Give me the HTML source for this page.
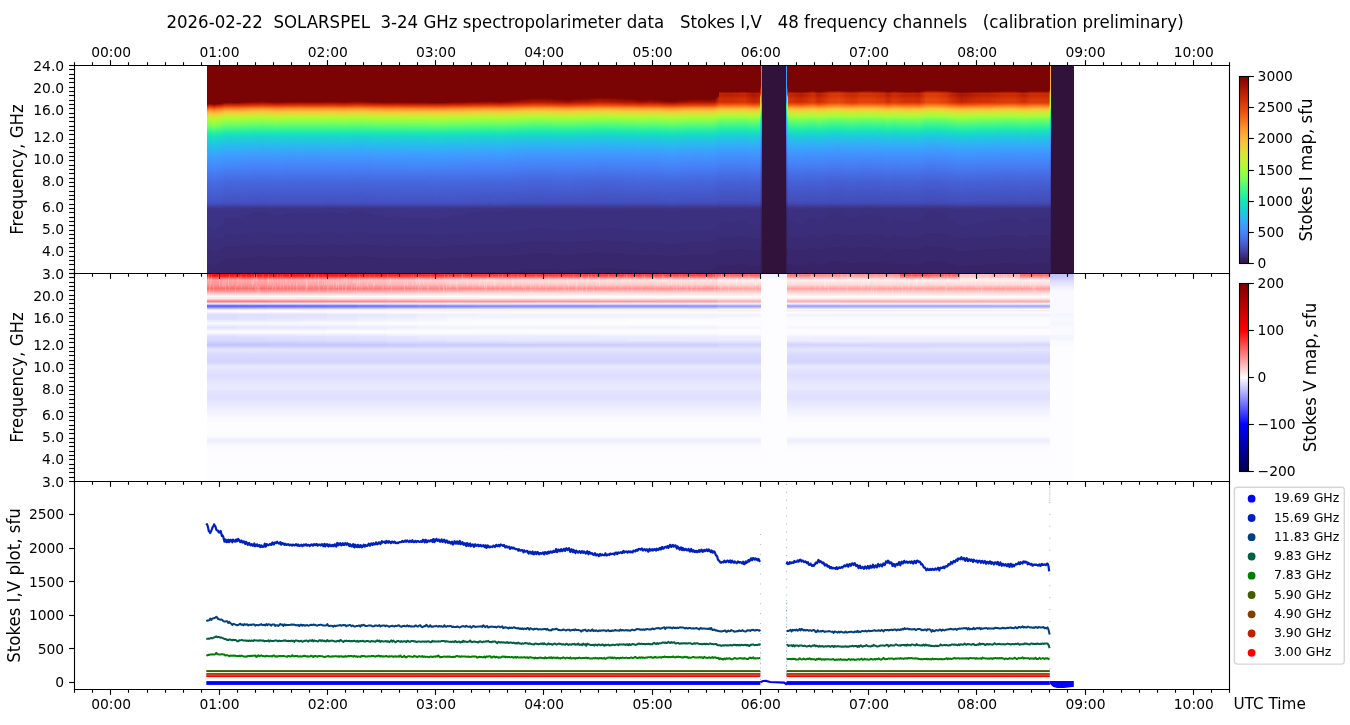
<!DOCTYPE html>
<html lang="en"><head><meta charset="utf-8"><title>SOLARSPEL spectropolarimeter data</title><style>html,body{margin:0;padding:0;background:#fff;}svg{display:block;}</style></head><body><svg width="1350" height="725" viewBox="0 0 1350 725"><defs><linearGradient id="gi0" x1="0" y1="0" x2="0" y2="1"><stop offset="0" stop-color="#7a0403"/><stop offset="0.1851" stop-color="#7a0403"/><stop offset="0.1923" stop-color="#af1801"/><stop offset="0.1971" stop-color="#ce2d04"/><stop offset="0.2019" stop-color="#e4450a"/><stop offset="0.2091" stop-color="#f56918"/><stop offset="0.2188" stop-color="#fe962b"/><stop offset="0.226" stop-color="#fcb136"/><stop offset="0.2356" stop-color="#f1cb3a"/><stop offset="0.2524" stop-color="#cbed34"/><stop offset="0.2572" stop-color="#bcf534"/><stop offset="0.274" stop-color="#9ffd3f"/><stop offset="0.2957" stop-color="#71fe5f"/><stop offset="0.3053" stop-color="#55fa76"/><stop offset="0.3221" stop-color="#2ff19b"/><stop offset="0.3341" stop-color="#1de7b2"/><stop offset="0.3438" stop-color="#18dec0"/><stop offset="0.3702" stop-color="#1ccdd8"/><stop offset="0.4159" stop-color="#33adf7"/><stop offset="0.4615" stop-color="#4196ff"/><stop offset="0.5096" stop-color="#4680f6"/><stop offset="0.5625" stop-color="#466be3"/><stop offset="0.6442" stop-color="#4559cb"/><stop offset="0.6562" stop-color="#4456c7"/><stop offset="0.6659" stop-color="#434eba"/><stop offset="0.6875" stop-color="#3d358b"/><stop offset="0.7067" stop-color="#3c3286"/><stop offset="0.7861" stop-color="#3c3286"/><stop offset="0.7885" stop-color="#3b2f80"/><stop offset="0.8413" stop-color="#3b2f80"/><stop offset="0.8438" stop-color="#3a2d79"/><stop offset="0.8942" stop-color="#3a2d79"/><stop offset="0.8966" stop-color="#392a73"/><stop offset="0.9591" stop-color="#392a73"/><stop offset="0.9615" stop-color="#38276d"/><stop offset="1" stop-color="#38276d"/></linearGradient><linearGradient id="gi1" x1="0" y1="0" x2="0" y2="1"><stop offset="0" stop-color="#7a0403"/><stop offset="0.1827" stop-color="#7a0403"/><stop offset="0.1851" stop-color="#810602"/><stop offset="0.1923" stop-color="#b71d02"/><stop offset="0.1971" stop-color="#d43305"/><stop offset="0.2019" stop-color="#e7490c"/><stop offset="0.2067" stop-color="#f46617"/><stop offset="0.2163" stop-color="#fe932a"/><stop offset="0.2236" stop-color="#fdae35"/><stop offset="0.2356" stop-color="#eecf3a"/><stop offset="0.2524" stop-color="#c6f034"/><stop offset="0.262" stop-color="#affa37"/><stop offset="0.2764" stop-color="#96fe44"/><stop offset="0.2933" stop-color="#71fe5f"/><stop offset="0.3125" stop-color="#3ff68a"/><stop offset="0.3245" stop-color="#27eea4"/><stop offset="0.3365" stop-color="#19e3b9"/><stop offset="0.3654" stop-color="#1bd0d5"/><stop offset="0.3966" stop-color="#2ab9ee"/><stop offset="0.4399" stop-color="#3d9efe"/><stop offset="0.4904" stop-color="#4687fb"/><stop offset="0.5601" stop-color="#466be3"/><stop offset="0.6538" stop-color="#4456c7"/><stop offset="0.6659" stop-color="#434eba"/><stop offset="0.6875" stop-color="#3d358b"/><stop offset="0.7067" stop-color="#3c3286"/><stop offset="0.7812" stop-color="#3c3286"/><stop offset="0.7837" stop-color="#3b2f80"/><stop offset="0.8341" stop-color="#3b2f80"/><stop offset="0.8365" stop-color="#3a2d79"/><stop offset="0.8894" stop-color="#3a2d79"/><stop offset="0.8918" stop-color="#392a73"/><stop offset="0.9519" stop-color="#392a73"/><stop offset="0.9543" stop-color="#38276d"/><stop offset="1" stop-color="#38276d"/></linearGradient><linearGradient id="gi2" x1="0" y1="0" x2="0" y2="1"><stop offset="0" stop-color="#7a0403"/><stop offset="0.1827" stop-color="#7a0403"/><stop offset="0.1899" stop-color="#b21a01"/><stop offset="0.1947" stop-color="#cc2b04"/><stop offset="0.2019" stop-color="#eb500e"/><stop offset="0.2091" stop-color="#f9781e"/><stop offset="0.2188" stop-color="#fea431"/><stop offset="0.2284" stop-color="#f7c13a"/><stop offset="0.2428" stop-color="#dbe236"/><stop offset="0.2572" stop-color="#b4f836"/><stop offset="0.274" stop-color="#96fe44"/><stop offset="0.2981" stop-color="#61fc6c"/><stop offset="0.3077" stop-color="#46f884"/><stop offset="0.3197" stop-color="#2cf09e"/><stop offset="0.3365" stop-color="#19e2bb"/><stop offset="0.3654" stop-color="#1ccdd8"/><stop offset="0.4062" stop-color="#2fb2f4"/><stop offset="0.4351" stop-color="#3d9efe"/><stop offset="0.488" stop-color="#4687fb"/><stop offset="0.5577" stop-color="#466be3"/><stop offset="0.6514" stop-color="#4456c7"/><stop offset="0.6635" stop-color="#4451bf"/><stop offset="0.6707" stop-color="#4249b1"/><stop offset="0.6755" stop-color="#4040a2"/><stop offset="0.6779" stop-color="#4040a2"/><stop offset="0.6875" stop-color="#3d358b"/><stop offset="0.7019" stop-color="#3c3286"/><stop offset="0.774" stop-color="#3c3286"/><stop offset="0.7764" stop-color="#3b2f80"/><stop offset="0.8293" stop-color="#3b2f80"/><stop offset="0.8317" stop-color="#3a2d79"/><stop offset="0.8846" stop-color="#3a2d79"/><stop offset="0.887" stop-color="#392a73"/><stop offset="0.9471" stop-color="#392a73"/><stop offset="0.9495" stop-color="#38276d"/><stop offset="1" stop-color="#38276d"/></linearGradient><linearGradient id="gi3" x1="0" y1="0" x2="0" y2="1"><stop offset="0" stop-color="#7a0403"/><stop offset="0.1827" stop-color="#7a0403"/><stop offset="0.1851" stop-color="#850702"/><stop offset="0.1923" stop-color="#b91e02"/><stop offset="0.1995" stop-color="#df3f08"/><stop offset="0.2067" stop-color="#f46617"/><stop offset="0.2163" stop-color="#fe932a"/><stop offset="0.2236" stop-color="#fdae35"/><stop offset="0.2356" stop-color="#eecf3a"/><stop offset="0.25" stop-color="#cbed34"/><stop offset="0.2572" stop-color="#b7f735"/><stop offset="0.2716" stop-color="#9ffd3f"/><stop offset="0.2909" stop-color="#75fe5c"/><stop offset="0.3125" stop-color="#3ff68a"/><stop offset="0.3269" stop-color="#22ebaa"/><stop offset="0.3413" stop-color="#18dec0"/><stop offset="0.3702" stop-color="#1ecbda"/><stop offset="0.4087" stop-color="#2fb2f4"/><stop offset="0.4375" stop-color="#3d9efe"/><stop offset="0.4904" stop-color="#4687fb"/><stop offset="0.5601" stop-color="#466be3"/><stop offset="0.637" stop-color="#4559cb"/><stop offset="0.6538" stop-color="#4456c7"/><stop offset="0.6659" stop-color="#434eba"/><stop offset="0.6875" stop-color="#3d358b"/><stop offset="0.7019" stop-color="#3c3286"/><stop offset="0.7788" stop-color="#3c3286"/><stop offset="0.7812" stop-color="#3b2f80"/><stop offset="0.8341" stop-color="#3b2f80"/><stop offset="0.8365" stop-color="#3a2d79"/><stop offset="0.887" stop-color="#3a2d79"/><stop offset="0.8894" stop-color="#392a73"/><stop offset="0.9519" stop-color="#392a73"/><stop offset="0.9543" stop-color="#38276d"/><stop offset="1" stop-color="#38276d"/></linearGradient><linearGradient id="gi4" x1="0" y1="0" x2="0" y2="1"><stop offset="0" stop-color="#7a0403"/><stop offset="0.1851" stop-color="#7a0403"/><stop offset="0.1899" stop-color="#a41301"/><stop offset="0.1971" stop-color="#d02f05"/><stop offset="0.2043" stop-color="#ed5510"/><stop offset="0.2163" stop-color="#fe9029"/><stop offset="0.2236" stop-color="#fdac34"/><stop offset="0.2332" stop-color="#f4c73a"/><stop offset="0.2476" stop-color="#d4e735"/><stop offset="0.2572" stop-color="#b9f635"/><stop offset="0.2716" stop-color="#a1fd3d"/><stop offset="0.2909" stop-color="#79fe59"/><stop offset="0.3077" stop-color="#4ef97d"/><stop offset="0.3221" stop-color="#2cf09e"/><stop offset="0.3389" stop-color="#19e2bb"/><stop offset="0.3678" stop-color="#1bd0d5"/><stop offset="0.3942" stop-color="#28bceb"/><stop offset="0.4303" stop-color="#3aa3fc"/><stop offset="0.476" stop-color="#448ffe"/><stop offset="0.524" stop-color="#4778f0"/><stop offset="0.5817" stop-color="#4666dd"/><stop offset="0.6418" stop-color="#4559cb"/><stop offset="0.6538" stop-color="#4456c7"/><stop offset="0.6635" stop-color="#4451bf"/><stop offset="0.6875" stop-color="#3d358b"/><stop offset="0.7067" stop-color="#3c3286"/><stop offset="0.7837" stop-color="#3c3286"/><stop offset="0.7861" stop-color="#3b2f80"/><stop offset="0.8389" stop-color="#3b2f80"/><stop offset="0.8413" stop-color="#3a2d79"/><stop offset="0.8918" stop-color="#3a2d79"/><stop offset="0.8942" stop-color="#392a73"/><stop offset="0.9567" stop-color="#392a73"/><stop offset="0.9591" stop-color="#38276d"/><stop offset="1" stop-color="#38276d"/></linearGradient><linearGradient id="gi5" x1="0" y1="0" x2="0" y2="1"><stop offset="0" stop-color="#7a0403"/><stop offset="0.1851" stop-color="#7a0403"/><stop offset="0.1899" stop-color="#9b0f01"/><stop offset="0.1947" stop-color="#be2102"/><stop offset="0.1995" stop-color="#da3907"/><stop offset="0.2067" stop-color="#f15d13"/><stop offset="0.2188" stop-color="#fe962b"/><stop offset="0.2308" stop-color="#f9bc39"/><stop offset="0.2428" stop-color="#e3db38"/><stop offset="0.2572" stop-color="#bef434"/><stop offset="0.2716" stop-color="#a4fc3c"/><stop offset="0.2861" stop-color="#88ff4e"/><stop offset="0.3053" stop-color="#59fb73"/><stop offset="0.3173" stop-color="#38f491"/><stop offset="0.3317" stop-color="#20eaac"/><stop offset="0.3413" stop-color="#18e0bd"/><stop offset="0.3678" stop-color="#1bd0d5"/><stop offset="0.4038" stop-color="#2cb7f0"/><stop offset="0.4423" stop-color="#3d9efe"/><stop offset="0.4952" stop-color="#4687fb"/><stop offset="0.5625" stop-color="#466be3"/><stop offset="0.6442" stop-color="#4559cb"/><stop offset="0.6562" stop-color="#4456c7"/><stop offset="0.6659" stop-color="#434eba"/><stop offset="0.6875" stop-color="#3d358b"/><stop offset="0.7067" stop-color="#3c3286"/><stop offset="0.7885" stop-color="#3c3286"/><stop offset="0.7909" stop-color="#3b2f80"/><stop offset="0.8413" stop-color="#3b2f80"/><stop offset="0.8438" stop-color="#3a2d79"/><stop offset="0.8966" stop-color="#3a2d79"/><stop offset="0.899" stop-color="#392a73"/><stop offset="0.9591" stop-color="#392a73"/><stop offset="0.9615" stop-color="#38276d"/><stop offset="1" stop-color="#38276d"/></linearGradient><linearGradient id="gi6" x1="0" y1="0" x2="0" y2="1"><stop offset="0" stop-color="#7a0403"/><stop offset="0.1851" stop-color="#7a0403"/><stop offset="0.1875" stop-color="#850702"/><stop offset="0.1947" stop-color="#bc2002"/><stop offset="0.1995" stop-color="#d83706"/><stop offset="0.2067" stop-color="#f05b12"/><stop offset="0.2163" stop-color="#fc8725"/><stop offset="0.2236" stop-color="#fea732"/><stop offset="0.2356" stop-color="#f2c93a"/><stop offset="0.25" stop-color="#d2e935"/><stop offset="0.2596" stop-color="#b9f635"/><stop offset="0.274" stop-color="#a1fd3d"/><stop offset="0.2933" stop-color="#79fe59"/><stop offset="0.3149" stop-color="#3ff68a"/><stop offset="0.3269" stop-color="#27eea4"/><stop offset="0.3389" stop-color="#19e3b9"/><stop offset="0.3702" stop-color="#1bd0d5"/><stop offset="0.3966" stop-color="#28bceb"/><stop offset="0.4327" stop-color="#3aa3fc"/><stop offset="0.4784" stop-color="#448ffe"/><stop offset="0.5312" stop-color="#4778f0"/><stop offset="0.5625" stop-color="#466be3"/><stop offset="0.6466" stop-color="#4559cb"/><stop offset="0.6562" stop-color="#4456c7"/><stop offset="0.6659" stop-color="#434eba"/><stop offset="0.6875" stop-color="#3d358b"/><stop offset="0.7067" stop-color="#3c3286"/><stop offset="0.7909" stop-color="#3c3286"/><stop offset="0.7933" stop-color="#3b2f80"/><stop offset="0.8438" stop-color="#3b2f80"/><stop offset="0.8462" stop-color="#3a2d79"/><stop offset="0.8966" stop-color="#3a2d79"/><stop offset="0.899" stop-color="#392a73"/><stop offset="0.9615" stop-color="#392a73"/><stop offset="0.9639" stop-color="#38276d"/><stop offset="1" stop-color="#38276d"/></linearGradient><linearGradient id="gi7" x1="0" y1="0" x2="0" y2="1"><stop offset="0" stop-color="#7a0403"/><stop offset="0.1851" stop-color="#7a0403"/><stop offset="0.1923" stop-color="#b21a01"/><stop offset="0.1995" stop-color="#dc3b07"/><stop offset="0.2067" stop-color="#f26014"/><stop offset="0.2188" stop-color="#fe992c"/><stop offset="0.2308" stop-color="#f8be39"/><stop offset="0.2428" stop-color="#e1dd37"/><stop offset="0.2572" stop-color="#bcf534"/><stop offset="0.274" stop-color="#9ffd3f"/><stop offset="0.2861" stop-color="#84ff51"/><stop offset="0.3029" stop-color="#5dfc6f"/><stop offset="0.3149" stop-color="#3cf58e"/><stop offset="0.3317" stop-color="#1fe9af"/><stop offset="0.3438" stop-color="#18dec0"/><stop offset="0.3726" stop-color="#1ecbda"/><stop offset="0.4111" stop-color="#2fb2f4"/><stop offset="0.4351" stop-color="#3ba0fd"/><stop offset="0.4808" stop-color="#458cfd"/><stop offset="0.5361" stop-color="#4776ee"/><stop offset="0.5625" stop-color="#466be3"/><stop offset="0.6562" stop-color="#4456c7"/><stop offset="0.6659" stop-color="#434eba"/><stop offset="0.6875" stop-color="#3d358b"/><stop offset="0.7067" stop-color="#3c3286"/><stop offset="0.7861" stop-color="#3c3286"/><stop offset="0.7885" stop-color="#3b2f80"/><stop offset="0.8389" stop-color="#3b2f80"/><stop offset="0.8413" stop-color="#3a2d79"/><stop offset="0.8942" stop-color="#3a2d79"/><stop offset="0.8966" stop-color="#392a73"/><stop offset="0.9567" stop-color="#392a73"/><stop offset="0.9591" stop-color="#38276d"/><stop offset="1" stop-color="#38276d"/></linearGradient><linearGradient id="gi8" x1="0" y1="0" x2="0" y2="1"><stop offset="0" stop-color="#7a0403"/><stop offset="0.1827" stop-color="#7a0403"/><stop offset="0.1923" stop-color="#be2102"/><stop offset="0.1995" stop-color="#e2430a"/><stop offset="0.2067" stop-color="#f56918"/><stop offset="0.2163" stop-color="#fe962b"/><stop offset="0.2236" stop-color="#fcb136"/><stop offset="0.2332" stop-color="#f1cb3a"/><stop offset="0.2476" stop-color="#d0ea34"/><stop offset="0.2572" stop-color="#b4f836"/><stop offset="0.2716" stop-color="#9cfe40"/><stop offset="0.2933" stop-color="#6dfe62"/><stop offset="0.3125" stop-color="#3cf58e"/><stop offset="0.3293" stop-color="#1fe9af"/><stop offset="0.3413" stop-color="#18dec0"/><stop offset="0.3702" stop-color="#1ecbda"/><stop offset="0.4014" stop-color="#2eb4f2"/><stop offset="0.4375" stop-color="#3d9efe"/><stop offset="0.4904" stop-color="#4687fb"/><stop offset="0.5625" stop-color="#4669e0"/><stop offset="0.6154" stop-color="#455ed3"/><stop offset="0.6202" stop-color="#455ccf"/><stop offset="0.6538" stop-color="#4456c7"/><stop offset="0.6659" stop-color="#434eba"/><stop offset="0.6707" stop-color="#4249b1"/><stop offset="0.6755" stop-color="#4040a2"/><stop offset="0.6779" stop-color="#4040a2"/><stop offset="0.6875" stop-color="#3d358b"/><stop offset="0.7019" stop-color="#3c3286"/><stop offset="0.7764" stop-color="#3c3286"/><stop offset="0.7788" stop-color="#3b2f80"/><stop offset="0.8317" stop-color="#3b2f80"/><stop offset="0.8341" stop-color="#3a2d79"/><stop offset="0.8846" stop-color="#3a2d79"/><stop offset="0.887" stop-color="#392a73"/><stop offset="0.9495" stop-color="#392a73"/><stop offset="0.9519" stop-color="#38276d"/><stop offset="1" stop-color="#38276d"/></linearGradient><linearGradient id="gi9" x1="0" y1="0" x2="0" y2="1"><stop offset="0" stop-color="#7a0403"/><stop offset="0.1803" stop-color="#7a0403"/><stop offset="0.1827" stop-color="#7e0502"/><stop offset="0.1899" stop-color="#b41b01"/><stop offset="0.1971" stop-color="#dc3b07"/><stop offset="0.2067" stop-color="#f76f1a"/><stop offset="0.2163" stop-color="#fe9b2d"/><stop offset="0.2212" stop-color="#fdae35"/><stop offset="0.2332" stop-color="#eecf3a"/><stop offset="0.25" stop-color="#c6f034"/><stop offset="0.2572" stop-color="#b1f936"/><stop offset="0.2716" stop-color="#99fe42"/><stop offset="0.2933" stop-color="#69fd66"/><stop offset="0.3125" stop-color="#38f491"/><stop offset="0.3269" stop-color="#20eaac"/><stop offset="0.3389" stop-color="#18dec0"/><stop offset="0.3678" stop-color="#1ecbda"/><stop offset="0.3966" stop-color="#2cb7f0"/><stop offset="0.4351" stop-color="#3d9efe"/><stop offset="0.488" stop-color="#4687fb"/><stop offset="0.5553" stop-color="#466be3"/><stop offset="0.6587" stop-color="#4454c3"/><stop offset="0.6659" stop-color="#434eba"/><stop offset="0.6707" stop-color="#4146ac"/><stop offset="0.6851" stop-color="#3e3891"/><stop offset="0.6875" stop-color="#3d358b"/><stop offset="0.7019" stop-color="#3c3286"/><stop offset="0.7716" stop-color="#3c3286"/><stop offset="0.774" stop-color="#3b2f80"/><stop offset="0.8269" stop-color="#3b2f80"/><stop offset="0.8293" stop-color="#3a2d79"/><stop offset="0.8822" stop-color="#3a2d79"/><stop offset="0.8846" stop-color="#392a73"/><stop offset="0.9447" stop-color="#392a73"/><stop offset="0.9471" stop-color="#38276d"/><stop offset="1" stop-color="#38276d"/></linearGradient><linearGradient id="gi10" x1="0" y1="0" x2="0" y2="1"><stop offset="0" stop-color="#7a0403"/><stop offset="0.1803" stop-color="#7a0403"/><stop offset="0.1851" stop-color="#9b0f01"/><stop offset="0.1899" stop-color="#bc2002"/><stop offset="0.1971" stop-color="#df3f08"/><stop offset="0.1995" stop-color="#e7490c"/><stop offset="0.2067" stop-color="#f9751d"/><stop offset="0.2188" stop-color="#fea933"/><stop offset="0.2212" stop-color="#fcb336"/><stop offset="0.2308" stop-color="#f1cb3a"/><stop offset="0.2428" stop-color="#d7e535"/><stop offset="0.2548" stop-color="#b4f836"/><stop offset="0.2716" stop-color="#96fe44"/><stop offset="0.2933" stop-color="#65fd69"/><stop offset="0.3173" stop-color="#2cf09e"/><stop offset="0.3341" stop-color="#19e3b9"/><stop offset="0.3438" stop-color="#18d9c8"/><stop offset="0.3726" stop-color="#20c7df"/><stop offset="0.3942" stop-color="#2cb7f0"/><stop offset="0.4327" stop-color="#3d9efe"/><stop offset="0.4856" stop-color="#4687fb"/><stop offset="0.5529" stop-color="#466be3"/><stop offset="0.6418" stop-color="#4456c7"/><stop offset="0.6514" stop-color="#4456c7"/><stop offset="0.6635" stop-color="#434eba"/><stop offset="0.6803" stop-color="#3f3b97"/><stop offset="0.6827" stop-color="#3f3b97"/><stop offset="0.6875" stop-color="#3d358b"/><stop offset="0.6971" stop-color="#3c3286"/><stop offset="0.7644" stop-color="#3c3286"/><stop offset="0.7668" stop-color="#3b2f80"/><stop offset="0.8221" stop-color="#3b2f80"/><stop offset="0.8245" stop-color="#3a2d79"/><stop offset="0.8774" stop-color="#3a2d79"/><stop offset="0.8798" stop-color="#392a73"/><stop offset="0.9399" stop-color="#392a73"/><stop offset="0.9423" stop-color="#38276d"/><stop offset="1" stop-color="#38276d"/></linearGradient><linearGradient id="gi11" x1="0" y1="0" x2="0" y2="1"><stop offset="0" stop-color="#7a0403"/><stop offset="0.1779" stop-color="#7a0403"/><stop offset="0.1803" stop-color="#810602"/><stop offset="0.1875" stop-color="#b21a01"/><stop offset="0.1923" stop-color="#ce2d04"/><stop offset="0.1995" stop-color="#ea4e0d"/><stop offset="0.2067" stop-color="#fa7b1f"/><stop offset="0.2163" stop-color="#fea431"/><stop offset="0.2236" stop-color="#f9bc39"/><stop offset="0.2356" stop-color="#e5d938"/><stop offset="0.2476" stop-color="#c6f034"/><stop offset="0.2596" stop-color="#a7fc3a"/><stop offset="0.2716" stop-color="#92ff47"/><stop offset="0.2933" stop-color="#61fc6c"/><stop offset="0.3149" stop-color="#2ff19b"/><stop offset="0.3293" stop-color="#1ce6b4"/><stop offset="0.3438" stop-color="#18d9c8"/><stop offset="0.3798" stop-color="#25c0e7"/><stop offset="0.4159" stop-color="#37a8fa"/><stop offset="0.4471" stop-color="#4196ff"/><stop offset="0.5" stop-color="#4680f6"/><stop offset="0.5673" stop-color="#4666dd"/><stop offset="0.6442" stop-color="#4456c7"/><stop offset="0.6562" stop-color="#4454c3"/><stop offset="0.6635" stop-color="#434eba"/><stop offset="0.6803" stop-color="#3f3b97"/><stop offset="0.6827" stop-color="#3f3b97"/><stop offset="0.6875" stop-color="#3d358b"/><stop offset="0.6971" stop-color="#3c3286"/><stop offset="0.75" stop-color="#3c3286"/><stop offset="0.7524" stop-color="#3b2f80"/><stop offset="0.8173" stop-color="#3b2f80"/><stop offset="0.8197" stop-color="#3a2d79"/><stop offset="0.8726" stop-color="#3a2d79"/><stop offset="0.875" stop-color="#392a73"/><stop offset="0.9351" stop-color="#392a73"/><stop offset="0.9375" stop-color="#38276d"/><stop offset="1" stop-color="#38276d"/></linearGradient><linearGradient id="gi12" x1="0" y1="0" x2="0" y2="1"><stop offset="0" stop-color="#7a0403"/><stop offset="0.1779" stop-color="#7a0403"/><stop offset="0.1851" stop-color="#af1801"/><stop offset="0.1947" stop-color="#dd3d08"/><stop offset="0.1995" stop-color="#ed5510"/><stop offset="0.2067" stop-color="#fb8122"/><stop offset="0.2163" stop-color="#fea933"/><stop offset="0.2236" stop-color="#f7c13a"/><stop offset="0.2356" stop-color="#e1dd37"/><stop offset="0.25" stop-color="#bcf534"/><stop offset="0.2572" stop-color="#a7fc3a"/><stop offset="0.2692" stop-color="#92ff47"/><stop offset="0.2909" stop-color="#61fc6c"/><stop offset="0.3173" stop-color="#27eea4"/><stop offset="0.3317" stop-color="#19e3b9"/><stop offset="0.3486" stop-color="#1ad4d0"/><stop offset="0.3918" stop-color="#2cb7f0"/><stop offset="0.4279" stop-color="#3d9efe"/><stop offset="0.4808" stop-color="#4687fb"/><stop offset="0.5481" stop-color="#466be3"/><stop offset="0.637" stop-color="#4456c7"/><stop offset="0.6538" stop-color="#4454c3"/><stop offset="0.6659" stop-color="#424bb5"/><stop offset="0.6827" stop-color="#3e3891"/><stop offset="0.6851" stop-color="#3e3891"/><stop offset="0.6899" stop-color="#3c3286"/><stop offset="0.7332" stop-color="#3c3286"/><stop offset="0.7356" stop-color="#3b2f80"/><stop offset="0.8125" stop-color="#3b2f80"/><stop offset="0.8149" stop-color="#3a2d79"/><stop offset="0.8678" stop-color="#3a2d79"/><stop offset="0.8702" stop-color="#392a73"/><stop offset="0.9279" stop-color="#392a73"/><stop offset="0.9303" stop-color="#38276d"/><stop offset="1" stop-color="#38276d"/></linearGradient><linearGradient id="gi13" x1="0" y1="0" x2="0" y2="1"><stop offset="0" stop-color="#7a0403"/><stop offset="0.1755" stop-color="#7a0403"/><stop offset="0.1779" stop-color="#810602"/><stop offset="0.1851" stop-color="#b21a01"/><stop offset="0.1947" stop-color="#df3f08"/><stop offset="0.1995" stop-color="#ed5510"/><stop offset="0.2067" stop-color="#fc8423"/><stop offset="0.2188" stop-color="#fcb336"/><stop offset="0.2236" stop-color="#f6c33a"/><stop offset="0.2332" stop-color="#e5d938"/><stop offset="0.2476" stop-color="#c1f334"/><stop offset="0.2596" stop-color="#a1fd3d"/><stop offset="0.2716" stop-color="#8bff4b"/><stop offset="0.3005" stop-color="#4af880"/><stop offset="0.3125" stop-color="#2ff19b"/><stop offset="0.3269" stop-color="#1ce6b4"/><stop offset="0.3413" stop-color="#18d7ca"/><stop offset="0.3774" stop-color="#25c0e7"/><stop offset="0.4062" stop-color="#33adf7"/><stop offset="0.4327" stop-color="#3e9bfe"/><stop offset="0.4856" stop-color="#4685fa"/><stop offset="0.5625" stop-color="#4666dd"/><stop offset="0.613" stop-color="#455ccf"/><stop offset="0.649" stop-color="#4454c3"/><stop offset="0.6587" stop-color="#4451bf"/><stop offset="0.6683" stop-color="#4249b1"/><stop offset="0.6827" stop-color="#3e3891"/><stop offset="0.6851" stop-color="#3e3891"/><stop offset="0.6899" stop-color="#3c3286"/><stop offset="0.7308" stop-color="#3c3286"/><stop offset="0.7332" stop-color="#3b2f80"/><stop offset="0.8101" stop-color="#3b2f80"/><stop offset="0.8125" stop-color="#3a2d79"/><stop offset="0.8678" stop-color="#3a2d79"/><stop offset="0.8702" stop-color="#392a73"/><stop offset="0.9255" stop-color="#392a73"/><stop offset="0.9279" stop-color="#38276d"/><stop offset="1" stop-color="#38276d"/></linearGradient><linearGradient id="gi14" x1="0" y1="0" x2="0" y2="1"><stop offset="0" stop-color="#7a0403"/><stop offset="0.1755" stop-color="#7a0403"/><stop offset="0.1779" stop-color="#850702"/><stop offset="0.1875" stop-color="#c12302"/><stop offset="0.1947" stop-color="#e14109"/><stop offset="0.2019" stop-color="#f46617"/><stop offset="0.2043" stop-color="#f9781e"/><stop offset="0.2139" stop-color="#fea431"/><stop offset="0.2236" stop-color="#f6c33a"/><stop offset="0.238" stop-color="#d9e436"/><stop offset="0.25" stop-color="#b9f635"/><stop offset="0.2572" stop-color="#a4fc3c"/><stop offset="0.2716" stop-color="#8bff4b"/><stop offset="0.2981" stop-color="#4ef97d"/><stop offset="0.3197" stop-color="#22ebaa"/><stop offset="0.3365" stop-color="#18ddc2"/><stop offset="0.3438" stop-color="#19d5cd"/><stop offset="0.3726" stop-color="#23c3e4"/><stop offset="0.3966" stop-color="#2fb2f4"/><stop offset="0.4375" stop-color="#4099ff"/><stop offset="0.4904" stop-color="#4682f8"/><stop offset="0.5625" stop-color="#4666dd"/><stop offset="0.6514" stop-color="#4454c3"/><stop offset="0.6635" stop-color="#434eba"/><stop offset="0.6851" stop-color="#3d358b"/><stop offset="0.6947" stop-color="#3c3286"/><stop offset="0.726" stop-color="#3c3286"/><stop offset="0.7284" stop-color="#3b2f80"/><stop offset="0.8077" stop-color="#3b2f80"/><stop offset="0.8101" stop-color="#3a2d79"/><stop offset="0.8654" stop-color="#3a2d79"/><stop offset="0.8678" stop-color="#392a73"/><stop offset="0.9255" stop-color="#392a73"/><stop offset="0.9279" stop-color="#38276d"/><stop offset="1" stop-color="#38276d"/></linearGradient><linearGradient id="gi15" x1="0" y1="0" x2="0" y2="1"><stop offset="0" stop-color="#7a0403"/><stop offset="0.1755" stop-color="#7a0403"/><stop offset="0.1851" stop-color="#b41b01"/><stop offset="0.1899" stop-color="#ce2d04"/><stop offset="0.1971" stop-color="#ea4e0d"/><stop offset="0.2067" stop-color="#fc8725"/><stop offset="0.2163" stop-color="#fdae35"/><stop offset="0.2236" stop-color="#f5c53a"/><stop offset="0.238" stop-color="#d9e436"/><stop offset="0.2524" stop-color="#b1f936"/><stop offset="0.2572" stop-color="#a4fc3c"/><stop offset="0.2692" stop-color="#8fff49"/><stop offset="0.2909" stop-color="#5dfc6f"/><stop offset="0.3101" stop-color="#32f298"/><stop offset="0.3245" stop-color="#1de7b2"/><stop offset="0.3389" stop-color="#18d9c8"/><stop offset="0.375" stop-color="#25c0e7"/><stop offset="0.4111" stop-color="#37a8fa"/><stop offset="0.4471" stop-color="#4294ff"/><stop offset="0.5024" stop-color="#467df4"/><stop offset="0.5625" stop-color="#4666dd"/><stop offset="0.649" stop-color="#4454c3"/><stop offset="0.6587" stop-color="#4451bf"/><stop offset="0.6683" stop-color="#4249b1"/><stop offset="0.6851" stop-color="#3d358b"/><stop offset="0.6947" stop-color="#3c3286"/><stop offset="0.7212" stop-color="#3c3286"/><stop offset="0.7236" stop-color="#3b2f80"/><stop offset="0.8077" stop-color="#3b2f80"/><stop offset="0.8101" stop-color="#3a2d79"/><stop offset="0.863" stop-color="#3a2d79"/><stop offset="0.8654" stop-color="#392a73"/><stop offset="0.9231" stop-color="#392a73"/><stop offset="0.9255" stop-color="#38276d"/><stop offset="0.9976" stop-color="#38276d"/><stop offset="1" stop-color="#372466"/></linearGradient><linearGradient id="gi16" x1="0" y1="0" x2="0" y2="1"><stop offset="0" stop-color="#7a0403"/><stop offset="0.1755" stop-color="#7a0403"/><stop offset="0.1851" stop-color="#b71d02"/><stop offset="0.1923" stop-color="#da3907"/><stop offset="0.1995" stop-color="#f05b12"/><stop offset="0.2043" stop-color="#fa7b1f"/><stop offset="0.2139" stop-color="#fea732"/><stop offset="0.2236" stop-color="#f5c53a"/><stop offset="0.238" stop-color="#d7e535"/><stop offset="0.2524" stop-color="#b1f936"/><stop offset="0.2596" stop-color="#9ffd3f"/><stop offset="0.2837" stop-color="#6dfe62"/><stop offset="0.3005" stop-color="#46f884"/><stop offset="0.3125" stop-color="#2cf09e"/><stop offset="0.3293" stop-color="#19e3b9"/><stop offset="0.3486" stop-color="#1ad2d2"/><stop offset="0.3918" stop-color="#2eb4f2"/><stop offset="0.4351" stop-color="#4099ff"/><stop offset="0.4904" stop-color="#4682f8"/><stop offset="0.5625" stop-color="#4666dd"/><stop offset="0.649" stop-color="#4454c3"/><stop offset="0.6587" stop-color="#4451bf"/><stop offset="0.6683" stop-color="#4249b1"/><stop offset="0.6851" stop-color="#3d358b"/><stop offset="0.6947" stop-color="#3c3286"/><stop offset="0.7163" stop-color="#3c3286"/><stop offset="0.7188" stop-color="#3b2f80"/><stop offset="0.8053" stop-color="#3b2f80"/><stop offset="0.8077" stop-color="#3a2d79"/><stop offset="0.863" stop-color="#3a2d79"/><stop offset="0.8654" stop-color="#392a73"/><stop offset="0.9207" stop-color="#392a73"/><stop offset="0.9231" stop-color="#38276d"/><stop offset="0.9976" stop-color="#38276d"/><stop offset="1" stop-color="#372466"/></linearGradient><linearGradient id="gi17" x1="0" y1="0" x2="0" y2="1"><stop offset="0" stop-color="#7a0403"/><stop offset="0.1731" stop-color="#7a0403"/><stop offset="0.1755" stop-color="#7e0502"/><stop offset="0.1851" stop-color="#b91e02"/><stop offset="0.1923" stop-color="#dc3b07"/><stop offset="0.1995" stop-color="#f15d13"/><stop offset="0.2067" stop-color="#fd8a26"/><stop offset="0.2163" stop-color="#fcb136"/><stop offset="0.2236" stop-color="#f4c73a"/><stop offset="0.2404" stop-color="#d0ea34"/><stop offset="0.2524" stop-color="#affa37"/><stop offset="0.2572" stop-color="#a1fd3d"/><stop offset="0.2692" stop-color="#8bff4b"/><stop offset="0.3005" stop-color="#46f884"/><stop offset="0.3125" stop-color="#2cf09e"/><stop offset="0.3293" stop-color="#19e3b9"/><stop offset="0.3462" stop-color="#1ad4d0"/><stop offset="0.387" stop-color="#2cb7f0"/><stop offset="0.4327" stop-color="#4099ff"/><stop offset="0.488" stop-color="#4682f8"/><stop offset="0.5625" stop-color="#4666dd"/><stop offset="0.6587" stop-color="#4451bf"/><stop offset="0.6683" stop-color="#4249b1"/><stop offset="0.6851" stop-color="#3d358b"/><stop offset="0.6947" stop-color="#3c3286"/><stop offset="0.7115" stop-color="#3c3286"/><stop offset="0.7139" stop-color="#3b2f80"/><stop offset="0.8029" stop-color="#3b2f80"/><stop offset="0.8053" stop-color="#3a2d79"/><stop offset="0.8606" stop-color="#3a2d79"/><stop offset="0.863" stop-color="#392a73"/><stop offset="0.9183" stop-color="#392a73"/><stop offset="0.9207" stop-color="#38276d"/><stop offset="0.9952" stop-color="#38276d"/><stop offset="0.9976" stop-color="#372466"/><stop offset="1" stop-color="#372466"/></linearGradient><linearGradient id="gi18" x1="0" y1="0" x2="0" y2="1"><stop offset="0" stop-color="#7a0403"/><stop offset="0.1731" stop-color="#7a0403"/><stop offset="0.1755" stop-color="#810602"/><stop offset="0.1851" stop-color="#bc2002"/><stop offset="0.1947" stop-color="#e4450a"/><stop offset="0.2043" stop-color="#fb7e21"/><stop offset="0.2067" stop-color="#fd8d27"/><stop offset="0.2163" stop-color="#fcb336"/><stop offset="0.226" stop-color="#efcd3a"/><stop offset="0.2404" stop-color="#d0ea34"/><stop offset="0.25" stop-color="#b4f836"/><stop offset="0.2644" stop-color="#92ff47"/><stop offset="0.274" stop-color="#80ff53"/><stop offset="0.2957" stop-color="#4ef97d"/><stop offset="0.3149" stop-color="#27eea4"/><stop offset="0.3293" stop-color="#19e3b9"/><stop offset="0.3413" stop-color="#19d5cd"/><stop offset="0.3702" stop-color="#23c3e4"/><stop offset="0.3942" stop-color="#2fb2f4"/><stop offset="0.4375" stop-color="#4196ff"/><stop offset="0.488" stop-color="#4682f8"/><stop offset="0.5601" stop-color="#4666dd"/><stop offset="0.6587" stop-color="#4451bf"/><stop offset="0.6683" stop-color="#4249b1"/><stop offset="0.6851" stop-color="#3d358b"/><stop offset="0.6947" stop-color="#3c3286"/><stop offset="0.7091" stop-color="#3c3286"/><stop offset="0.7115" stop-color="#3b2f80"/><stop offset="0.8029" stop-color="#3b2f80"/><stop offset="0.8053" stop-color="#3a2d79"/><stop offset="0.8606" stop-color="#3a2d79"/><stop offset="0.863" stop-color="#392a73"/><stop offset="0.9183" stop-color="#392a73"/><stop offset="0.9207" stop-color="#38276d"/><stop offset="0.9952" stop-color="#38276d"/><stop offset="0.9976" stop-color="#372466"/><stop offset="1" stop-color="#372466"/></linearGradient><linearGradient id="gi19" x1="0" y1="0" x2="0" y2="1"><stop offset="0" stop-color="#7a0403"/><stop offset="0.1707" stop-color="#7a0403"/><stop offset="0.1731" stop-color="#7e0502"/><stop offset="0.1779" stop-color="#950d01"/><stop offset="0.1851" stop-color="#be2102"/><stop offset="0.1923" stop-color="#dd3d08"/><stop offset="0.1995" stop-color="#f26014"/><stop offset="0.2043" stop-color="#fb8122"/><stop offset="0.2139" stop-color="#fdac34"/><stop offset="0.2236" stop-color="#f2c93a"/><stop offset="0.2332" stop-color="#dfdf37"/><stop offset="0.2476" stop-color="#b9f635"/><stop offset="0.2572" stop-color="#9ffd3f"/><stop offset="0.2668" stop-color="#8fff49"/><stop offset="0.2885" stop-color="#5dfc6f"/><stop offset="0.3077" stop-color="#35f394"/><stop offset="0.3197" stop-color="#20eaac"/><stop offset="0.3341" stop-color="#18ddc2"/><stop offset="0.3438" stop-color="#1ad4d0"/><stop offset="0.387" stop-color="#2cb7f0"/><stop offset="0.4255" stop-color="#3d9efe"/><stop offset="0.4736" stop-color="#4687fb"/><stop offset="0.5457" stop-color="#466be3"/><stop offset="0.5697" stop-color="#4664da"/><stop offset="0.6562" stop-color="#4451bf"/><stop offset="0.6659" stop-color="#424bb5"/><stop offset="0.6875" stop-color="#3c3286"/><stop offset="0.7043" stop-color="#3c3286"/><stop offset="0.7067" stop-color="#3b2f80"/><stop offset="0.8005" stop-color="#3b2f80"/><stop offset="0.8029" stop-color="#3a2d79"/><stop offset="0.8582" stop-color="#3a2d79"/><stop offset="0.8606" stop-color="#392a73"/><stop offset="0.9159" stop-color="#392a73"/><stop offset="0.9183" stop-color="#38276d"/><stop offset="0.9928" stop-color="#38276d"/><stop offset="0.9952" stop-color="#372466"/><stop offset="1" stop-color="#372466"/></linearGradient><linearGradient id="gi20" x1="0" y1="0" x2="0" y2="1"><stop offset="0" stop-color="#7a0403"/><stop offset="0.1707" stop-color="#7a0403"/><stop offset="0.1755" stop-color="#8b0902"/><stop offset="0.1851" stop-color="#c12302"/><stop offset="0.1947" stop-color="#e7490c"/><stop offset="0.2043" stop-color="#fb8122"/><stop offset="0.2067" stop-color="#fe9029"/><stop offset="0.2163" stop-color="#fbb637"/><stop offset="0.2284" stop-color="#e9d539"/><stop offset="0.2428" stop-color="#c6f034"/><stop offset="0.2524" stop-color="#acfb38"/><stop offset="0.2572" stop-color="#9ffd3f"/><stop offset="0.274" stop-color="#7dff56"/><stop offset="0.2909" stop-color="#55fa76"/><stop offset="0.3101" stop-color="#2ff19b"/><stop offset="0.3221" stop-color="#1de7b2"/><stop offset="0.3365" stop-color="#18dbc5"/><stop offset="0.3462" stop-color="#1ad2d2"/><stop offset="0.3918" stop-color="#2fb2f4"/><stop offset="0.4327" stop-color="#4099ff"/><stop offset="0.488" stop-color="#4682f8"/><stop offset="0.5649" stop-color="#4664da"/><stop offset="0.6082" stop-color="#455ccf"/><stop offset="0.613" stop-color="#4559cb"/><stop offset="0.649" stop-color="#4454c3"/><stop offset="0.6611" stop-color="#434eba"/><stop offset="0.6659" stop-color="#424bb5"/><stop offset="0.6731" stop-color="#4143a7"/><stop offset="0.6755" stop-color="#3f3e9c"/><stop offset="0.6803" stop-color="#3f3b97"/><stop offset="0.6875" stop-color="#3c3286"/><stop offset="0.6995" stop-color="#3c3286"/><stop offset="0.7019" stop-color="#3b2f80"/><stop offset="0.7981" stop-color="#3b2f80"/><stop offset="0.8005" stop-color="#3a2d79"/><stop offset="0.8558" stop-color="#3a2d79"/><stop offset="0.8582" stop-color="#392a73"/><stop offset="0.9135" stop-color="#392a73"/><stop offset="0.9159" stop-color="#38276d"/><stop offset="0.9904" stop-color="#38276d"/><stop offset="0.9928" stop-color="#372466"/><stop offset="1" stop-color="#372466"/></linearGradient><linearGradient id="gi21" x1="0" y1="0" x2="0" y2="1"><stop offset="0" stop-color="#7a0403"/><stop offset="0.1779" stop-color="#7a0403"/><stop offset="0.1851" stop-color="#ac1701"/><stop offset="0.1899" stop-color="#c82803"/><stop offset="0.1995" stop-color="#ec530f"/><stop offset="0.2067" stop-color="#fb7e21"/><stop offset="0.2163" stop-color="#fea933"/><stop offset="0.2236" stop-color="#f7c13a"/><stop offset="0.2332" stop-color="#e7d739"/><stop offset="0.2476" stop-color="#c3f134"/><stop offset="0.2596" stop-color="#a4fc3c"/><stop offset="0.2716" stop-color="#8fff49"/><stop offset="0.2933" stop-color="#5dfc6f"/><stop offset="0.3101" stop-color="#35f394"/><stop offset="0.3269" stop-color="#1de7b2"/><stop offset="0.3389" stop-color="#18dbc5"/><stop offset="0.3726" stop-color="#22c5e2"/><stop offset="0.4014" stop-color="#31aff5"/><stop offset="0.4399" stop-color="#4099ff"/><stop offset="0.4928" stop-color="#4682f8"/><stop offset="0.5649" stop-color="#4666dd"/><stop offset="0.6154" stop-color="#455ccf"/><stop offset="0.6514" stop-color="#4454c3"/><stop offset="0.6611" stop-color="#4451bf"/><stop offset="0.6827" stop-color="#3e3891"/><stop offset="0.6947" stop-color="#3c3286"/><stop offset="0.738" stop-color="#3c3286"/><stop offset="0.7404" stop-color="#3b2f80"/><stop offset="0.8125" stop-color="#3b2f80"/><stop offset="0.8149" stop-color="#3a2d79"/><stop offset="0.8702" stop-color="#3a2d79"/><stop offset="0.8726" stop-color="#392a73"/><stop offset="0.9303" stop-color="#392a73"/><stop offset="0.9327" stop-color="#38276d"/><stop offset="1" stop-color="#38276d"/></linearGradient><linearGradient id="gi22" x1="0" y1="0" x2="0" y2="1"><stop offset="0" stop-color="#7a0403"/><stop offset="0.1683" stop-color="#7a0403"/><stop offset="0.1707" stop-color="#7e0502"/><stop offset="0.1755" stop-color="#8e0a01"/><stop offset="0.1851" stop-color="#c32503"/><stop offset="0.1923" stop-color="#e14109"/><stop offset="0.1995" stop-color="#f46617"/><stop offset="0.2067" stop-color="#fe9029"/><stop offset="0.2163" stop-color="#fbb637"/><stop offset="0.2236" stop-color="#f1cb3a"/><stop offset="0.238" stop-color="#d2e935"/><stop offset="0.2524" stop-color="#acfb38"/><stop offset="0.2692" stop-color="#84ff51"/><stop offset="0.2909" stop-color="#55fa76"/><stop offset="0.3101" stop-color="#2cf09e"/><stop offset="0.3269" stop-color="#19e3b9"/><stop offset="0.3462" stop-color="#1ad2d2"/><stop offset="0.3846" stop-color="#2cb7f0"/><stop offset="0.4231" stop-color="#3d9efe"/><stop offset="0.4712" stop-color="#4687fb"/><stop offset="0.5385" stop-color="#476ee6"/><stop offset="0.5553" stop-color="#4666dd"/><stop offset="0.6058" stop-color="#455ccf"/><stop offset="0.6418" stop-color="#4454c3"/><stop offset="0.6514" stop-color="#4454c3"/><stop offset="0.6635" stop-color="#424bb5"/><stop offset="0.6827" stop-color="#3e3891"/><stop offset="0.6875" stop-color="#3c3286"/><stop offset="0.6947" stop-color="#3c3286"/><stop offset="0.6971" stop-color="#3b2f80"/><stop offset="0.7981" stop-color="#3b2f80"/><stop offset="0.8005" stop-color="#3a2d79"/><stop offset="0.8558" stop-color="#3a2d79"/><stop offset="0.8582" stop-color="#392a73"/><stop offset="0.9135" stop-color="#392a73"/><stop offset="0.9159" stop-color="#38276d"/><stop offset="0.9904" stop-color="#38276d"/><stop offset="0.9928" stop-color="#372466"/><stop offset="1" stop-color="#372466"/></linearGradient><linearGradient id="gi23" x1="0" y1="0" x2="0" y2="1"><stop offset="0" stop-color="#7a0403"/><stop offset="0.1659" stop-color="#7a0403"/><stop offset="0.1755" stop-color="#920b01"/><stop offset="0.1851" stop-color="#c52603"/><stop offset="0.1923" stop-color="#e14109"/><stop offset="0.1995" stop-color="#f46617"/><stop offset="0.2067" stop-color="#fe932a"/><stop offset="0.2163" stop-color="#fbb838"/><stop offset="0.2308" stop-color="#e3db38"/><stop offset="0.2428" stop-color="#c3f134"/><stop offset="0.2524" stop-color="#a9fb39"/><stop offset="0.2692" stop-color="#84ff51"/><stop offset="0.3005" stop-color="#3ff68a"/><stop offset="0.3173" stop-color="#22ebaa"/><stop offset="0.3293" stop-color="#18e0bd"/><stop offset="0.3389" stop-color="#18d7ca"/><stop offset="0.3413" stop-color="#1ad4d0"/><stop offset="0.3678" stop-color="#23c3e4"/><stop offset="0.3942" stop-color="#31aff5"/><stop offset="0.4351" stop-color="#4196ff"/><stop offset="0.4856" stop-color="#4682f8"/><stop offset="0.5577" stop-color="#4666dd"/><stop offset="0.6442" stop-color="#4454c3"/><stop offset="0.6562" stop-color="#4451bf"/><stop offset="0.6659" stop-color="#4249b1"/><stop offset="0.6755" stop-color="#3f3e9c"/><stop offset="0.6803" stop-color="#3f3b97"/><stop offset="0.6875" stop-color="#3c3286"/><stop offset="0.6947" stop-color="#3c3286"/><stop offset="0.6971" stop-color="#3b2f80"/><stop offset="0.7957" stop-color="#3b2f80"/><stop offset="0.7981" stop-color="#3a2d79"/><stop offset="0.8534" stop-color="#3a2d79"/><stop offset="0.8558" stop-color="#392a73"/><stop offset="0.9111" stop-color="#392a73"/><stop offset="0.9135" stop-color="#38276d"/><stop offset="0.988" stop-color="#38276d"/><stop offset="0.9904" stop-color="#372466"/><stop offset="1" stop-color="#372466"/></linearGradient><linearGradient id="gi24" x1="0" y1="0" x2="0" y2="1"><stop offset="0" stop-color="#7a0403"/><stop offset="0.1659" stop-color="#7a0403"/><stop offset="0.1755" stop-color="#950d01"/><stop offset="0.1851" stop-color="#c82803"/><stop offset="0.1947" stop-color="#ea4e0d"/><stop offset="0.2043" stop-color="#fc8725"/><stop offset="0.2139" stop-color="#fcb136"/><stop offset="0.2236" stop-color="#efcd3a"/><stop offset="0.238" stop-color="#d0ea34"/><stop offset="0.2524" stop-color="#a9fb39"/><stop offset="0.262" stop-color="#92ff47"/><stop offset="0.2885" stop-color="#59fb73"/><stop offset="0.3077" stop-color="#2ff19b"/><stop offset="0.3197" stop-color="#1fe9af"/><stop offset="0.3317" stop-color="#18dec0"/><stop offset="0.3438" stop-color="#1ad2d2"/><stop offset="0.387" stop-color="#2eb4f2"/><stop offset="0.4303" stop-color="#4099ff"/><stop offset="0.4856" stop-color="#4682f8"/><stop offset="0.5625" stop-color="#4664da"/><stop offset="0.6058" stop-color="#455ccf"/><stop offset="0.6106" stop-color="#4559cb"/><stop offset="0.6466" stop-color="#4454c3"/><stop offset="0.6562" stop-color="#4451bf"/><stop offset="0.6659" stop-color="#4249b1"/><stop offset="0.6755" stop-color="#3f3e9c"/><stop offset="0.6803" stop-color="#3f3b97"/><stop offset="0.6875" stop-color="#3c3286"/><stop offset="0.6947" stop-color="#3c3286"/><stop offset="0.6971" stop-color="#3b2f80"/><stop offset="0.7933" stop-color="#3b2f80"/><stop offset="0.7957" stop-color="#3a2d79"/><stop offset="0.8534" stop-color="#3a2d79"/><stop offset="0.8558" stop-color="#392a73"/><stop offset="0.9111" stop-color="#392a73"/><stop offset="0.9135" stop-color="#38276d"/><stop offset="0.9856" stop-color="#38276d"/><stop offset="0.988" stop-color="#372466"/><stop offset="1" stop-color="#372466"/></linearGradient><linearGradient id="gi25" x1="0" y1="0" x2="0" y2="1"><stop offset="0" stop-color="#7a0403"/><stop offset="0.1635" stop-color="#7a0403"/><stop offset="0.1755" stop-color="#980e01"/><stop offset="0.1851" stop-color="#ca2a04"/><stop offset="0.1947" stop-color="#eb500e"/><stop offset="0.1995" stop-color="#f56918"/><stop offset="0.2043" stop-color="#fd8a26"/><stop offset="0.2115" stop-color="#fea933"/><stop offset="0.2212" stop-color="#f2c93a"/><stop offset="0.2332" stop-color="#dbe236"/><stop offset="0.2452" stop-color="#bcf534"/><stop offset="0.2548" stop-color="#a1fd3d"/><stop offset="0.2572" stop-color="#99fe42"/><stop offset="0.2716" stop-color="#7dff56"/><stop offset="0.2885" stop-color="#55fa76"/><stop offset="0.3101" stop-color="#2cf09e"/><stop offset="0.3221" stop-color="#1ce6b4"/><stop offset="0.3365" stop-color="#18d9c8"/><stop offset="0.3462" stop-color="#1bd0d5"/><stop offset="0.3822" stop-color="#2cb7f0"/><stop offset="0.4279" stop-color="#4099ff"/><stop offset="0.4832" stop-color="#4682f8"/><stop offset="0.5481" stop-color="#4669e0"/><stop offset="0.637" stop-color="#4454c3"/><stop offset="0.6562" stop-color="#4451bf"/><stop offset="0.6659" stop-color="#4249b1"/><stop offset="0.6755" stop-color="#3f3e9c"/><stop offset="0.6803" stop-color="#3f3b97"/><stop offset="0.6875" stop-color="#3c3286"/><stop offset="0.6947" stop-color="#3c3286"/><stop offset="0.6971" stop-color="#3b2f80"/><stop offset="0.7933" stop-color="#3b2f80"/><stop offset="0.7957" stop-color="#3a2d79"/><stop offset="0.851" stop-color="#3a2d79"/><stop offset="0.8534" stop-color="#392a73"/><stop offset="0.9087" stop-color="#392a73"/><stop offset="0.9111" stop-color="#38276d"/><stop offset="0.9856" stop-color="#38276d"/><stop offset="0.988" stop-color="#372466"/><stop offset="1" stop-color="#372466"/></linearGradient><linearGradient id="gi26" x1="0" y1="0" x2="0" y2="1"><stop offset="0" stop-color="#7a0403"/><stop offset="0.1635" stop-color="#7a0403"/><stop offset="0.1755" stop-color="#9b0f01"/><stop offset="0.1851" stop-color="#cc2b04"/><stop offset="0.1947" stop-color="#ec530f"/><stop offset="0.1995" stop-color="#f66c19"/><stop offset="0.2067" stop-color="#fe992c"/><stop offset="0.2163" stop-color="#faba39"/><stop offset="0.2236" stop-color="#eecf3a"/><stop offset="0.238" stop-color="#cdec34"/><stop offset="0.2524" stop-color="#a7fc3a"/><stop offset="0.2668" stop-color="#84ff51"/><stop offset="0.2885" stop-color="#55fa76"/><stop offset="0.3101" stop-color="#2aefa1"/><stop offset="0.3221" stop-color="#1ce6b4"/><stop offset="0.3365" stop-color="#18d7ca"/><stop offset="0.3582" stop-color="#20c7df"/><stop offset="0.3894" stop-color="#2fb2f4"/><stop offset="0.4327" stop-color="#4196ff"/><stop offset="0.4832" stop-color="#4682f8"/><stop offset="0.5481" stop-color="#4669e0"/><stop offset="0.637" stop-color="#4454c3"/><stop offset="0.6562" stop-color="#4451bf"/><stop offset="0.6659" stop-color="#4249b1"/><stop offset="0.6779" stop-color="#3f3b97"/><stop offset="0.6803" stop-color="#3f3b97"/><stop offset="0.6875" stop-color="#3c3286"/><stop offset="0.6947" stop-color="#3c3286"/><stop offset="0.6971" stop-color="#3b2f80"/><stop offset="0.7909" stop-color="#3b2f80"/><stop offset="0.7933" stop-color="#3a2d79"/><stop offset="0.8486" stop-color="#3a2d79"/><stop offset="0.851" stop-color="#392a73"/><stop offset="0.9087" stop-color="#392a73"/><stop offset="0.9111" stop-color="#38276d"/><stop offset="0.9832" stop-color="#38276d"/><stop offset="0.9856" stop-color="#372466"/><stop offset="1" stop-color="#372466"/></linearGradient><linearGradient id="gi27" x1="0" y1="0" x2="0" y2="1"><stop offset="0" stop-color="#7a0403"/><stop offset="0.1611" stop-color="#7a0403"/><stop offset="0.1755" stop-color="#a11201"/><stop offset="0.1851" stop-color="#ce2d04"/><stop offset="0.1947" stop-color="#ec530f"/><stop offset="0.2043" stop-color="#fd8d27"/><stop offset="0.2139" stop-color="#fbb637"/><stop offset="0.226" stop-color="#e9d539"/><stop offset="0.2428" stop-color="#bef434"/><stop offset="0.2524" stop-color="#a4fc3c"/><stop offset="0.274" stop-color="#75fe5c"/><stop offset="0.2909" stop-color="#4ef97d"/><stop offset="0.3077" stop-color="#2cf09e"/><stop offset="0.3245" stop-color="#19e3b9"/><stop offset="0.3413" stop-color="#1ad2d2"/><stop offset="0.3846" stop-color="#2eb4f2"/><stop offset="0.4279" stop-color="#4099ff"/><stop offset="0.4832" stop-color="#4682f8"/><stop offset="0.5553" stop-color="#4666dd"/><stop offset="0.6514" stop-color="#4451bf"/><stop offset="0.6611" stop-color="#434eba"/><stop offset="0.6779" stop-color="#3f3b97"/><stop offset="0.6803" stop-color="#3f3b97"/><stop offset="0.6875" stop-color="#3c3286"/><stop offset="0.6947" stop-color="#3c3286"/><stop offset="0.6971" stop-color="#3b2f80"/><stop offset="0.7885" stop-color="#3b2f80"/><stop offset="0.7909" stop-color="#3a2d79"/><stop offset="0.8486" stop-color="#3a2d79"/><stop offset="0.851" stop-color="#392a73"/><stop offset="0.9062" stop-color="#392a73"/><stop offset="0.9087" stop-color="#38276d"/><stop offset="0.9832" stop-color="#38276d"/><stop offset="0.9856" stop-color="#372466"/><stop offset="1" stop-color="#372466"/></linearGradient><linearGradient id="gi28" x1="0" y1="0" x2="0" y2="1"><stop offset="0" stop-color="#7a0403"/><stop offset="0.1611" stop-color="#7a0403"/><stop offset="0.1659" stop-color="#8b0902"/><stop offset="0.1755" stop-color="#a41301"/><stop offset="0.1851" stop-color="#ce2d04"/><stop offset="0.1923" stop-color="#e7490c"/><stop offset="0.2019" stop-color="#fb7e21"/><stop offset="0.2067" stop-color="#fe9b2d"/><stop offset="0.2163" stop-color="#f8be39"/><stop offset="0.2284" stop-color="#e3db38"/><stop offset="0.2452" stop-color="#b7f735"/><stop offset="0.2548" stop-color="#9ffd3f"/><stop offset="0.262" stop-color="#8bff4b"/><stop offset="0.2716" stop-color="#79fe59"/><stop offset="0.2812" stop-color="#61fc6c"/><stop offset="0.3053" stop-color="#32f298"/><stop offset="0.3197" stop-color="#1de7b2"/><stop offset="0.3341" stop-color="#18d9c8"/><stop offset="0.3534" stop-color="#1fc9dd"/><stop offset="0.3918" stop-color="#31aff5"/><stop offset="0.4303" stop-color="#4196ff"/><stop offset="0.488" stop-color="#4680f6"/><stop offset="0.5601" stop-color="#4664da"/><stop offset="0.6538" stop-color="#4451bf"/><stop offset="0.6635" stop-color="#424bb5"/><stop offset="0.6779" stop-color="#3f3b97"/><stop offset="0.6803" stop-color="#3f3b97"/><stop offset="0.6875" stop-color="#3c3286"/><stop offset="0.6947" stop-color="#3c3286"/><stop offset="0.6971" stop-color="#3b2f80"/><stop offset="0.7885" stop-color="#3b2f80"/><stop offset="0.7909" stop-color="#3a2d79"/><stop offset="0.8462" stop-color="#3a2d79"/><stop offset="0.8486" stop-color="#392a73"/><stop offset="0.9062" stop-color="#392a73"/><stop offset="0.9087" stop-color="#38276d"/><stop offset="0.9808" stop-color="#38276d"/><stop offset="0.9832" stop-color="#372466"/><stop offset="1" stop-color="#372466"/></linearGradient><linearGradient id="gi29" x1="0" y1="0" x2="0" y2="1"><stop offset="0" stop-color="#7a0403"/><stop offset="0.1587" stop-color="#7a0403"/><stop offset="0.1755" stop-color="#a71401"/><stop offset="0.1851" stop-color="#d02f05"/><stop offset="0.1923" stop-color="#e84b0c"/><stop offset="0.1995" stop-color="#f8721c"/><stop offset="0.2043" stop-color="#fe9029"/><stop offset="0.2091" stop-color="#fea732"/><stop offset="0.2188" stop-color="#f5c53a"/><stop offset="0.2284" stop-color="#e1dd37"/><stop offset="0.2452" stop-color="#b7f735"/><stop offset="0.262" stop-color="#8bff4b"/><stop offset="0.2837" stop-color="#5dfc6f"/><stop offset="0.2933" stop-color="#46f884"/><stop offset="0.3029" stop-color="#35f394"/><stop offset="0.3125" stop-color="#25eca7"/><stop offset="0.3269" stop-color="#18e0bd"/><stop offset="0.3438" stop-color="#1bd0d5"/><stop offset="0.3798" stop-color="#2cb7f0"/><stop offset="0.4255" stop-color="#4099ff"/><stop offset="0.4808" stop-color="#4682f8"/><stop offset="0.5457" stop-color="#4669e0"/><stop offset="0.6346" stop-color="#4454c3"/><stop offset="0.6538" stop-color="#4451bf"/><stop offset="0.6659" stop-color="#4249b1"/><stop offset="0.6779" stop-color="#3f3b97"/><stop offset="0.6803" stop-color="#3f3b97"/><stop offset="0.6875" stop-color="#3c3286"/><stop offset="0.6947" stop-color="#3c3286"/><stop offset="0.6971" stop-color="#3b2f80"/><stop offset="0.7861" stop-color="#3b2f80"/><stop offset="0.7885" stop-color="#3a2d79"/><stop offset="0.8438" stop-color="#3a2d79"/><stop offset="0.8462" stop-color="#392a73"/><stop offset="0.9038" stop-color="#392a73"/><stop offset="0.9062" stop-color="#38276d"/><stop offset="0.9784" stop-color="#38276d"/><stop offset="0.9808" stop-color="#372466"/><stop offset="1" stop-color="#372466"/></linearGradient><linearGradient id="gi30" x1="0" y1="0" x2="0" y2="1"><stop offset="0" stop-color="#7a0403"/><stop offset="0.1562" stop-color="#7a0403"/><stop offset="0.1635" stop-color="#8b0902"/><stop offset="0.1683" stop-color="#9b0f01"/><stop offset="0.1755" stop-color="#a91601"/><stop offset="0.1851" stop-color="#d23105"/><stop offset="0.1923" stop-color="#ea4e0d"/><stop offset="0.1971" stop-color="#f46617"/><stop offset="0.2043" stop-color="#fe932a"/><stop offset="0.2139" stop-color="#fbb838"/><stop offset="0.226" stop-color="#e5d938"/><stop offset="0.2428" stop-color="#bcf534"/><stop offset="0.2548" stop-color="#9cfe40"/><stop offset="0.2572" stop-color="#92ff47"/><stop offset="0.2668" stop-color="#80ff53"/><stop offset="0.2837" stop-color="#59fb73"/><stop offset="0.3077" stop-color="#2cf09e"/><stop offset="0.3197" stop-color="#1ce6b4"/><stop offset="0.3341" stop-color="#18d9c8"/><stop offset="0.3462" stop-color="#1ccdd8"/><stop offset="0.387" stop-color="#2fb2f4"/><stop offset="0.4303" stop-color="#4196ff"/><stop offset="0.4856" stop-color="#4680f6"/><stop offset="0.5529" stop-color="#4666dd"/><stop offset="0.649" stop-color="#4451bf"/><stop offset="0.6587" stop-color="#434eba"/><stop offset="0.6683" stop-color="#4146ac"/><stop offset="0.6779" stop-color="#3f3b97"/><stop offset="0.6803" stop-color="#3f3b97"/><stop offset="0.6875" stop-color="#3c3286"/><stop offset="0.6995" stop-color="#3b2f80"/><stop offset="0.7837" stop-color="#3b2f80"/><stop offset="0.7861" stop-color="#3a2d79"/><stop offset="0.8438" stop-color="#3a2d79"/><stop offset="0.8462" stop-color="#392a73"/><stop offset="0.9014" stop-color="#392a73"/><stop offset="0.9038" stop-color="#38276d"/><stop offset="0.9784" stop-color="#38276d"/><stop offset="0.9808" stop-color="#372466"/><stop offset="1" stop-color="#372466"/></linearGradient><linearGradient id="gi31" x1="0" y1="0" x2="0" y2="1"><stop offset="0" stop-color="#7a0403"/><stop offset="0.1562" stop-color="#7a0403"/><stop offset="0.1683" stop-color="#9e1001"/><stop offset="0.1755" stop-color="#ac1701"/><stop offset="0.1851" stop-color="#d43305"/><stop offset="0.1947" stop-color="#f05b12"/><stop offset="0.2043" stop-color="#fe932a"/><stop offset="0.2067" stop-color="#fea130"/><stop offset="0.2163" stop-color="#f7c13a"/><stop offset="0.2284" stop-color="#dfdf37"/><stop offset="0.2428" stop-color="#bcf534"/><stop offset="0.2524" stop-color="#a1fd3d"/><stop offset="0.2572" stop-color="#92ff47"/><stop offset="0.2764" stop-color="#69fd66"/><stop offset="0.2812" stop-color="#5dfc6f"/><stop offset="0.3077" stop-color="#2aefa1"/><stop offset="0.3197" stop-color="#1ce6b4"/><stop offset="0.3341" stop-color="#18d9c8"/><stop offset="0.3486" stop-color="#1ecbda"/><stop offset="0.387" stop-color="#2fb2f4"/><stop offset="0.4303" stop-color="#4196ff"/><stop offset="0.4856" stop-color="#4680f6"/><stop offset="0.5529" stop-color="#4666dd"/><stop offset="0.6466" stop-color="#4451bf"/><stop offset="0.6538" stop-color="#4451bf"/><stop offset="0.6659" stop-color="#4249b1"/><stop offset="0.6803" stop-color="#3e3891"/><stop offset="0.6827" stop-color="#3e3891"/><stop offset="0.6875" stop-color="#3c3286"/><stop offset="0.6995" stop-color="#3b2f80"/><stop offset="0.7812" stop-color="#3b2f80"/><stop offset="0.7837" stop-color="#3a2d79"/><stop offset="0.8413" stop-color="#3a2d79"/><stop offset="0.8438" stop-color="#392a73"/><stop offset="0.9014" stop-color="#392a73"/><stop offset="0.9038" stop-color="#38276d"/><stop offset="0.976" stop-color="#38276d"/><stop offset="0.9784" stop-color="#372466"/><stop offset="1" stop-color="#372466"/></linearGradient><linearGradient id="gi32" x1="0" y1="0" x2="0" y2="1"><stop offset="0" stop-color="#7a0403"/><stop offset="0.1538" stop-color="#7a0403"/><stop offset="0.1731" stop-color="#ac1701"/><stop offset="0.1755" stop-color="#af1801"/><stop offset="0.1851" stop-color="#d63506"/><stop offset="0.1923" stop-color="#eb500e"/><stop offset="0.2019" stop-color="#fc8725"/><stop offset="0.2067" stop-color="#fea130"/><stop offset="0.2163" stop-color="#f6c33a"/><stop offset="0.2308" stop-color="#d9e436"/><stop offset="0.2452" stop-color="#b4f836"/><stop offset="0.2548" stop-color="#99fe42"/><stop offset="0.2644" stop-color="#80ff53"/><stop offset="0.274" stop-color="#6dfe62"/><stop offset="0.2837" stop-color="#55fa76"/><stop offset="0.2981" stop-color="#3cf58e"/><stop offset="0.3053" stop-color="#2cf09e"/><stop offset="0.3221" stop-color="#19e3b9"/><stop offset="0.3317" stop-color="#18dbc5"/><stop offset="0.3413" stop-color="#1bd0d5"/><stop offset="0.3846" stop-color="#2fb2f4"/><stop offset="0.4303" stop-color="#4196ff"/><stop offset="0.4856" stop-color="#4680f6"/><stop offset="0.5577" stop-color="#4664da"/><stop offset="0.6346" stop-color="#4454c3"/><stop offset="0.6538" stop-color="#4451bf"/><stop offset="0.6659" stop-color="#4249b1"/><stop offset="0.6803" stop-color="#3e3891"/><stop offset="0.6827" stop-color="#3e3891"/><stop offset="0.6875" stop-color="#3c3286"/><stop offset="0.6995" stop-color="#3b2f80"/><stop offset="0.7812" stop-color="#3b2f80"/><stop offset="0.7837" stop-color="#3a2d79"/><stop offset="0.8413" stop-color="#3a2d79"/><stop offset="0.8438" stop-color="#392a73"/><stop offset="0.899" stop-color="#392a73"/><stop offset="0.9014" stop-color="#38276d"/><stop offset="0.9736" stop-color="#38276d"/><stop offset="0.976" stop-color="#372466"/><stop offset="1" stop-color="#372466"/></linearGradient><linearGradient id="gi33" x1="0" y1="0" x2="0" y2="1"><stop offset="0" stop-color="#7a0403"/><stop offset="0.1538" stop-color="#7a0403"/><stop offset="0.1587" stop-color="#8b0902"/><stop offset="0.1659" stop-color="#a11201"/><stop offset="0.1755" stop-color="#b21a01"/><stop offset="0.1851" stop-color="#d83706"/><stop offset="0.1923" stop-color="#ec530f"/><stop offset="0.2019" stop-color="#fc8725"/><stop offset="0.2067" stop-color="#fea431"/><stop offset="0.2163" stop-color="#f6c33a"/><stop offset="0.2284" stop-color="#dde037"/><stop offset="0.2428" stop-color="#b9f635"/><stop offset="0.2548" stop-color="#99fe42"/><stop offset="0.2572" stop-color="#8fff49"/><stop offset="0.2716" stop-color="#71fe5f"/><stop offset="0.2837" stop-color="#55fa76"/><stop offset="0.3053" stop-color="#2cf09e"/><stop offset="0.3221" stop-color="#19e3b9"/><stop offset="0.3413" stop-color="#1bd0d5"/><stop offset="0.3798" stop-color="#2eb4f2"/><stop offset="0.4255" stop-color="#4099ff"/><stop offset="0.476" stop-color="#4682f8"/><stop offset="0.5385" stop-color="#466be3"/><stop offset="0.5553" stop-color="#4664da"/><stop offset="0.6466" stop-color="#4451bf"/><stop offset="0.6538" stop-color="#4451bf"/><stop offset="0.6659" stop-color="#4249b1"/><stop offset="0.6803" stop-color="#3e3891"/><stop offset="0.6827" stop-color="#3e3891"/><stop offset="0.6875" stop-color="#3c3286"/><stop offset="0.6995" stop-color="#3b2f80"/><stop offset="0.7788" stop-color="#3b2f80"/><stop offset="0.7812" stop-color="#3a2d79"/><stop offset="0.8389" stop-color="#3a2d79"/><stop offset="0.8413" stop-color="#392a73"/><stop offset="0.899" stop-color="#392a73"/><stop offset="0.9014" stop-color="#38276d"/><stop offset="0.9736" stop-color="#38276d"/><stop offset="0.976" stop-color="#372466"/><stop offset="1" stop-color="#372466"/></linearGradient><linearGradient id="gi34" x1="0" y1="0" x2="0" y2="1"><stop offset="0" stop-color="#7a0403"/><stop offset="0.1538" stop-color="#7a0403"/><stop offset="0.1562" stop-color="#880802"/><stop offset="0.1659" stop-color="#a41301"/><stop offset="0.1779" stop-color="#be2102"/><stop offset="0.1851" stop-color="#da3907"/><stop offset="0.1947" stop-color="#f26014"/><stop offset="0.2043" stop-color="#fe992c"/><stop offset="0.2115" stop-color="#fbb637"/><stop offset="0.2236" stop-color="#e7d739"/><stop offset="0.2404" stop-color="#bef434"/><stop offset="0.2524" stop-color="#9ffd3f"/><stop offset="0.2596" stop-color="#88ff4e"/><stop offset="0.2716" stop-color="#71fe5f"/><stop offset="0.2812" stop-color="#59fb73"/><stop offset="0.3053" stop-color="#2cf09e"/><stop offset="0.3221" stop-color="#19e3b9"/><stop offset="0.3413" stop-color="#1bd0d5"/><stop offset="0.3798" stop-color="#2eb4f2"/><stop offset="0.4231" stop-color="#4099ff"/><stop offset="0.476" stop-color="#4682f8"/><stop offset="0.5505" stop-color="#4666dd"/><stop offset="0.6442" stop-color="#4451bf"/><stop offset="0.6587" stop-color="#434eba"/><stop offset="0.6683" stop-color="#4146ac"/><stop offset="0.6803" stop-color="#3e3891"/><stop offset="0.6827" stop-color="#3e3891"/><stop offset="0.6875" stop-color="#3c3286"/><stop offset="0.6995" stop-color="#3b2f80"/><stop offset="0.7764" stop-color="#3b2f80"/><stop offset="0.7788" stop-color="#3a2d79"/><stop offset="0.8365" stop-color="#3a2d79"/><stop offset="0.8389" stop-color="#392a73"/><stop offset="0.8966" stop-color="#392a73"/><stop offset="0.899" stop-color="#38276d"/><stop offset="0.9712" stop-color="#38276d"/><stop offset="0.9736" stop-color="#372466"/><stop offset="1" stop-color="#372466"/></linearGradient><linearGradient id="gi35" x1="0" y1="0" x2="0" y2="1"><stop offset="0" stop-color="#7a0403"/><stop offset="0.1538" stop-color="#7a0403"/><stop offset="0.1562" stop-color="#8b0902"/><stop offset="0.1611" stop-color="#9b0f01"/><stop offset="0.1707" stop-color="#b21a01"/><stop offset="0.1755" stop-color="#b91e02"/><stop offset="0.1851" stop-color="#dc3b07"/><stop offset="0.1899" stop-color="#e84b0c"/><stop offset="0.1995" stop-color="#fb7e21"/><stop offset="0.2067" stop-color="#fea732"/><stop offset="0.2163" stop-color="#f5c53a"/><stop offset="0.2284" stop-color="#dbe236"/><stop offset="0.2428" stop-color="#b7f735"/><stop offset="0.2548" stop-color="#96fe44"/><stop offset="0.2572" stop-color="#8bff4b"/><stop offset="0.2692" stop-color="#75fe5c"/><stop offset="0.2837" stop-color="#52fa7a"/><stop offset="0.3053" stop-color="#2cf09e"/><stop offset="0.3173" stop-color="#1ce6b4"/><stop offset="0.3341" stop-color="#18d7ca"/><stop offset="0.3438" stop-color="#1ccdd8"/><stop offset="0.3822" stop-color="#2fb2f4"/><stop offset="0.4303" stop-color="#4294ff"/><stop offset="0.4904" stop-color="#467df4"/><stop offset="0.5553" stop-color="#4664da"/><stop offset="0.6418" stop-color="#4451bf"/><stop offset="0.6514" stop-color="#4451bf"/><stop offset="0.6611" stop-color="#424bb5"/><stop offset="0.6659" stop-color="#4249b1"/><stop offset="0.6803" stop-color="#3e3891"/><stop offset="0.6827" stop-color="#3e3891"/><stop offset="0.6875" stop-color="#3c3286"/><stop offset="0.6995" stop-color="#3b2f80"/><stop offset="0.7764" stop-color="#3b2f80"/><stop offset="0.7788" stop-color="#3a2d79"/><stop offset="0.8365" stop-color="#3a2d79"/><stop offset="0.8389" stop-color="#392a73"/><stop offset="0.8966" stop-color="#392a73"/><stop offset="0.899" stop-color="#38276d"/><stop offset="0.9688" stop-color="#38276d"/><stop offset="0.9712" stop-color="#372466"/><stop offset="1" stop-color="#372466"/></linearGradient><linearGradient id="gi36" x1="0" y1="0" x2="0" y2="1"><stop offset="0" stop-color="#7a0403"/><stop offset="0.1466" stop-color="#7a0403"/><stop offset="0.149" stop-color="#810602"/><stop offset="0.1538" stop-color="#a11201"/><stop offset="0.1587" stop-color="#af1801"/><stop offset="0.1731" stop-color="#c12302"/><stop offset="0.1755" stop-color="#c12302"/><stop offset="0.1875" stop-color="#e7490c"/><stop offset="0.1971" stop-color="#f9751d"/><stop offset="0.2019" stop-color="#fe932a"/><stop offset="0.2067" stop-color="#fdac34"/><stop offset="0.2163" stop-color="#f2c93a"/><stop offset="0.2308" stop-color="#d2e935"/><stop offset="0.2452" stop-color="#acfb38"/><stop offset="0.2524" stop-color="#99fe42"/><stop offset="0.2572" stop-color="#88ff4e"/><stop offset="0.2668" stop-color="#75fe5c"/><stop offset="0.2837" stop-color="#4ef97d"/><stop offset="0.3029" stop-color="#2cf09e"/><stop offset="0.3197" stop-color="#19e3b9"/><stop offset="0.3389" stop-color="#1bd0d5"/><stop offset="0.3798" stop-color="#2fb2f4"/><stop offset="0.4279" stop-color="#4294ff"/><stop offset="0.488" stop-color="#467df4"/><stop offset="0.5553" stop-color="#4664da"/><stop offset="0.6394" stop-color="#4451bf"/><stop offset="0.6514" stop-color="#4451bf"/><stop offset="0.6611" stop-color="#424bb5"/><stop offset="0.6659" stop-color="#4249b1"/><stop offset="0.6827" stop-color="#3d358b"/><stop offset="0.6947" stop-color="#3b2f80"/><stop offset="0.7692" stop-color="#3b2f80"/><stop offset="0.7716" stop-color="#3a2d79"/><stop offset="0.8317" stop-color="#3a2d79"/><stop offset="0.8341" stop-color="#392a73"/><stop offset="0.8918" stop-color="#392a73"/><stop offset="0.8942" stop-color="#38276d"/><stop offset="0.9639" stop-color="#38276d"/><stop offset="0.9663" stop-color="#372466"/><stop offset="1" stop-color="#372466"/></linearGradient><linearGradient id="gi37" x1="0" y1="0" x2="0" y2="1"><stop offset="0" stop-color="#7a0403"/><stop offset="0.1442" stop-color="#7a0403"/><stop offset="0.1466" stop-color="#7e0502"/><stop offset="0.1538" stop-color="#ac1701"/><stop offset="0.1587" stop-color="#b91e02"/><stop offset="0.1683" stop-color="#c52603"/><stop offset="0.1755" stop-color="#ca2a04"/><stop offset="0.1875" stop-color="#ea4e0d"/><stop offset="0.1947" stop-color="#f76f1a"/><stop offset="0.2043" stop-color="#fea431"/><stop offset="0.2091" stop-color="#fbb838"/><stop offset="0.2188" stop-color="#ebd339"/><stop offset="0.2332" stop-color="#c8ef34"/><stop offset="0.2452" stop-color="#a9fb39"/><stop offset="0.2524" stop-color="#96fe44"/><stop offset="0.2572" stop-color="#84ff51"/><stop offset="0.2788" stop-color="#55fa76"/><stop offset="0.2957" stop-color="#35f394"/><stop offset="0.3101" stop-color="#20eaac"/><stop offset="0.3245" stop-color="#18dec0"/><stop offset="0.3389" stop-color="#1bd0d5"/><stop offset="0.3438" stop-color="#1ecbda"/><stop offset="0.3774" stop-color="#2fb2f4"/><stop offset="0.4255" stop-color="#4196ff"/><stop offset="0.4856" stop-color="#467df4"/><stop offset="0.5529" stop-color="#4664da"/><stop offset="0.637" stop-color="#4451bf"/><stop offset="0.649" stop-color="#4451bf"/><stop offset="0.6587" stop-color="#424bb5"/><stop offset="0.6635" stop-color="#4249b1"/><stop offset="0.6683" stop-color="#4143a7"/><stop offset="0.6731" stop-color="#4040a2"/><stop offset="0.6827" stop-color="#3d358b"/><stop offset="0.6947" stop-color="#3b2f80"/><stop offset="0.7596" stop-color="#3b2f80"/><stop offset="0.762" stop-color="#3a2d79"/><stop offset="0.8269" stop-color="#3a2d79"/><stop offset="0.8293" stop-color="#392a73"/><stop offset="0.887" stop-color="#392a73"/><stop offset="0.8894" stop-color="#38276d"/><stop offset="0.9591" stop-color="#38276d"/><stop offset="0.9615" stop-color="#372466"/><stop offset="1" stop-color="#372466"/></linearGradient><linearGradient id="gi38" x1="0" y1="0" x2="0" y2="1"><stop offset="0" stop-color="#7a0403"/><stop offset="0.125" stop-color="#7a0403"/><stop offset="0.1322" stop-color="#b21a01"/><stop offset="0.1346" stop-color="#c12302"/><stop offset="0.1442" stop-color="#be2102"/><stop offset="0.1611" stop-color="#d02f05"/><stop offset="0.1755" stop-color="#d02f05"/><stop offset="0.1851" stop-color="#e84b0c"/><stop offset="0.1971" stop-color="#fc8423"/><stop offset="0.2067" stop-color="#fcb336"/><stop offset="0.2163" stop-color="#eecf3a"/><stop offset="0.2308" stop-color="#cbed34"/><stop offset="0.2428" stop-color="#acfb38"/><stop offset="0.25" stop-color="#99fe42"/><stop offset="0.2572" stop-color="#80ff53"/><stop offset="0.2764" stop-color="#55fa76"/><stop offset="0.2981" stop-color="#2ff19b"/><stop offset="0.3101" stop-color="#1fe9af"/><stop offset="0.3221" stop-color="#18dec0"/><stop offset="0.3438" stop-color="#1fc9dd"/><stop offset="0.3774" stop-color="#2fb2f4"/><stop offset="0.4207" stop-color="#4196ff"/><stop offset="0.476" stop-color="#4680f6"/><stop offset="0.5505" stop-color="#4664da"/><stop offset="0.6346" stop-color="#4451bf"/><stop offset="0.6466" stop-color="#4451bf"/><stop offset="0.6562" stop-color="#424bb5"/><stop offset="0.6611" stop-color="#424bb5"/><stop offset="0.6755" stop-color="#3f3b97"/><stop offset="0.6779" stop-color="#3f3b97"/><stop offset="0.6851" stop-color="#3c3286"/><stop offset="0.6923" stop-color="#3b2f80"/><stop offset="0.7452" stop-color="#3b2f80"/><stop offset="0.7476" stop-color="#3a2d79"/><stop offset="0.8221" stop-color="#3a2d79"/><stop offset="0.8245" stop-color="#392a73"/><stop offset="0.8822" stop-color="#392a73"/><stop offset="0.8846" stop-color="#38276d"/><stop offset="0.9543" stop-color="#38276d"/><stop offset="0.9567" stop-color="#372466"/><stop offset="1" stop-color="#372466"/></linearGradient><linearGradient id="gi39" x1="0" y1="0" x2="0" y2="1"><stop offset="0" stop-color="#7a0403"/><stop offset="0.125" stop-color="#7a0403"/><stop offset="0.1322" stop-color="#af1801"/><stop offset="0.1346" stop-color="#be2102"/><stop offset="0.1418" stop-color="#b91e02"/><stop offset="0.1538" stop-color="#c52603"/><stop offset="0.1587" stop-color="#cc2b04"/><stop offset="0.1683" stop-color="#ce2d04"/><stop offset="0.1755" stop-color="#ce2d04"/><stop offset="0.1875" stop-color="#ec530f"/><stop offset="0.1971" stop-color="#fb8122"/><stop offset="0.2067" stop-color="#fcb336"/><stop offset="0.2163" stop-color="#eecf3a"/><stop offset="0.2308" stop-color="#cdec34"/><stop offset="0.2452" stop-color="#a7fc3a"/><stop offset="0.2572" stop-color="#80ff53"/><stop offset="0.2692" stop-color="#69fd66"/><stop offset="0.2788" stop-color="#52fa7a"/><stop offset="0.3005" stop-color="#2cf09e"/><stop offset="0.3173" stop-color="#19e3b9"/><stop offset="0.3365" stop-color="#1bd0d5"/><stop offset="0.3702" stop-color="#2cb7f0"/><stop offset="0.4135" stop-color="#3e9bfe"/><stop offset="0.4615" stop-color="#4685fa"/><stop offset="0.5312" stop-color="#466be3"/><stop offset="0.5673" stop-color="#455ed3"/><stop offset="0.601" stop-color="#4559cb"/><stop offset="0.6058" stop-color="#4456c7"/><stop offset="0.6394" stop-color="#4451bf"/><stop offset="0.6466" stop-color="#4451bf"/><stop offset="0.6562" stop-color="#424bb5"/><stop offset="0.6611" stop-color="#424bb5"/><stop offset="0.6803" stop-color="#3e3891"/><stop offset="0.6851" stop-color="#3c3286"/><stop offset="0.6971" stop-color="#3b2f80"/><stop offset="0.75" stop-color="#3b2f80"/><stop offset="0.7524" stop-color="#3a2d79"/><stop offset="0.8221" stop-color="#3a2d79"/><stop offset="0.8245" stop-color="#392a73"/><stop offset="0.8846" stop-color="#392a73"/><stop offset="0.887" stop-color="#38276d"/><stop offset="0.9567" stop-color="#38276d"/><stop offset="0.9591" stop-color="#372466"/><stop offset="1" stop-color="#372466"/></linearGradient><linearGradient id="gi40" x1="0" y1="0" x2="0" y2="1"><stop offset="0" stop-color="#7a0403"/><stop offset="0.1226" stop-color="#7a0403"/><stop offset="0.125" stop-color="#810602"/><stop offset="0.1322" stop-color="#b71d02"/><stop offset="0.1346" stop-color="#c52603"/><stop offset="0.1442" stop-color="#c12302"/><stop offset="0.1635" stop-color="#d43305"/><stop offset="0.1755" stop-color="#d23105"/><stop offset="0.1851" stop-color="#ea4e0d"/><stop offset="0.1971" stop-color="#fc8423"/><stop offset="0.2067" stop-color="#fbb637"/><stop offset="0.2163" stop-color="#ecd13a"/><stop offset="0.2284" stop-color="#d0ea34"/><stop offset="0.2428" stop-color="#a9fb39"/><stop offset="0.2476" stop-color="#9ffd3f"/><stop offset="0.2572" stop-color="#7dff56"/><stop offset="0.2837" stop-color="#46f884"/><stop offset="0.3029" stop-color="#27eea4"/><stop offset="0.3173" stop-color="#19e3b9"/><stop offset="0.3365" stop-color="#1bd0d5"/><stop offset="0.3413" stop-color="#1fc9dd"/><stop offset="0.3798" stop-color="#31aff5"/><stop offset="0.4207" stop-color="#4196ff"/><stop offset="0.476" stop-color="#4680f6"/><stop offset="0.5433" stop-color="#4666dd"/><stop offset="0.5577" stop-color="#4661d6"/><stop offset="0.6346" stop-color="#4451bf"/><stop offset="0.6538" stop-color="#434eba"/><stop offset="0.6587" stop-color="#424bb5"/><stop offset="0.6635" stop-color="#4249b1"/><stop offset="0.6755" stop-color="#3f3b97"/><stop offset="0.6779" stop-color="#3f3b97"/><stop offset="0.6851" stop-color="#3c3286"/><stop offset="0.6923" stop-color="#3b2f80"/><stop offset="0.7404" stop-color="#3b2f80"/><stop offset="0.7428" stop-color="#3a2d79"/><stop offset="0.8197" stop-color="#3a2d79"/><stop offset="0.8221" stop-color="#392a73"/><stop offset="0.8822" stop-color="#392a73"/><stop offset="0.8846" stop-color="#38276d"/><stop offset="0.9519" stop-color="#38276d"/><stop offset="0.9543" stop-color="#372466"/><stop offset="1" stop-color="#372466"/></linearGradient><linearGradient id="gi41" x1="0" y1="0" x2="0" y2="1"><stop offset="0" stop-color="#7a0403"/><stop offset="0.1226" stop-color="#7a0403"/><stop offset="0.125" stop-color="#850702"/><stop offset="0.1346" stop-color="#c82803"/><stop offset="0.1418" stop-color="#c32503"/><stop offset="0.1587" stop-color="#d23105"/><stop offset="0.1659" stop-color="#d83706"/><stop offset="0.1755" stop-color="#d63506"/><stop offset="0.1827" stop-color="#e5470b"/><stop offset="0.1923" stop-color="#f76f1a"/><stop offset="0.2019" stop-color="#fea130"/><stop offset="0.2091" stop-color="#f8be39"/><stop offset="0.2212" stop-color="#e1dd37"/><stop offset="0.2356" stop-color="#bcf534"/><stop offset="0.2476" stop-color="#9cfe40"/><stop offset="0.2572" stop-color="#7dff56"/><stop offset="0.2861" stop-color="#3ff68a"/><stop offset="0.3101" stop-color="#1de7b2"/><stop offset="0.3269" stop-color="#18d9c8"/><stop offset="0.3438" stop-color="#20c7df"/><stop offset="0.3798" stop-color="#31aff5"/><stop offset="0.4207" stop-color="#4196ff"/><stop offset="0.4736" stop-color="#4680f6"/><stop offset="0.5433" stop-color="#4666dd"/><stop offset="0.5577" stop-color="#4661d6"/><stop offset="0.6346" stop-color="#4451bf"/><stop offset="0.6538" stop-color="#434eba"/><stop offset="0.6659" stop-color="#4146ac"/><stop offset="0.6755" stop-color="#3f3b97"/><stop offset="0.6779" stop-color="#3f3b97"/><stop offset="0.6851" stop-color="#3c3286"/><stop offset="0.6923" stop-color="#3b2f80"/><stop offset="0.7356" stop-color="#3b2f80"/><stop offset="0.738" stop-color="#3a2d79"/><stop offset="0.8173" stop-color="#3a2d79"/><stop offset="0.8197" stop-color="#392a73"/><stop offset="0.8798" stop-color="#392a73"/><stop offset="0.8822" stop-color="#38276d"/><stop offset="0.9519" stop-color="#38276d"/><stop offset="0.9543" stop-color="#372466"/><stop offset="1" stop-color="#372466"/></linearGradient><linearGradient id="gi42" x1="0" y1="0" x2="0" y2="1"><stop offset="0" stop-color="#7a0403"/><stop offset="0.125" stop-color="#7a0403"/><stop offset="0.1274" stop-color="#850702"/><stop offset="0.1322" stop-color="#ac1701"/><stop offset="0.1346" stop-color="#bc2002"/><stop offset="0.1442" stop-color="#b71d02"/><stop offset="0.1538" stop-color="#c32503"/><stop offset="0.1587" stop-color="#c82803"/><stop offset="0.1707" stop-color="#cc2b04"/><stop offset="0.1755" stop-color="#cc2b04"/><stop offset="0.1875" stop-color="#eb500e"/><stop offset="0.1995" stop-color="#fd8a26"/><stop offset="0.2043" stop-color="#fea732"/><stop offset="0.2139" stop-color="#f4c73a"/><stop offset="0.226" stop-color="#d9e436"/><stop offset="0.2404" stop-color="#b4f836"/><stop offset="0.25" stop-color="#9cfe40"/><stop offset="0.2596" stop-color="#7dff56"/><stop offset="0.2861" stop-color="#46f884"/><stop offset="0.3077" stop-color="#22ebaa"/><stop offset="0.3221" stop-color="#18e0bd"/><stop offset="0.3389" stop-color="#1ccdd8"/><stop offset="0.3774" stop-color="#2fb2f4"/><stop offset="0.4255" stop-color="#4294ff"/><stop offset="0.4784" stop-color="#4680f6"/><stop offset="0.5457" stop-color="#4666dd"/><stop offset="0.5721" stop-color="#455ed3"/><stop offset="0.6394" stop-color="#4451bf"/><stop offset="0.649" stop-color="#4451bf"/><stop offset="0.6587" stop-color="#424bb5"/><stop offset="0.6635" stop-color="#4249b1"/><stop offset="0.6779" stop-color="#3f3b97"/><stop offset="0.6827" stop-color="#3d358b"/><stop offset="0.6947" stop-color="#3b2f80"/><stop offset="0.7548" stop-color="#3b2f80"/><stop offset="0.7572" stop-color="#3a2d79"/><stop offset="0.8245" stop-color="#3a2d79"/><stop offset="0.8269" stop-color="#392a73"/><stop offset="0.8846" stop-color="#392a73"/><stop offset="0.887" stop-color="#38276d"/><stop offset="0.9567" stop-color="#38276d"/><stop offset="0.9591" stop-color="#372466"/><stop offset="1" stop-color="#372466"/></linearGradient><linearGradient id="gi43" x1="0" y1="0" x2="0" y2="1"><stop offset="0" stop-color="#7a0403"/><stop offset="0.125" stop-color="#7a0403"/><stop offset="0.1274" stop-color="#810602"/><stop offset="0.1346" stop-color="#b71d02"/><stop offset="0.1442" stop-color="#b41b01"/><stop offset="0.1611" stop-color="#c82803"/><stop offset="0.1755" stop-color="#ca2a04"/><stop offset="0.1875" stop-color="#ea4e0d"/><stop offset="0.1947" stop-color="#f76f1a"/><stop offset="0.2043" stop-color="#fea431"/><stop offset="0.2091" stop-color="#fbb838"/><stop offset="0.2188" stop-color="#ebd339"/><stop offset="0.2332" stop-color="#c8ef34"/><stop offset="0.2452" stop-color="#a9fb39"/><stop offset="0.2524" stop-color="#96fe44"/><stop offset="0.2572" stop-color="#84ff51"/><stop offset="0.2788" stop-color="#55fa76"/><stop offset="0.2957" stop-color="#35f394"/><stop offset="0.3101" stop-color="#20eaac"/><stop offset="0.3245" stop-color="#18dec0"/><stop offset="0.3389" stop-color="#1bd0d5"/><stop offset="0.3438" stop-color="#1ecbda"/><stop offset="0.3774" stop-color="#2fb2f4"/><stop offset="0.4255" stop-color="#4196ff"/><stop offset="0.4856" stop-color="#467df4"/><stop offset="0.5529" stop-color="#4664da"/><stop offset="0.637" stop-color="#4451bf"/><stop offset="0.649" stop-color="#4451bf"/><stop offset="0.6587" stop-color="#424bb5"/><stop offset="0.6635" stop-color="#4249b1"/><stop offset="0.6683" stop-color="#4143a7"/><stop offset="0.6731" stop-color="#4040a2"/><stop offset="0.6827" stop-color="#3d358b"/><stop offset="0.6947" stop-color="#3b2f80"/><stop offset="0.7596" stop-color="#3b2f80"/><stop offset="0.762" stop-color="#3a2d79"/><stop offset="0.8269" stop-color="#3a2d79"/><stop offset="0.8293" stop-color="#392a73"/><stop offset="0.887" stop-color="#392a73"/><stop offset="0.8894" stop-color="#38276d"/><stop offset="0.9591" stop-color="#38276d"/><stop offset="0.9615" stop-color="#372466"/><stop offset="1" stop-color="#372466"/></linearGradient><linearGradient id="gi44" x1="0" y1="0" x2="0" y2="1"><stop offset="0" stop-color="#7a0403"/><stop offset="0.1274" stop-color="#7a0403"/><stop offset="0.1298" stop-color="#920b01"/><stop offset="0.1346" stop-color="#b41b01"/><stop offset="0.1418" stop-color="#af1801"/><stop offset="0.1514" stop-color="#b91e02"/><stop offset="0.1587" stop-color="#c32503"/><stop offset="0.1731" stop-color="#c82803"/><stop offset="0.1755" stop-color="#c82803"/><stop offset="0.1851" stop-color="#e4450a"/><stop offset="0.1947" stop-color="#f76f1a"/><stop offset="0.2019" stop-color="#fe962b"/><stop offset="0.2067" stop-color="#fdae35"/><stop offset="0.2163" stop-color="#f1cb3a"/><stop offset="0.2308" stop-color="#d0ea34"/><stop offset="0.2428" stop-color="#b1f936"/><stop offset="0.2548" stop-color="#8fff49"/><stop offset="0.2572" stop-color="#84ff51"/><stop offset="0.2692" stop-color="#6dfe62"/><stop offset="0.2788" stop-color="#55fa76"/><stop offset="0.3005" stop-color="#2ff19b"/><stop offset="0.3149" stop-color="#1ce6b4"/><stop offset="0.3317" stop-color="#18d7ca"/><stop offset="0.3413" stop-color="#1ecbda"/><stop offset="0.3798" stop-color="#2fb2f4"/><stop offset="0.4231" stop-color="#4196ff"/><stop offset="0.4784" stop-color="#4680f6"/><stop offset="0.5409" stop-color="#4669e0"/><stop offset="0.5601" stop-color="#4661d6"/><stop offset="0.6418" stop-color="#4451bf"/><stop offset="0.6562" stop-color="#434eba"/><stop offset="0.6707" stop-color="#4143a7"/><stop offset="0.6827" stop-color="#3d358b"/><stop offset="0.6947" stop-color="#3b2f80"/><stop offset="0.7644" stop-color="#3b2f80"/><stop offset="0.7668" stop-color="#3a2d79"/><stop offset="0.8269" stop-color="#3a2d79"/><stop offset="0.8293" stop-color="#392a73"/><stop offset="0.8894" stop-color="#392a73"/><stop offset="0.8918" stop-color="#38276d"/><stop offset="0.9615" stop-color="#38276d"/><stop offset="0.9639" stop-color="#372466"/><stop offset="1" stop-color="#372466"/></linearGradient><linearGradient id="gi45" x1="0" y1="0" x2="0" y2="1"><stop offset="0" stop-color="#7a0403"/><stop offset="0.1274" stop-color="#7a0403"/><stop offset="0.1322" stop-color="#9e1001"/><stop offset="0.1346" stop-color="#b21a01"/><stop offset="0.1418" stop-color="#ac1701"/><stop offset="0.1514" stop-color="#b41b01"/><stop offset="0.1562" stop-color="#be2102"/><stop offset="0.1755" stop-color="#c52603"/><stop offset="0.1875" stop-color="#e84b0c"/><stop offset="0.1995" stop-color="#fc8423"/><stop offset="0.2067" stop-color="#fdac34"/><stop offset="0.2163" stop-color="#f1cb3a"/><stop offset="0.2332" stop-color="#cbed34"/><stop offset="0.2452" stop-color="#acfb38"/><stop offset="0.262" stop-color="#7dff56"/><stop offset="0.2909" stop-color="#3ff68a"/><stop offset="0.3101" stop-color="#22ebaa"/><stop offset="0.3197" stop-color="#19e3b9"/><stop offset="0.3389" stop-color="#1bd0d5"/><stop offset="0.3726" stop-color="#2cb7f0"/><stop offset="0.4159" stop-color="#3e9bfe"/><stop offset="0.4639" stop-color="#4685fa"/><stop offset="0.5337" stop-color="#466be3"/><stop offset="0.5721" stop-color="#455ed3"/><stop offset="0.6058" stop-color="#4559cb"/><stop offset="0.6106" stop-color="#4456c7"/><stop offset="0.6442" stop-color="#4451bf"/><stop offset="0.6514" stop-color="#4451bf"/><stop offset="0.6683" stop-color="#4146ac"/><stop offset="0.6827" stop-color="#3d358b"/><stop offset="0.6947" stop-color="#3b2f80"/><stop offset="0.7668" stop-color="#3b2f80"/><stop offset="0.7692" stop-color="#3a2d79"/><stop offset="0.8293" stop-color="#3a2d79"/><stop offset="0.8317" stop-color="#392a73"/><stop offset="0.8894" stop-color="#392a73"/><stop offset="0.8918" stop-color="#38276d"/><stop offset="0.9639" stop-color="#38276d"/><stop offset="0.9663" stop-color="#372466"/><stop offset="1" stop-color="#372466"/></linearGradient><linearGradient id="gi46" x1="0" y1="0" x2="0" y2="1"><stop offset="0" stop-color="#7a0403"/><stop offset="0.1274" stop-color="#7a0403"/><stop offset="0.1298" stop-color="#880802"/><stop offset="0.1346" stop-color="#ac1701"/><stop offset="0.1442" stop-color="#a91601"/><stop offset="0.1611" stop-color="#be2102"/><stop offset="0.1755" stop-color="#c12302"/><stop offset="0.1875" stop-color="#e7490c"/><stop offset="0.1971" stop-color="#f9751d"/><stop offset="0.2019" stop-color="#fe932a"/><stop offset="0.2067" stop-color="#fdac34"/><stop offset="0.2163" stop-color="#f2c93a"/><stop offset="0.2308" stop-color="#d2e935"/><stop offset="0.2452" stop-color="#acfb38"/><stop offset="0.2524" stop-color="#99fe42"/><stop offset="0.2572" stop-color="#88ff4e"/><stop offset="0.2668" stop-color="#75fe5c"/><stop offset="0.2837" stop-color="#4ef97d"/><stop offset="0.3029" stop-color="#2cf09e"/><stop offset="0.3197" stop-color="#19e3b9"/><stop offset="0.3389" stop-color="#1bd0d5"/><stop offset="0.3798" stop-color="#2fb2f4"/><stop offset="0.4279" stop-color="#4294ff"/><stop offset="0.488" stop-color="#467df4"/><stop offset="0.5553" stop-color="#4664da"/><stop offset="0.6394" stop-color="#4451bf"/><stop offset="0.6514" stop-color="#4451bf"/><stop offset="0.6611" stop-color="#424bb5"/><stop offset="0.6659" stop-color="#4249b1"/><stop offset="0.6827" stop-color="#3d358b"/><stop offset="0.6947" stop-color="#3b2f80"/><stop offset="0.7692" stop-color="#3b2f80"/><stop offset="0.7716" stop-color="#3a2d79"/><stop offset="0.8317" stop-color="#3a2d79"/><stop offset="0.8341" stop-color="#392a73"/><stop offset="0.8918" stop-color="#392a73"/><stop offset="0.8942" stop-color="#38276d"/><stop offset="0.9639" stop-color="#38276d"/><stop offset="0.9663" stop-color="#372466"/><stop offset="1" stop-color="#372466"/></linearGradient><linearGradient id="gi47" x1="0" y1="0" x2="0" y2="1"><stop offset="0" stop-color="#7a0403"/><stop offset="0.1226" stop-color="#7a0403"/><stop offset="0.1322" stop-color="#be2102"/><stop offset="0.1346" stop-color="#ca2a04"/><stop offset="0.1466" stop-color="#ca2a04"/><stop offset="0.1659" stop-color="#da3907"/><stop offset="0.1755" stop-color="#d83706"/><stop offset="0.1827" stop-color="#e7490c"/><stop offset="0.1923" stop-color="#f8721c"/><stop offset="0.2019" stop-color="#fea130"/><stop offset="0.2067" stop-color="#fbb838"/><stop offset="0.2163" stop-color="#ebd339"/><stop offset="0.2284" stop-color="#cdec34"/><stop offset="0.2428" stop-color="#a9fb39"/><stop offset="0.25" stop-color="#96fe44"/><stop offset="0.2548" stop-color="#84ff51"/><stop offset="0.262" stop-color="#71fe5f"/><stop offset="0.2764" stop-color="#52fa7a"/><stop offset="0.2981" stop-color="#2cf09e"/><stop offset="0.3149" stop-color="#19e3b9"/><stop offset="0.3341" stop-color="#1ad2d2"/><stop offset="0.3413" stop-color="#1fc9dd"/><stop offset="0.375" stop-color="#2fb2f4"/><stop offset="0.4183" stop-color="#4196ff"/><stop offset="0.4736" stop-color="#4680f6"/><stop offset="0.5481" stop-color="#4664da"/><stop offset="0.6058" stop-color="#4456c7"/><stop offset="0.6322" stop-color="#4451bf"/><stop offset="0.6538" stop-color="#434eba"/><stop offset="0.6659" stop-color="#4146ac"/><stop offset="0.6755" stop-color="#3f3b97"/><stop offset="0.6779" stop-color="#3f3b97"/><stop offset="0.6851" stop-color="#3c3286"/><stop offset="0.6923" stop-color="#3b2f80"/><stop offset="0.7308" stop-color="#3b2f80"/><stop offset="0.7332" stop-color="#3a2d79"/><stop offset="0.8149" stop-color="#3a2d79"/><stop offset="0.8173" stop-color="#392a73"/><stop offset="0.8774" stop-color="#392a73"/><stop offset="0.8798" stop-color="#38276d"/><stop offset="0.9495" stop-color="#38276d"/><stop offset="0.9519" stop-color="#372466"/><stop offset="1" stop-color="#372466"/></linearGradient><linearGradient id="gi48" x1="0" y1="0" x2="0" y2="1"><stop offset="0" stop-color="#7a0403"/><stop offset="0.1226" stop-color="#7a0403"/><stop offset="0.1298" stop-color="#b21a01"/><stop offset="0.1346" stop-color="#ce2d04"/><stop offset="0.1442" stop-color="#ca2a04"/><stop offset="0.1659" stop-color="#dc3b07"/><stop offset="0.1755" stop-color="#da3907"/><stop offset="0.1827" stop-color="#e84b0c"/><stop offset="0.1947" stop-color="#fb8122"/><stop offset="0.2043" stop-color="#fdae35"/><stop offset="0.2067" stop-color="#faba39"/><stop offset="0.2163" stop-color="#ebd339"/><stop offset="0.2236" stop-color="#d9e436"/><stop offset="0.238" stop-color="#b4f836"/><stop offset="0.2476" stop-color="#99fe42"/><stop offset="0.2572" stop-color="#79fe59"/><stop offset="0.274" stop-color="#55fa76"/><stop offset="0.2933" stop-color="#32f298"/><stop offset="0.3101" stop-color="#1de7b2"/><stop offset="0.3245" stop-color="#18dbc5"/><stop offset="0.3413" stop-color="#1fc9dd"/><stop offset="0.375" stop-color="#2fb2f4"/><stop offset="0.4183" stop-color="#4196ff"/><stop offset="0.4736" stop-color="#4680f6"/><stop offset="0.5409" stop-color="#4666dd"/><stop offset="0.5553" stop-color="#4661d6"/><stop offset="0.649" stop-color="#434eba"/><stop offset="0.6587" stop-color="#424bb5"/><stop offset="0.6659" stop-color="#4146ac"/><stop offset="0.6755" stop-color="#3f3b97"/><stop offset="0.6779" stop-color="#3f3b97"/><stop offset="0.6851" stop-color="#3c3286"/><stop offset="0.6923" stop-color="#3b2f80"/><stop offset="0.726" stop-color="#3b2f80"/><stop offset="0.7284" stop-color="#3a2d79"/><stop offset="0.8149" stop-color="#3a2d79"/><stop offset="0.8173" stop-color="#392a73"/><stop offset="0.8774" stop-color="#392a73"/><stop offset="0.8798" stop-color="#38276d"/><stop offset="0.9471" stop-color="#38276d"/><stop offset="0.9495" stop-color="#372466"/><stop offset="1" stop-color="#372466"/></linearGradient><linearGradient id="gi49" x1="0" y1="0" x2="0" y2="1"><stop offset="0" stop-color="#7a0403"/><stop offset="0.1202" stop-color="#7a0403"/><stop offset="0.1226" stop-color="#810602"/><stop offset="0.1274" stop-color="#a71401"/><stop offset="0.1346" stop-color="#d02f05"/><stop offset="0.149" stop-color="#d02f05"/><stop offset="0.1587" stop-color="#da3907"/><stop offset="0.1707" stop-color="#dd3d08"/><stop offset="0.1755" stop-color="#dc3b07"/><stop offset="0.1827" stop-color="#ea4e0d"/><stop offset="0.1947" stop-color="#fb8122"/><stop offset="0.2043" stop-color="#fcb136"/><stop offset="0.2139" stop-color="#eecf3a"/><stop offset="0.2284" stop-color="#cbed34"/><stop offset="0.2428" stop-color="#a7fc3a"/><stop offset="0.2548" stop-color="#80ff53"/><stop offset="0.2764" stop-color="#4ef97d"/><stop offset="0.2981" stop-color="#2aefa1"/><stop offset="0.3125" stop-color="#1ae4b6"/><stop offset="0.3317" stop-color="#1ad4d0"/><stop offset="0.3413" stop-color="#20c7df"/><stop offset="0.3798" stop-color="#33adf7"/><stop offset="0.4231" stop-color="#4294ff"/><stop offset="0.4784" stop-color="#467df4"/><stop offset="0.5481" stop-color="#4664da"/><stop offset="0.5529" stop-color="#4661d6"/><stop offset="0.6058" stop-color="#4456c7"/><stop offset="0.6298" stop-color="#4451bf"/><stop offset="0.6538" stop-color="#434eba"/><stop offset="0.6659" stop-color="#4146ac"/><stop offset="0.6779" stop-color="#3e3891"/><stop offset="0.6803" stop-color="#3e3891"/><stop offset="0.6899" stop-color="#3b2f80"/><stop offset="0.7212" stop-color="#3b2f80"/><stop offset="0.7236" stop-color="#3a2d79"/><stop offset="0.8125" stop-color="#3a2d79"/><stop offset="0.8149" stop-color="#392a73"/><stop offset="0.875" stop-color="#392a73"/><stop offset="0.8774" stop-color="#38276d"/><stop offset="0.9447" stop-color="#38276d"/><stop offset="0.9471" stop-color="#372466"/><stop offset="1" stop-color="#372466"/></linearGradient><linearGradient id="gi50" x1="0" y1="0" x2="0" y2="1"><stop offset="0" stop-color="#7a0403"/><stop offset="0.1202" stop-color="#7a0403"/><stop offset="0.1226" stop-color="#850702"/><stop offset="0.1298" stop-color="#b91e02"/><stop offset="0.1346" stop-color="#d23105"/><stop offset="0.1466" stop-color="#d23105"/><stop offset="0.1659" stop-color="#e14109"/><stop offset="0.1755" stop-color="#dd3d08"/><stop offset="0.1827" stop-color="#eb500e"/><stop offset="0.1947" stop-color="#fc8423"/><stop offset="0.2019" stop-color="#fea732"/><stop offset="0.2067" stop-color="#f9bc39"/><stop offset="0.2163" stop-color="#e9d539"/><stop offset="0.2212" stop-color="#dbe236"/><stop offset="0.238" stop-color="#b1f936"/><stop offset="0.2476" stop-color="#99fe42"/><stop offset="0.2596" stop-color="#71fe5f"/><stop offset="0.2837" stop-color="#3ff68a"/><stop offset="0.3053" stop-color="#20eaac"/><stop offset="0.3197" stop-color="#18dec0"/><stop offset="0.3365" stop-color="#1ccdd8"/><stop offset="0.351" stop-color="#25c0e7"/><stop offset="0.3918" stop-color="#38a5fb"/><stop offset="0.4327" stop-color="#448ffe"/><stop offset="0.4928" stop-color="#4778f0"/><stop offset="0.5625" stop-color="#455ed3"/><stop offset="0.6466" stop-color="#434eba"/><stop offset="0.6587" stop-color="#424bb5"/><stop offset="0.6659" stop-color="#4146ac"/><stop offset="0.6779" stop-color="#3e3891"/><stop offset="0.6803" stop-color="#3e3891"/><stop offset="0.6875" stop-color="#3b2f80"/><stop offset="0.7163" stop-color="#3b2f80"/><stop offset="0.7188" stop-color="#3a2d79"/><stop offset="0.8101" stop-color="#3a2d79"/><stop offset="0.8125" stop-color="#392a73"/><stop offset="0.8726" stop-color="#392a73"/><stop offset="0.875" stop-color="#38276d"/><stop offset="0.9447" stop-color="#38276d"/><stop offset="0.9471" stop-color="#372466"/><stop offset="1" stop-color="#372466"/></linearGradient><linearGradient id="gi51" x1="0" y1="0" x2="0" y2="1"><stop offset="0" stop-color="#7a0403"/><stop offset="0.1202" stop-color="#7a0403"/><stop offset="0.125" stop-color="#9e1001"/><stop offset="0.1322" stop-color="#ca2a04"/><stop offset="0.1346" stop-color="#d63506"/><stop offset="0.1442" stop-color="#d23105"/><stop offset="0.1635" stop-color="#e14109"/><stop offset="0.1731" stop-color="#e14109"/><stop offset="0.1755" stop-color="#df3f08"/><stop offset="0.1827" stop-color="#ec530f"/><stop offset="0.1947" stop-color="#fc8725"/><stop offset="0.2043" stop-color="#fcb336"/><stop offset="0.2115" stop-color="#f1cb3a"/><stop offset="0.226" stop-color="#d0ea34"/><stop offset="0.2404" stop-color="#a9fb39"/><stop offset="0.2524" stop-color="#88ff4e"/><stop offset="0.2572" stop-color="#75fe5c"/><stop offset="0.2812" stop-color="#43f787"/><stop offset="0.3029" stop-color="#22ebaa"/><stop offset="0.3197" stop-color="#18dec0"/><stop offset="0.3341" stop-color="#1bd0d5"/><stop offset="0.3438" stop-color="#22c5e2"/><stop offset="0.3822" stop-color="#35abf8"/><stop offset="0.4231" stop-color="#4294ff"/><stop offset="0.4663" stop-color="#4680f6"/><stop offset="0.5409" stop-color="#4666dd"/><stop offset="0.5601" stop-color="#455ed3"/><stop offset="0.5938" stop-color="#4559cb"/><stop offset="0.5986" stop-color="#4456c7"/><stop offset="0.649" stop-color="#434eba"/><stop offset="0.6635" stop-color="#4249b1"/><stop offset="0.6779" stop-color="#3e3891"/><stop offset="0.6803" stop-color="#3e3891"/><stop offset="0.6875" stop-color="#3b2f80"/><stop offset="0.7115" stop-color="#3b2f80"/><stop offset="0.7139" stop-color="#3a2d79"/><stop offset="0.8101" stop-color="#3a2d79"/><stop offset="0.8125" stop-color="#392a73"/><stop offset="0.8726" stop-color="#392a73"/><stop offset="0.875" stop-color="#38276d"/><stop offset="0.9423" stop-color="#38276d"/><stop offset="0.9447" stop-color="#372466"/><stop offset="1" stop-color="#372466"/></linearGradient><linearGradient id="gi52" x1="0" y1="0" x2="0" y2="1"><stop offset="0" stop-color="#7a0403"/><stop offset="0.1202" stop-color="#7a0403"/><stop offset="0.1274" stop-color="#b21a01"/><stop offset="0.1346" stop-color="#d83706"/><stop offset="0.149" stop-color="#d83706"/><stop offset="0.1587" stop-color="#e14109"/><stop offset="0.1683" stop-color="#e4450a"/><stop offset="0.1755" stop-color="#e14109"/><stop offset="0.1827" stop-color="#ed5510"/><stop offset="0.1947" stop-color="#fc8725"/><stop offset="0.2019" stop-color="#fea933"/><stop offset="0.2067" stop-color="#f8be39"/><stop offset="0.2163" stop-color="#e5d938"/><stop offset="0.2308" stop-color="#c1f334"/><stop offset="0.2428" stop-color="#a1fd3d"/><stop offset="0.2476" stop-color="#96fe44"/><stop offset="0.2524" stop-color="#84ff51"/><stop offset="0.2596" stop-color="#6dfe62"/><stop offset="0.2885" stop-color="#35f394"/><stop offset="0.3077" stop-color="#1de7b2"/><stop offset="0.3221" stop-color="#18dbc5"/><stop offset="0.3462" stop-color="#23c3e4"/><stop offset="0.3798" stop-color="#33adf7"/><stop offset="0.4207" stop-color="#4294ff"/><stop offset="0.476" stop-color="#467df4"/><stop offset="0.5457" stop-color="#4664da"/><stop offset="0.5505" stop-color="#4661d6"/><stop offset="0.6442" stop-color="#434eba"/><stop offset="0.6587" stop-color="#424bb5"/><stop offset="0.6659" stop-color="#4146ac"/><stop offset="0.6779" stop-color="#3e3891"/><stop offset="0.6803" stop-color="#3e3891"/><stop offset="0.6875" stop-color="#3b2f80"/><stop offset="0.7067" stop-color="#3b2f80"/><stop offset="0.7091" stop-color="#3a2d79"/><stop offset="0.8077" stop-color="#3a2d79"/><stop offset="0.8101" stop-color="#392a73"/><stop offset="0.8702" stop-color="#392a73"/><stop offset="0.8726" stop-color="#38276d"/><stop offset="0.9399" stop-color="#38276d"/><stop offset="0.9423" stop-color="#372466"/><stop offset="1" stop-color="#372466"/></linearGradient><linearGradient id="gi53" x1="0" y1="0" x2="0" y2="1"><stop offset="0" stop-color="#7a0403"/><stop offset="0.1178" stop-color="#7a0403"/><stop offset="0.1202" stop-color="#810602"/><stop offset="0.125" stop-color="#a71401"/><stop offset="0.1322" stop-color="#d02f05"/><stop offset="0.1346" stop-color="#da3907"/><stop offset="0.1466" stop-color="#da3907"/><stop offset="0.1659" stop-color="#e7490c"/><stop offset="0.1755" stop-color="#e4450a"/><stop offset="0.1827" stop-color="#ef5811"/><stop offset="0.1971" stop-color="#fe962b"/><stop offset="0.1995" stop-color="#fe9e2f"/><stop offset="0.2067" stop-color="#f7c13a"/><stop offset="0.2188" stop-color="#dfdf37"/><stop offset="0.2332" stop-color="#b9f635"/><stop offset="0.2452" stop-color="#9cfe40"/><stop offset="0.2572" stop-color="#71fe5f"/><stop offset="0.2861" stop-color="#38f491"/><stop offset="0.3053" stop-color="#1fe9af"/><stop offset="0.3173" stop-color="#18dec0"/><stop offset="0.3365" stop-color="#1ecbda"/><stop offset="0.3558" stop-color="#28bceb"/><stop offset="0.3894" stop-color="#38a5fb"/><stop offset="0.4303" stop-color="#448ffe"/><stop offset="0.4904" stop-color="#4778f0"/><stop offset="0.5601" stop-color="#455ed3"/><stop offset="0.6442" stop-color="#434eba"/><stop offset="0.6514" stop-color="#434eba"/><stop offset="0.6587" stop-color="#4249b1"/><stop offset="0.6635" stop-color="#4249b1"/><stop offset="0.6779" stop-color="#3e3891"/><stop offset="0.6803" stop-color="#3e3891"/><stop offset="0.6875" stop-color="#3b2f80"/><stop offset="0.7019" stop-color="#3b2f80"/><stop offset="0.7043" stop-color="#3a2d79"/><stop offset="0.8053" stop-color="#3a2d79"/><stop offset="0.8077" stop-color="#392a73"/><stop offset="0.8702" stop-color="#392a73"/><stop offset="0.8726" stop-color="#38276d"/><stop offset="0.9375" stop-color="#38276d"/><stop offset="0.9399" stop-color="#372466"/><stop offset="1" stop-color="#372466"/></linearGradient><linearGradient id="gi54" x1="0" y1="0" x2="0" y2="1"><stop offset="0" stop-color="#7a0403"/><stop offset="0.1178" stop-color="#7a0403"/><stop offset="0.1202" stop-color="#850702"/><stop offset="0.1274" stop-color="#b91e02"/><stop offset="0.1346" stop-color="#dd3d08"/><stop offset="0.1418" stop-color="#da3907"/><stop offset="0.1659" stop-color="#e84b0c"/><stop offset="0.1755" stop-color="#e5470b"/><stop offset="0.1803" stop-color="#ec530f"/><stop offset="0.1923" stop-color="#fb8122"/><stop offset="0.2019" stop-color="#fdac34"/><stop offset="0.2067" stop-color="#f7c13a"/><stop offset="0.2188" stop-color="#dde037"/><stop offset="0.2332" stop-color="#b9f635"/><stop offset="0.2404" stop-color="#a7fc3a"/><stop offset="0.25" stop-color="#8bff4b"/><stop offset="0.2572" stop-color="#71fe5f"/><stop offset="0.2716" stop-color="#52fa7a"/><stop offset="0.2933" stop-color="#2cf09e"/><stop offset="0.3101" stop-color="#1ae4b6"/><stop offset="0.3293" stop-color="#1ad4d0"/><stop offset="0.3413" stop-color="#22c5e2"/><stop offset="0.3798" stop-color="#35abf8"/><stop offset="0.4207" stop-color="#4294ff"/><stop offset="0.4639" stop-color="#4680f6"/><stop offset="0.5385" stop-color="#4666dd"/><stop offset="0.5577" stop-color="#455ed3"/><stop offset="0.5913" stop-color="#4559cb"/><stop offset="0.5962" stop-color="#4456c7"/><stop offset="0.6418" stop-color="#434eba"/><stop offset="0.6514" stop-color="#434eba"/><stop offset="0.6587" stop-color="#4249b1"/><stop offset="0.6635" stop-color="#4249b1"/><stop offset="0.6779" stop-color="#3e3891"/><stop offset="0.6803" stop-color="#3e3891"/><stop offset="0.6875" stop-color="#3b2f80"/><stop offset="0.6971" stop-color="#3b2f80"/><stop offset="0.6995" stop-color="#3a2d79"/><stop offset="0.8029" stop-color="#3a2d79"/><stop offset="0.8053" stop-color="#392a73"/><stop offset="0.8678" stop-color="#392a73"/><stop offset="0.8702" stop-color="#38276d"/><stop offset="0.9375" stop-color="#38276d"/><stop offset="0.9399" stop-color="#372466"/><stop offset="1" stop-color="#372466"/></linearGradient><linearGradient id="gi55" x1="0" y1="0" x2="0" y2="1"><stop offset="0" stop-color="#7a0403"/><stop offset="0.113" stop-color="#7a0403"/><stop offset="0.1202" stop-color="#ac1701"/><stop offset="0.125" stop-color="#c82803"/><stop offset="0.1322" stop-color="#e5470b"/><stop offset="0.1346" stop-color="#ed5510"/><stop offset="0.1442" stop-color="#eb500e"/><stop offset="0.1635" stop-color="#f46617"/><stop offset="0.1755" stop-color="#f15d13"/><stop offset="0.1827" stop-color="#f8721c"/><stop offset="0.1971" stop-color="#fea732"/><stop offset="0.2043" stop-color="#f6c33a"/><stop offset="0.2188" stop-color="#d4e735"/><stop offset="0.2332" stop-color="#affa37"/><stop offset="0.2452" stop-color="#8fff49"/><stop offset="0.2548" stop-color="#6dfe62"/><stop offset="0.2596" stop-color="#5dfc6f"/><stop offset="0.2812" stop-color="#35f394"/><stop offset="0.3005" stop-color="#1fe9af"/><stop offset="0.3125" stop-color="#18e0bd"/><stop offset="0.3293" stop-color="#1bd0d5"/><stop offset="0.3413" stop-color="#25c0e7"/><stop offset="0.3822" stop-color="#38a5fb"/><stop offset="0.4255" stop-color="#448ffe"/><stop offset="0.4639" stop-color="#467df4"/><stop offset="0.5337" stop-color="#4666dd"/><stop offset="0.5625" stop-color="#455ccf"/><stop offset="0.6202" stop-color="#4451bf"/><stop offset="0.6298" stop-color="#434eba"/><stop offset="0.6538" stop-color="#424bb5"/><stop offset="0.6587" stop-color="#4249b1"/><stop offset="0.6635" stop-color="#4146ac"/><stop offset="0.6707" stop-color="#3f3e9c"/><stop offset="0.6731" stop-color="#3f3e9c"/><stop offset="0.6803" stop-color="#3d358b"/><stop offset="0.6851" stop-color="#3c3286"/><stop offset="0.6875" stop-color="#3b2f80"/><stop offset="0.6923" stop-color="#3b2f80"/><stop offset="0.6947" stop-color="#3a2d79"/><stop offset="0.7885" stop-color="#3a2d79"/><stop offset="0.7909" stop-color="#392a73"/><stop offset="0.8558" stop-color="#392a73"/><stop offset="0.8582" stop-color="#38276d"/><stop offset="0.9207" stop-color="#38276d"/><stop offset="0.9231" stop-color="#372466"/><stop offset="1" stop-color="#372466"/></linearGradient><linearGradient id="ge1" x1="0" y1="0" x2="0" y2="1"><stop offset="0" stop-color="#3ba0fd"/><stop offset="0.1587" stop-color="#3d9efe"/><stop offset="0.1659" stop-color="#4099ff"/><stop offset="0.1683" stop-color="#38a5fb"/><stop offset="0.1755" stop-color="#1ecbda"/><stop offset="0.1803" stop-color="#18dbc5"/><stop offset="0.1875" stop-color="#20eaac"/><stop offset="0.1995" stop-color="#43f787"/><stop offset="0.2067" stop-color="#2cf09e"/><stop offset="0.2163" stop-color="#1de7b2"/><stop offset="0.2308" stop-color="#18d9c8"/><stop offset="0.2524" stop-color="#25c0e7"/><stop offset="0.2596" stop-color="#2ab9ee"/><stop offset="0.2957" stop-color="#3ba0fd"/><stop offset="0.3245" stop-color="#458cfd"/><stop offset="0.351" stop-color="#477bf2"/><stop offset="0.4231" stop-color="#4664da"/><stop offset="0.4279" stop-color="#4661d6"/><stop offset="0.476" stop-color="#4456c7"/><stop offset="0.4808" stop-color="#4454c3"/><stop offset="0.5096" stop-color="#434eba"/><stop offset="0.5144" stop-color="#424bb5"/><stop offset="0.5433" stop-color="#4146ac"/><stop offset="0.5529" stop-color="#4143a7"/><stop offset="0.5721" stop-color="#4040a2"/><stop offset="0.5817" stop-color="#4040a2"/><stop offset="0.5841" stop-color="#3f3e9c"/><stop offset="0.6226" stop-color="#3f3b97"/><stop offset="0.625" stop-color="#3e3891"/><stop offset="0.6514" stop-color="#3e3891"/><stop offset="0.6538" stop-color="#3d358b"/><stop offset="0.6611" stop-color="#3d358b"/><stop offset="0.6683" stop-color="#3b2f80"/><stop offset="0.6707" stop-color="#3b2f80"/><stop offset="0.6755" stop-color="#392a73"/><stop offset="0.6803" stop-color="#392a73"/><stop offset="0.6827" stop-color="#38276d"/><stop offset="0.6899" stop-color="#372466"/><stop offset="0.7476" stop-color="#372466"/><stop offset="0.75" stop-color="#36215f"/><stop offset="0.863" stop-color="#36215f"/><stop offset="0.8654" stop-color="#351e58"/><stop offset="0.9832" stop-color="#351e58"/><stop offset="0.9856" stop-color="#341b51"/><stop offset="1" stop-color="#341b51"/></linearGradient><linearGradient id="ge2" x1="0" y1="0" x2="0" y2="1"><stop offset="0" stop-color="#7a0403"/><stop offset="0.0986" stop-color="#7a0403"/><stop offset="0.101" stop-color="#810602"/><stop offset="0.1082" stop-color="#a71401"/><stop offset="0.113" stop-color="#b91e02"/><stop offset="0.1226" stop-color="#c82803"/><stop offset="0.1346" stop-color="#d43305"/><stop offset="0.1394" stop-color="#e84b0c"/><stop offset="0.1466" stop-color="#fb7e21"/><stop offset="0.1538" stop-color="#fdae35"/><stop offset="0.1562" stop-color="#fbb838"/><stop offset="0.1659" stop-color="#f5c53a"/><stop offset="0.1779" stop-color="#f9bc39"/><stop offset="0.1971" stop-color="#ebd339"/><stop offset="0.2019" stop-color="#dfdf37"/><stop offset="0.2139" stop-color="#b9f635"/><stop offset="0.226" stop-color="#99fe42"/><stop offset="0.2356" stop-color="#7dff56"/><stop offset="0.2404" stop-color="#69fd66"/><stop offset="0.2572" stop-color="#38f491"/><stop offset="0.2692" stop-color="#27eea4"/><stop offset="0.2909" stop-color="#19e2bb"/><stop offset="0.3149" stop-color="#1ccdd8"/><stop offset="0.3413" stop-color="#2fb2f4"/><stop offset="0.3798" stop-color="#4099ff"/><stop offset="0.4279" stop-color="#4682f8"/><stop offset="0.5096" stop-color="#4666dd"/><stop offset="0.5553" stop-color="#4456c7"/><stop offset="0.6058" stop-color="#434eba"/><stop offset="0.6154" stop-color="#424bb5"/><stop offset="0.6538" stop-color="#4146ac"/><stop offset="0.6635" stop-color="#4040a2"/><stop offset="0.6659" stop-color="#4040a2"/><stop offset="0.6755" stop-color="#3d358b"/><stop offset="0.6803" stop-color="#3c3286"/><stop offset="0.6827" stop-color="#3b2f80"/><stop offset="0.6899" stop-color="#3a2d79"/><stop offset="0.7019" stop-color="#392a73"/><stop offset="0.8005" stop-color="#392a73"/><stop offset="0.8029" stop-color="#38276d"/><stop offset="0.8726" stop-color="#38276d"/><stop offset="0.875" stop-color="#372466"/><stop offset="0.9543" stop-color="#372466"/><stop offset="0.9567" stop-color="#36215f"/><stop offset="1" stop-color="#36215f"/></linearGradient><linearGradient id="ge3" x1="0" y1="0" x2="0" y2="1"><stop offset="0" stop-color="#fdac34"/><stop offset="0.1082" stop-color="#fdae35"/><stop offset="0.113" stop-color="#faba39"/><stop offset="0.1274" stop-color="#f2c93a"/><stop offset="0.1346" stop-color="#efcd3a"/><stop offset="0.1418" stop-color="#d7e535"/><stop offset="0.149" stop-color="#b7f735"/><stop offset="0.1562" stop-color="#99fe42"/><stop offset="0.1635" stop-color="#8fff49"/><stop offset="0.1659" stop-color="#88ff4e"/><stop offset="0.1731" stop-color="#a4fc3c"/><stop offset="0.1803" stop-color="#b1f936"/><stop offset="0.1947" stop-color="#b7f735"/><stop offset="0.1995" stop-color="#b4f836"/><stop offset="0.2067" stop-color="#9cfe40"/><stop offset="0.2212" stop-color="#69fd66"/><stop offset="0.2332" stop-color="#43f787"/><stop offset="0.238" stop-color="#38f491"/><stop offset="0.25" stop-color="#20eaac"/><stop offset="0.2596" stop-color="#19e2bb"/><stop offset="0.2861" stop-color="#1bd0d5"/><stop offset="0.3245" stop-color="#33adf7"/><stop offset="0.3486" stop-color="#4099ff"/><stop offset="0.399" stop-color="#4682f8"/><stop offset="0.4471" stop-color="#476ee6"/><stop offset="0.5144" stop-color="#455ccf"/><stop offset="0.5337" stop-color="#4454c3"/><stop offset="0.5601" stop-color="#434eba"/><stop offset="0.625" stop-color="#4143a7"/><stop offset="0.6538" stop-color="#4040a2"/><stop offset="0.6562" stop-color="#3f3e9c"/><stop offset="0.6659" stop-color="#3f3b97"/><stop offset="0.6707" stop-color="#3d358b"/><stop offset="0.6731" stop-color="#3d358b"/><stop offset="0.6827" stop-color="#3a2d79"/><stop offset="0.6971" stop-color="#38276d"/><stop offset="0.8053" stop-color="#38276d"/><stop offset="0.8077" stop-color="#372466"/><stop offset="0.887" stop-color="#372466"/><stop offset="0.8894" stop-color="#36215f"/><stop offset="0.9856" stop-color="#36215f"/><stop offset="0.988" stop-color="#351e58"/><stop offset="1" stop-color="#351e58"/></linearGradient><linearGradient id="gv0" x1="0" y1="0" x2="0" y2="1"><stop offset="0" stop-color="#ff0d0d"/><stop offset="0.0104" stop-color="#ff0d0d"/><stop offset="0.0312" stop-color="#ffa1a1"/><stop offset="0.0521" stop-color="#ff9595"/><stop offset="0.066" stop-color="#ff7979"/><stop offset="0.0729" stop-color="#ff6d6d"/><stop offset="0.0868" stop-color="#ff9d9d"/><stop offset="0.1042" stop-color="#ffe5e5"/><stop offset="0.1076" stop-color="#fff5f5"/><stop offset="0.1111" stop-color="#f9f9ff"/><stop offset="0.1146" stop-color="#ededff"/><stop offset="0.1181" stop-color="#fff9f9"/><stop offset="0.1319" stop-color="#ff8d8d"/><stop offset="0.1354" stop-color="#ff7575"/><stop offset="0.1424" stop-color="#ffdddd"/><stop offset="0.1458" stop-color="#ededff"/><stop offset="0.1562" stop-color="#4d4dff"/><stop offset="0.1736" stop-color="#e9e9ff"/><stop offset="0.1771" stop-color="#fff5f5"/><stop offset="0.1806" stop-color="#fffdfd"/><stop offset="0.1875" stop-color="#f1f1ff"/><stop offset="0.1979" stop-color="#ddddff"/><stop offset="0.2188" stop-color="#ddddff"/><stop offset="0.2257" stop-color="#e9e9ff"/><stop offset="0.2396" stop-color="#f9f9ff"/><stop offset="0.2604" stop-color="#e1e1ff"/><stop offset="0.2743" stop-color="#f5f5ff"/><stop offset="0.2812" stop-color="#fffdfd"/><stop offset="0.2951" stop-color="#e9e9ff"/><stop offset="0.3021" stop-color="#ddddff"/><stop offset="0.3194" stop-color="#d9d9ff"/><stop offset="0.3299" stop-color="#d1d1ff"/><stop offset="0.3438" stop-color="#c1c1ff"/><stop offset="0.3611" stop-color="#e1e1ff"/><stop offset="0.3681" stop-color="#e5e5ff"/><stop offset="0.3889" stop-color="#d9d9ff"/><stop offset="0.4097" stop-color="#d5d5ff"/><stop offset="0.4271" stop-color="#d5d5ff"/><stop offset="0.4479" stop-color="#e9e9ff"/><stop offset="0.4896" stop-color="#ddddff"/><stop offset="0.5347" stop-color="#e9e9ff"/><stop offset="0.5556" stop-color="#e9e9ff"/><stop offset="0.5625" stop-color="#e5e5ff"/><stop offset="0.5833" stop-color="#e1e1ff"/><stop offset="0.6042" stop-color="#e1e1ff"/><stop offset="0.6111" stop-color="#e5e5ff"/><stop offset="0.6944" stop-color="#f9f9ff"/><stop offset="0.7222" stop-color="#fdfdff"/><stop offset="0.7812" stop-color="#fdfdff"/><stop offset="0.8021" stop-color="#ededff"/><stop offset="0.8264" stop-color="#f9f9ff"/><stop offset="0.8542" stop-color="#fdfdff"/><stop offset="1" stop-color="#fdfdff"/></linearGradient><linearGradient id="gv1" x1="0" y1="0" x2="0" y2="1"><stop offset="0" stop-color="#ff0d0d"/><stop offset="0.0104" stop-color="#ff0d0d"/><stop offset="0.0139" stop-color="#ff2929"/><stop offset="0.0278" stop-color="#ff8d8d"/><stop offset="0.0312" stop-color="#ffa9a9"/><stop offset="0.0486" stop-color="#ff9d9d"/><stop offset="0.0556" stop-color="#ff9595"/><stop offset="0.0729" stop-color="#ff6d6d"/><stop offset="0.0799" stop-color="#ff8989"/><stop offset="0.0903" stop-color="#ffadad"/><stop offset="0.1076" stop-color="#fff5f5"/><stop offset="0.1111" stop-color="#f9f9ff"/><stop offset="0.1146" stop-color="#ededff"/><stop offset="0.1181" stop-color="#fff9f9"/><stop offset="0.1354" stop-color="#ff7575"/><stop offset="0.1424" stop-color="#ffdddd"/><stop offset="0.1458" stop-color="#ededff"/><stop offset="0.1562" stop-color="#5151ff"/><stop offset="0.1667" stop-color="#adadff"/><stop offset="0.1701" stop-color="#cdcdff"/><stop offset="0.1736" stop-color="#e9e9ff"/><stop offset="0.1771" stop-color="#fff5f5"/><stop offset="0.1806" stop-color="#fffdfd"/><stop offset="0.1875" stop-color="#f5f5ff"/><stop offset="0.1979" stop-color="#ddddff"/><stop offset="0.2118" stop-color="#e1e1ff"/><stop offset="0.2188" stop-color="#e1e1ff"/><stop offset="0.2396" stop-color="#f9f9ff"/><stop offset="0.2569" stop-color="#e5e5ff"/><stop offset="0.2639" stop-color="#e9e9ff"/><stop offset="0.2812" stop-color="#fffdfd"/><stop offset="0.3021" stop-color="#e1e1ff"/><stop offset="0.316" stop-color="#d9d9ff"/><stop offset="0.3229" stop-color="#d9d9ff"/><stop offset="0.3438" stop-color="#c1c1ff"/><stop offset="0.3611" stop-color="#e1e1ff"/><stop offset="0.3681" stop-color="#e5e5ff"/><stop offset="0.3889" stop-color="#d9d9ff"/><stop offset="0.4097" stop-color="#d5d5ff"/><stop offset="0.4271" stop-color="#d5d5ff"/><stop offset="0.4479" stop-color="#e9e9ff"/><stop offset="0.4896" stop-color="#ddddff"/><stop offset="0.5347" stop-color="#e9e9ff"/><stop offset="0.5556" stop-color="#e9e9ff"/><stop offset="0.5625" stop-color="#e5e5ff"/><stop offset="0.5833" stop-color="#e1e1ff"/><stop offset="0.6042" stop-color="#e1e1ff"/><stop offset="0.6111" stop-color="#e5e5ff"/><stop offset="0.6944" stop-color="#f9f9ff"/><stop offset="0.7222" stop-color="#fdfdff"/><stop offset="0.7812" stop-color="#fdfdff"/><stop offset="0.8021" stop-color="#ededff"/><stop offset="0.8264" stop-color="#f9f9ff"/><stop offset="0.8542" stop-color="#fdfdff"/><stop offset="1" stop-color="#fdfdff"/></linearGradient><linearGradient id="gv2" x1="0" y1="0" x2="0" y2="1"><stop offset="0" stop-color="#ff1111"/><stop offset="0.0104" stop-color="#ff1111"/><stop offset="0.0312" stop-color="#ffadad"/><stop offset="0.0521" stop-color="#ffa1a1"/><stop offset="0.0729" stop-color="#ff7171"/><stop offset="0.1042" stop-color="#ffe5e5"/><stop offset="0.1076" stop-color="#fff5f5"/><stop offset="0.1111" stop-color="#fdfdff"/><stop offset="0.1146" stop-color="#ededff"/><stop offset="0.1181" stop-color="#fff9f9"/><stop offset="0.125" stop-color="#ffc5c5"/><stop offset="0.1319" stop-color="#ff9595"/><stop offset="0.1354" stop-color="#ff7979"/><stop offset="0.1424" stop-color="#ffdddd"/><stop offset="0.1458" stop-color="#ededff"/><stop offset="0.1562" stop-color="#5555ff"/><stop offset="0.1736" stop-color="#ededff"/><stop offset="0.1771" stop-color="#fff5f5"/><stop offset="0.1806" stop-color="#fffdfd"/><stop offset="0.184" stop-color="#fdfdff"/><stop offset="0.1944" stop-color="#e5e5ff"/><stop offset="0.2014" stop-color="#e1e1ff"/><stop offset="0.2118" stop-color="#e1e1ff"/><stop offset="0.2292" stop-color="#ededff"/><stop offset="0.2396" stop-color="#f9f9ff"/><stop offset="0.2604" stop-color="#e5e5ff"/><stop offset="0.2812" stop-color="#fffdfd"/><stop offset="0.3021" stop-color="#e1e1ff"/><stop offset="0.3229" stop-color="#d9d9ff"/><stop offset="0.3403" stop-color="#c5c5ff"/><stop offset="0.3438" stop-color="#c5c5ff"/><stop offset="0.3576" stop-color="#d9d9ff"/><stop offset="0.3646" stop-color="#e5e5ff"/><stop offset="0.3924" stop-color="#d9d9ff"/><stop offset="0.4062" stop-color="#d5d5ff"/><stop offset="0.4271" stop-color="#d5d5ff"/><stop offset="0.4479" stop-color="#e9e9ff"/><stop offset="0.4896" stop-color="#ddddff"/><stop offset="0.5347" stop-color="#e9e9ff"/><stop offset="0.5556" stop-color="#e9e9ff"/><stop offset="0.5625" stop-color="#e5e5ff"/><stop offset="0.5833" stop-color="#e1e1ff"/><stop offset="0.6042" stop-color="#e1e1ff"/><stop offset="0.6111" stop-color="#e5e5ff"/><stop offset="0.6944" stop-color="#f9f9ff"/><stop offset="0.7222" stop-color="#fdfdff"/><stop offset="0.7812" stop-color="#fdfdff"/><stop offset="0.8021" stop-color="#ededff"/><stop offset="0.8264" stop-color="#f9f9ff"/><stop offset="0.8542" stop-color="#fdfdff"/><stop offset="1" stop-color="#fdfdff"/></linearGradient><linearGradient id="gv3" x1="0" y1="0" x2="0" y2="1"><stop offset="0" stop-color="#ff1111"/><stop offset="0.0104" stop-color="#ff1111"/><stop offset="0.0312" stop-color="#ffb5b5"/><stop offset="0.0451" stop-color="#ffa9a9"/><stop offset="0.0521" stop-color="#ffa5a5"/><stop offset="0.0729" stop-color="#ff7575"/><stop offset="0.0868" stop-color="#ffa5a5"/><stop offset="0.0938" stop-color="#ffc1c1"/><stop offset="0.1076" stop-color="#fff5f5"/><stop offset="0.1111" stop-color="#fdfdff"/><stop offset="0.1146" stop-color="#ededff"/><stop offset="0.1181" stop-color="#fff5f5"/><stop offset="0.1354" stop-color="#ff7d7d"/><stop offset="0.1389" stop-color="#ffadad"/><stop offset="0.1424" stop-color="#ffe1e1"/><stop offset="0.1458" stop-color="#ededff"/><stop offset="0.1562" stop-color="#5959ff"/><stop offset="0.1736" stop-color="#ededff"/><stop offset="0.1771" stop-color="#fff1f1"/><stop offset="0.184" stop-color="#fdfdff"/><stop offset="0.1979" stop-color="#e1e1ff"/><stop offset="0.2118" stop-color="#e5e5ff"/><stop offset="0.2188" stop-color="#e5e5ff"/><stop offset="0.2326" stop-color="#f5f5ff"/><stop offset="0.2396" stop-color="#f9f9ff"/><stop offset="0.2535" stop-color="#ededff"/><stop offset="0.2604" stop-color="#e5e5ff"/><stop offset="0.2812" stop-color="#fffdfd"/><stop offset="0.2951" stop-color="#ededff"/><stop offset="0.3021" stop-color="#e1e1ff"/><stop offset="0.3194" stop-color="#ddddff"/><stop offset="0.3438" stop-color="#c5c5ff"/><stop offset="0.3576" stop-color="#d9d9ff"/><stop offset="0.3646" stop-color="#e5e5ff"/><stop offset="0.3924" stop-color="#d9d9ff"/><stop offset="0.4062" stop-color="#d5d5ff"/><stop offset="0.4271" stop-color="#d5d5ff"/><stop offset="0.4479" stop-color="#e9e9ff"/><stop offset="0.4896" stop-color="#ddddff"/><stop offset="0.5347" stop-color="#e9e9ff"/><stop offset="0.5556" stop-color="#e9e9ff"/><stop offset="0.5625" stop-color="#e5e5ff"/><stop offset="0.5833" stop-color="#e1e1ff"/><stop offset="0.6042" stop-color="#e1e1ff"/><stop offset="0.6111" stop-color="#e5e5ff"/><stop offset="0.6944" stop-color="#f9f9ff"/><stop offset="0.7222" stop-color="#fdfdff"/><stop offset="0.7812" stop-color="#fdfdff"/><stop offset="0.8021" stop-color="#ededff"/><stop offset="0.8264" stop-color="#f9f9ff"/><stop offset="0.8542" stop-color="#fdfdff"/><stop offset="1" stop-color="#fdfdff"/></linearGradient><linearGradient id="gv4" x1="0" y1="0" x2="0" y2="1"><stop offset="0" stop-color="#ff1515"/><stop offset="0.0104" stop-color="#ff1515"/><stop offset="0.0278" stop-color="#ffa1a1"/><stop offset="0.0312" stop-color="#ffb9b9"/><stop offset="0.0451" stop-color="#ffb1b1"/><stop offset="0.0521" stop-color="#ffa9a9"/><stop offset="0.0694" stop-color="#ff8181"/><stop offset="0.0729" stop-color="#ff7575"/><stop offset="0.0799" stop-color="#ff9191"/><stop offset="0.1076" stop-color="#fff5f5"/><stop offset="0.1111" stop-color="#fdfdff"/><stop offset="0.1146" stop-color="#f1f1ff"/><stop offset="0.1181" stop-color="#fff5f5"/><stop offset="0.1319" stop-color="#ff9999"/><stop offset="0.1354" stop-color="#ff8181"/><stop offset="0.1424" stop-color="#ffe1e1"/><stop offset="0.1458" stop-color="#ededff"/><stop offset="0.1562" stop-color="#5d5dff"/><stop offset="0.1701" stop-color="#d1d1ff"/><stop offset="0.1736" stop-color="#f1f1ff"/><stop offset="0.1771" stop-color="#fff1f1"/><stop offset="0.184" stop-color="#fdfdff"/><stop offset="0.1875" stop-color="#f9f9ff"/><stop offset="0.1944" stop-color="#e9e9ff"/><stop offset="0.2014" stop-color="#e5e5ff"/><stop offset="0.2188" stop-color="#e9e9ff"/><stop offset="0.2326" stop-color="#f5f5ff"/><stop offset="0.2396" stop-color="#f9f9ff"/><stop offset="0.2465" stop-color="#f5f5ff"/><stop offset="0.2604" stop-color="#e9e9ff"/><stop offset="0.2778" stop-color="#fdfdff"/><stop offset="0.2812" stop-color="#fffdfd"/><stop offset="0.3056" stop-color="#e1e1ff"/><stop offset="0.3229" stop-color="#ddddff"/><stop offset="0.3438" stop-color="#c5c5ff"/><stop offset="0.3646" stop-color="#e5e5ff"/><stop offset="0.3924" stop-color="#d9d9ff"/><stop offset="0.4062" stop-color="#d5d5ff"/><stop offset="0.4271" stop-color="#d5d5ff"/><stop offset="0.4479" stop-color="#e9e9ff"/><stop offset="0.4896" stop-color="#ddddff"/><stop offset="0.5347" stop-color="#e9e9ff"/><stop offset="0.5556" stop-color="#e9e9ff"/><stop offset="0.5625" stop-color="#e5e5ff"/><stop offset="0.5833" stop-color="#e1e1ff"/><stop offset="0.6042" stop-color="#e1e1ff"/><stop offset="0.6111" stop-color="#e5e5ff"/><stop offset="0.6944" stop-color="#f9f9ff"/><stop offset="0.7222" stop-color="#fdfdff"/><stop offset="0.7812" stop-color="#fdfdff"/><stop offset="0.8021" stop-color="#ededff"/><stop offset="0.8264" stop-color="#f9f9ff"/><stop offset="0.8542" stop-color="#fdfdff"/><stop offset="1" stop-color="#fdfdff"/></linearGradient><linearGradient id="gv5" x1="0" y1="0" x2="0" y2="1"><stop offset="0" stop-color="#ff1d1d"/><stop offset="0.0104" stop-color="#ff1d1d"/><stop offset="0.0208" stop-color="#ff7171"/><stop offset="0.0278" stop-color="#ffa5a5"/><stop offset="0.0312" stop-color="#ffc1c1"/><stop offset="0.0382" stop-color="#ffbdbd"/><stop offset="0.0521" stop-color="#ffb1b1"/><stop offset="0.0694" stop-color="#ff8585"/><stop offset="0.0729" stop-color="#ff7979"/><stop offset="0.0799" stop-color="#ff9595"/><stop offset="0.0972" stop-color="#ffd5d5"/><stop offset="0.1042" stop-color="#ffe9e9"/><stop offset="0.1111" stop-color="#fdfdff"/><stop offset="0.1146" stop-color="#f1f1ff"/><stop offset="0.1181" stop-color="#fff5f5"/><stop offset="0.1319" stop-color="#ff9999"/><stop offset="0.1354" stop-color="#ff8585"/><stop offset="0.1389" stop-color="#ffb1b1"/><stop offset="0.1424" stop-color="#ffe1e1"/><stop offset="0.1458" stop-color="#f1f1ff"/><stop offset="0.1528" stop-color="#9191ff"/><stop offset="0.1562" stop-color="#6565ff"/><stop offset="0.1736" stop-color="#f1f1ff"/><stop offset="0.1771" stop-color="#fff1f1"/><stop offset="0.184" stop-color="#fffdfd"/><stop offset="0.191" stop-color="#f5f5ff"/><stop offset="0.1979" stop-color="#e5e5ff"/><stop offset="0.2049" stop-color="#e9e9ff"/><stop offset="0.2188" stop-color="#ededff"/><stop offset="0.2361" stop-color="#f9f9ff"/><stop offset="0.2396" stop-color="#fdfdff"/><stop offset="0.2569" stop-color="#ededff"/><stop offset="0.2639" stop-color="#ededff"/><stop offset="0.2778" stop-color="#fdfdff"/><stop offset="0.2847" stop-color="#fdfdff"/><stop offset="0.2917" stop-color="#f1f1ff"/><stop offset="0.3021" stop-color="#e5e5ff"/><stop offset="0.316" stop-color="#e1e1ff"/><stop offset="0.3229" stop-color="#ddddff"/><stop offset="0.3438" stop-color="#c5c5ff"/><stop offset="0.3646" stop-color="#e5e5ff"/><stop offset="0.3924" stop-color="#d9d9ff"/><stop offset="0.4062" stop-color="#d5d5ff"/><stop offset="0.4271" stop-color="#d5d5ff"/><stop offset="0.4479" stop-color="#e9e9ff"/><stop offset="0.4896" stop-color="#ddddff"/><stop offset="0.5347" stop-color="#e9e9ff"/><stop offset="0.5556" stop-color="#e9e9ff"/><stop offset="0.5625" stop-color="#e5e5ff"/><stop offset="0.5833" stop-color="#e1e1ff"/><stop offset="0.6042" stop-color="#e1e1ff"/><stop offset="0.6111" stop-color="#e5e5ff"/><stop offset="0.6944" stop-color="#f9f9ff"/><stop offset="0.7222" stop-color="#fdfdff"/><stop offset="0.7812" stop-color="#fdfdff"/><stop offset="0.8021" stop-color="#ededff"/><stop offset="0.8264" stop-color="#f9f9ff"/><stop offset="0.8542" stop-color="#fdfdff"/><stop offset="1" stop-color="#fdfdff"/></linearGradient><linearGradient id="gv6" x1="0" y1="0" x2="0" y2="1"><stop offset="0" stop-color="#ff2525"/><stop offset="0.0104" stop-color="#ff2525"/><stop offset="0.0208" stop-color="#ff7575"/><stop offset="0.0312" stop-color="#ffc9c9"/><stop offset="0.0451" stop-color="#ffbdbd"/><stop offset="0.0521" stop-color="#ffb9b9"/><stop offset="0.066" stop-color="#ff9191"/><stop offset="0.0729" stop-color="#ff8181"/><stop offset="0.0972" stop-color="#ffd9d9"/><stop offset="0.1111" stop-color="#fdfdff"/><stop offset="0.1146" stop-color="#f5f5ff"/><stop offset="0.1181" stop-color="#fff5f5"/><stop offset="0.1354" stop-color="#ff8989"/><stop offset="0.1424" stop-color="#ffe1e1"/><stop offset="0.1458" stop-color="#f1f1ff"/><stop offset="0.1528" stop-color="#9999ff"/><stop offset="0.1562" stop-color="#6969ff"/><stop offset="0.1736" stop-color="#f5f5ff"/><stop offset="0.1771" stop-color="#fff1f1"/><stop offset="0.1806" stop-color="#fff5f5"/><stop offset="0.184" stop-color="#fffdfd"/><stop offset="0.1875" stop-color="#fdfdff"/><stop offset="0.1979" stop-color="#e9e9ff"/><stop offset="0.2222" stop-color="#f1f1ff"/><stop offset="0.2396" stop-color="#fdfdff"/><stop offset="0.2604" stop-color="#ededff"/><stop offset="0.2778" stop-color="#fdfdff"/><stop offset="0.2847" stop-color="#fdfdff"/><stop offset="0.2986" stop-color="#ededff"/><stop offset="0.3021" stop-color="#e5e5ff"/><stop offset="0.3229" stop-color="#e1e1ff"/><stop offset="0.3403" stop-color="#cdcdff"/><stop offset="0.3438" stop-color="#c5c5ff"/><stop offset="0.3507" stop-color="#d1d1ff"/><stop offset="0.3646" stop-color="#e5e5ff"/><stop offset="0.3924" stop-color="#d9d9ff"/><stop offset="0.4062" stop-color="#d5d5ff"/><stop offset="0.4271" stop-color="#d5d5ff"/><stop offset="0.4479" stop-color="#e9e9ff"/><stop offset="0.4896" stop-color="#ddddff"/><stop offset="0.5347" stop-color="#e9e9ff"/><stop offset="0.5556" stop-color="#e9e9ff"/><stop offset="0.5625" stop-color="#e5e5ff"/><stop offset="0.5833" stop-color="#e1e1ff"/><stop offset="0.6042" stop-color="#e1e1ff"/><stop offset="0.6111" stop-color="#e5e5ff"/><stop offset="0.6944" stop-color="#f9f9ff"/><stop offset="0.7222" stop-color="#fdfdff"/><stop offset="0.7812" stop-color="#fdfdff"/><stop offset="0.8021" stop-color="#ededff"/><stop offset="0.8264" stop-color="#f9f9ff"/><stop offset="0.8542" stop-color="#fdfdff"/><stop offset="1" stop-color="#fdfdff"/></linearGradient><linearGradient id="gv7" x1="0" y1="0" x2="0" y2="1"><stop offset="0" stop-color="#ff2929"/><stop offset="0.0104" stop-color="#ff2929"/><stop offset="0.0312" stop-color="#ffd1d1"/><stop offset="0.0451" stop-color="#ffc5c5"/><stop offset="0.0521" stop-color="#ffbdbd"/><stop offset="0.0729" stop-color="#ff8585"/><stop offset="0.0938" stop-color="#ffd1d1"/><stop offset="0.0972" stop-color="#ffdddd"/><stop offset="0.1111" stop-color="#fdfdff"/><stop offset="0.1146" stop-color="#f5f5ff"/><stop offset="0.1181" stop-color="#fff5f5"/><stop offset="0.1319" stop-color="#ffa1a1"/><stop offset="0.1354" stop-color="#ff8d8d"/><stop offset="0.1389" stop-color="#ffb5b5"/><stop offset="0.1424" stop-color="#ffe1e1"/><stop offset="0.1458" stop-color="#f1f1ff"/><stop offset="0.1493" stop-color="#c9c9ff"/><stop offset="0.1562" stop-color="#7171ff"/><stop offset="0.1736" stop-color="#f5f5ff"/><stop offset="0.1771" stop-color="#ffeded"/><stop offset="0.184" stop-color="#fff9f9"/><stop offset="0.1875" stop-color="#fdfdff"/><stop offset="0.1979" stop-color="#ededff"/><stop offset="0.2257" stop-color="#f5f5ff"/><stop offset="0.2396" stop-color="#fdfdff"/><stop offset="0.2604" stop-color="#f1f1ff"/><stop offset="0.2639" stop-color="#f1f1ff"/><stop offset="0.2743" stop-color="#fdfdff"/><stop offset="0.2847" stop-color="#fdfdff"/><stop offset="0.3021" stop-color="#e9e9ff"/><stop offset="0.316" stop-color="#e5e5ff"/><stop offset="0.3229" stop-color="#e1e1ff"/><stop offset="0.3438" stop-color="#c9c9ff"/><stop offset="0.3646" stop-color="#e5e5ff"/><stop offset="0.3924" stop-color="#d9d9ff"/><stop offset="0.4062" stop-color="#d5d5ff"/><stop offset="0.4271" stop-color="#d5d5ff"/><stop offset="0.4479" stop-color="#e9e9ff"/><stop offset="0.4896" stop-color="#ddddff"/><stop offset="0.5347" stop-color="#e9e9ff"/><stop offset="0.5556" stop-color="#e9e9ff"/><stop offset="0.5625" stop-color="#e5e5ff"/><stop offset="0.5833" stop-color="#e1e1ff"/><stop offset="0.6042" stop-color="#e1e1ff"/><stop offset="0.6111" stop-color="#e5e5ff"/><stop offset="0.6944" stop-color="#f9f9ff"/><stop offset="0.7222" stop-color="#fdfdff"/><stop offset="0.7812" stop-color="#fdfdff"/><stop offset="0.8021" stop-color="#ededff"/><stop offset="0.8264" stop-color="#f9f9ff"/><stop offset="0.8542" stop-color="#fdfdff"/><stop offset="1" stop-color="#fdfdff"/></linearGradient><linearGradient id="gv8" x1="0" y1="0" x2="0" y2="1"><stop offset="0" stop-color="#ff3131"/><stop offset="0.0104" stop-color="#ff3131"/><stop offset="0.0312" stop-color="#ffd9d9"/><stop offset="0.0521" stop-color="#ffc5c5"/><stop offset="0.0729" stop-color="#ff8989"/><stop offset="0.0903" stop-color="#ffc9c9"/><stop offset="0.0938" stop-color="#ffd9d9"/><stop offset="0.1076" stop-color="#fff9f9"/><stop offset="0.1111" stop-color="#fdfdff"/><stop offset="0.1146" stop-color="#f5f5ff"/><stop offset="0.1181" stop-color="#fff5f5"/><stop offset="0.1354" stop-color="#ff9191"/><stop offset="0.1424" stop-color="#ffe1e1"/><stop offset="0.1458" stop-color="#f5f5ff"/><stop offset="0.1528" stop-color="#a1a1ff"/><stop offset="0.1562" stop-color="#7979ff"/><stop offset="0.1632" stop-color="#a9a9ff"/><stop offset="0.1736" stop-color="#f9f9ff"/><stop offset="0.1771" stop-color="#ffeded"/><stop offset="0.1875" stop-color="#fffdfd"/><stop offset="0.1944" stop-color="#f5f5ff"/><stop offset="0.1979" stop-color="#ededff"/><stop offset="0.2118" stop-color="#f5f5ff"/><stop offset="0.2396" stop-color="#fdfdff"/><stop offset="0.2569" stop-color="#f5f5ff"/><stop offset="0.2604" stop-color="#f1f1ff"/><stop offset="0.2708" stop-color="#f9f9ff"/><stop offset="0.2743" stop-color="#fdfdff"/><stop offset="0.2847" stop-color="#fdfdff"/><stop offset="0.3021" stop-color="#e9e9ff"/><stop offset="0.3229" stop-color="#e5e5ff"/><stop offset="0.3438" stop-color="#c9c9ff"/><stop offset="0.3611" stop-color="#e1e1ff"/><stop offset="0.3681" stop-color="#e5e5ff"/><stop offset="0.3889" stop-color="#d9d9ff"/><stop offset="0.4097" stop-color="#d5d5ff"/><stop offset="0.4271" stop-color="#d5d5ff"/><stop offset="0.4479" stop-color="#e9e9ff"/><stop offset="0.4896" stop-color="#ddddff"/><stop offset="0.5347" stop-color="#e9e9ff"/><stop offset="0.5556" stop-color="#e9e9ff"/><stop offset="0.5625" stop-color="#e5e5ff"/><stop offset="0.5833" stop-color="#e1e1ff"/><stop offset="0.6042" stop-color="#e1e1ff"/><stop offset="0.6111" stop-color="#e5e5ff"/><stop offset="0.6944" stop-color="#f9f9ff"/><stop offset="0.7222" stop-color="#fdfdff"/><stop offset="0.7812" stop-color="#fdfdff"/><stop offset="0.8021" stop-color="#ededff"/><stop offset="0.8264" stop-color="#f9f9ff"/><stop offset="0.8542" stop-color="#fdfdff"/><stop offset="1" stop-color="#fdfdff"/></linearGradient><linearGradient id="gv9" x1="0" y1="0" x2="0" y2="1"><stop offset="0" stop-color="#ff3535"/><stop offset="0.0104" stop-color="#ff3535"/><stop offset="0.0312" stop-color="#ffdddd"/><stop offset="0.0451" stop-color="#ffcdcd"/><stop offset="0.0521" stop-color="#ffc9c9"/><stop offset="0.0729" stop-color="#ff8989"/><stop offset="0.0799" stop-color="#ffa5a5"/><stop offset="0.0938" stop-color="#ffd9d9"/><stop offset="0.1076" stop-color="#fff9f9"/><stop offset="0.1111" stop-color="#fdfdff"/><stop offset="0.1146" stop-color="#f9f9ff"/><stop offset="0.1181" stop-color="#fff5f5"/><stop offset="0.1354" stop-color="#ff9191"/><stop offset="0.1424" stop-color="#ffe1e1"/><stop offset="0.1458" stop-color="#f5f5ff"/><stop offset="0.1528" stop-color="#a5a5ff"/><stop offset="0.1562" stop-color="#7979ff"/><stop offset="0.1597" stop-color="#9595ff"/><stop offset="0.1701" stop-color="#ddddff"/><stop offset="0.1736" stop-color="#f9f9ff"/><stop offset="0.1771" stop-color="#ffeded"/><stop offset="0.1875" stop-color="#fffdfd"/><stop offset="0.1979" stop-color="#f1f1ff"/><stop offset="0.2257" stop-color="#f9f9ff"/><stop offset="0.2326" stop-color="#fdfdff"/><stop offset="0.2431" stop-color="#fdfdff"/><stop offset="0.2604" stop-color="#f1f1ff"/><stop offset="0.2743" stop-color="#fdfdff"/><stop offset="0.2847" stop-color="#fdfdff"/><stop offset="0.3021" stop-color="#e9e9ff"/><stop offset="0.316" stop-color="#e9e9ff"/><stop offset="0.3299" stop-color="#ddddff"/><stop offset="0.3403" stop-color="#cdcdff"/><stop offset="0.3438" stop-color="#c9c9ff"/><stop offset="0.3611" stop-color="#e1e1ff"/><stop offset="0.3681" stop-color="#e5e5ff"/><stop offset="0.3889" stop-color="#d9d9ff"/><stop offset="0.4097" stop-color="#d5d5ff"/><stop offset="0.4271" stop-color="#d5d5ff"/><stop offset="0.4479" stop-color="#e9e9ff"/><stop offset="0.4896" stop-color="#ddddff"/><stop offset="0.5347" stop-color="#e9e9ff"/><stop offset="0.5556" stop-color="#e9e9ff"/><stop offset="0.5625" stop-color="#e5e5ff"/><stop offset="0.5833" stop-color="#e1e1ff"/><stop offset="0.6042" stop-color="#e1e1ff"/><stop offset="0.6111" stop-color="#e5e5ff"/><stop offset="0.6944" stop-color="#f9f9ff"/><stop offset="0.7222" stop-color="#fdfdff"/><stop offset="0.7812" stop-color="#fdfdff"/><stop offset="0.8021" stop-color="#ededff"/><stop offset="0.8264" stop-color="#f9f9ff"/><stop offset="0.8542" stop-color="#fdfdff"/><stop offset="1" stop-color="#fdfdff"/></linearGradient><linearGradient id="gv10" x1="0" y1="0" x2="0" y2="1"><stop offset="0" stop-color="#ff3535"/><stop offset="0.0104" stop-color="#ff3535"/><stop offset="0.0312" stop-color="#ffdddd"/><stop offset="0.0521" stop-color="#ffc9c9"/><stop offset="0.0729" stop-color="#ff8d8d"/><stop offset="0.0938" stop-color="#ffd9d9"/><stop offset="0.1076" stop-color="#fff9f9"/><stop offset="0.1111" stop-color="#fdfdff"/><stop offset="0.1146" stop-color="#f9f9ff"/><stop offset="0.1181" stop-color="#fff5f5"/><stop offset="0.1354" stop-color="#ff9191"/><stop offset="0.1424" stop-color="#ffe1e1"/><stop offset="0.1458" stop-color="#f5f5ff"/><stop offset="0.1562" stop-color="#7d7dff"/><stop offset="0.1667" stop-color="#c5c5ff"/><stop offset="0.1701" stop-color="#e1e1ff"/><stop offset="0.1736" stop-color="#f9f9ff"/><stop offset="0.1771" stop-color="#ffeded"/><stop offset="0.1875" stop-color="#fffdfd"/><stop offset="0.1979" stop-color="#f1f1ff"/><stop offset="0.2257" stop-color="#f9f9ff"/><stop offset="0.2326" stop-color="#fdfdff"/><stop offset="0.2431" stop-color="#fdfdff"/><stop offset="0.2604" stop-color="#f1f1ff"/><stop offset="0.2743" stop-color="#fdfdff"/><stop offset="0.2847" stop-color="#fdfdff"/><stop offset="0.2986" stop-color="#ededff"/><stop offset="0.3229" stop-color="#e5e5ff"/><stop offset="0.3368" stop-color="#d5d5ff"/><stop offset="0.3403" stop-color="#cdcdff"/><stop offset="0.3438" stop-color="#c9c9ff"/><stop offset="0.3611" stop-color="#e1e1ff"/><stop offset="0.3681" stop-color="#e5e5ff"/><stop offset="0.3889" stop-color="#d9d9ff"/><stop offset="0.4097" stop-color="#d5d5ff"/><stop offset="0.4271" stop-color="#d5d5ff"/><stop offset="0.4479" stop-color="#e9e9ff"/><stop offset="0.4896" stop-color="#ddddff"/><stop offset="0.5347" stop-color="#e9e9ff"/><stop offset="0.5556" stop-color="#e9e9ff"/><stop offset="0.5625" stop-color="#e5e5ff"/><stop offset="0.5833" stop-color="#e1e1ff"/><stop offset="0.6042" stop-color="#e1e1ff"/><stop offset="0.6111" stop-color="#e5e5ff"/><stop offset="0.6944" stop-color="#f9f9ff"/><stop offset="0.7222" stop-color="#fdfdff"/><stop offset="0.7812" stop-color="#fdfdff"/><stop offset="0.8021" stop-color="#ededff"/><stop offset="0.8264" stop-color="#f9f9ff"/><stop offset="0.8542" stop-color="#fdfdff"/><stop offset="1" stop-color="#fdfdff"/></linearGradient><linearGradient id="gv11" x1="0" y1="0" x2="0" y2="1"><stop offset="0" stop-color="#ff3939"/><stop offset="0.0104" stop-color="#ff3939"/><stop offset="0.0278" stop-color="#ffc5c5"/><stop offset="0.0312" stop-color="#ffdddd"/><stop offset="0.0382" stop-color="#ffd9d9"/><stop offset="0.0521" stop-color="#ffc9c9"/><stop offset="0.066" stop-color="#ffa1a1"/><stop offset="0.0729" stop-color="#ff8d8d"/><stop offset="0.0938" stop-color="#ffd9d9"/><stop offset="0.1076" stop-color="#fff9f9"/><stop offset="0.1111" stop-color="#fdfdff"/><stop offset="0.1146" stop-color="#f9f9ff"/><stop offset="0.1181" stop-color="#fff5f5"/><stop offset="0.1319" stop-color="#ffa5a5"/><stop offset="0.1354" stop-color="#ff9595"/><stop offset="0.1424" stop-color="#ffe1e1"/><stop offset="0.1458" stop-color="#f5f5ff"/><stop offset="0.1562" stop-color="#7d7dff"/><stop offset="0.1736" stop-color="#f9f9ff"/><stop offset="0.1771" stop-color="#ffeded"/><stop offset="0.1875" stop-color="#fffdfd"/><stop offset="0.1979" stop-color="#f1f1ff"/><stop offset="0.2257" stop-color="#f9f9ff"/><stop offset="0.2326" stop-color="#fdfdff"/><stop offset="0.2431" stop-color="#fdfdff"/><stop offset="0.2604" stop-color="#f1f1ff"/><stop offset="0.2743" stop-color="#fdfdff"/><stop offset="0.2847" stop-color="#fdfdff"/><stop offset="0.3056" stop-color="#e9e9ff"/><stop offset="0.3194" stop-color="#e9e9ff"/><stop offset="0.3368" stop-color="#d5d5ff"/><stop offset="0.3403" stop-color="#cdcdff"/><stop offset="0.3438" stop-color="#c9c9ff"/><stop offset="0.3542" stop-color="#d9d9ff"/><stop offset="0.3646" stop-color="#e5e5ff"/><stop offset="0.3924" stop-color="#d9d9ff"/><stop offset="0.4062" stop-color="#d5d5ff"/><stop offset="0.4271" stop-color="#d5d5ff"/><stop offset="0.4479" stop-color="#e9e9ff"/><stop offset="0.4896" stop-color="#ddddff"/><stop offset="0.5347" stop-color="#e9e9ff"/><stop offset="0.5556" stop-color="#e9e9ff"/><stop offset="0.5625" stop-color="#e5e5ff"/><stop offset="0.5833" stop-color="#e1e1ff"/><stop offset="0.6042" stop-color="#e1e1ff"/><stop offset="0.6111" stop-color="#e5e5ff"/><stop offset="0.6944" stop-color="#f9f9ff"/><stop offset="0.7222" stop-color="#fdfdff"/><stop offset="0.7812" stop-color="#fdfdff"/><stop offset="0.8021" stop-color="#ededff"/><stop offset="0.8264" stop-color="#f9f9ff"/><stop offset="0.8542" stop-color="#fdfdff"/><stop offset="1" stop-color="#fdfdff"/></linearGradient><linearGradient id="gv12" x1="0" y1="0" x2="0" y2="1"><stop offset="0" stop-color="#ff3d3d"/><stop offset="0.0104" stop-color="#ff3d3d"/><stop offset="0.0174" stop-color="#ff7171"/><stop offset="0.0312" stop-color="#ffe1e1"/><stop offset="0.0486" stop-color="#ffcdcd"/><stop offset="0.0521" stop-color="#ffcdcd"/><stop offset="0.066" stop-color="#ffa1a1"/><stop offset="0.0694" stop-color="#ff9999"/><stop offset="0.0729" stop-color="#ff8d8d"/><stop offset="0.0868" stop-color="#ffc1c1"/><stop offset="0.0938" stop-color="#ffd9d9"/><stop offset="0.1076" stop-color="#fff9f9"/><stop offset="0.1111" stop-color="#fdfdff"/><stop offset="0.1146" stop-color="#f9f9ff"/><stop offset="0.1181" stop-color="#fff5f5"/><stop offset="0.1285" stop-color="#ffb9b9"/><stop offset="0.1319" stop-color="#ffa9a9"/><stop offset="0.1354" stop-color="#ff9595"/><stop offset="0.1424" stop-color="#ffe1e1"/><stop offset="0.1458" stop-color="#f5f5ff"/><stop offset="0.1562" stop-color="#7d7dff"/><stop offset="0.1701" stop-color="#e1e1ff"/><stop offset="0.1736" stop-color="#f9f9ff"/><stop offset="0.1771" stop-color="#ffeded"/><stop offset="0.1875" stop-color="#fffdfd"/><stop offset="0.1979" stop-color="#f1f1ff"/><stop offset="0.2118" stop-color="#f5f5ff"/><stop offset="0.2188" stop-color="#f9f9ff"/><stop offset="0.2396" stop-color="#fffdfd"/><stop offset="0.2569" stop-color="#f5f5ff"/><stop offset="0.2604" stop-color="#f1f1ff"/><stop offset="0.2743" stop-color="#fdfdff"/><stop offset="0.2847" stop-color="#fdfdff"/><stop offset="0.3056" stop-color="#e9e9ff"/><stop offset="0.3194" stop-color="#e9e9ff"/><stop offset="0.3403" stop-color="#d1d1ff"/><stop offset="0.3438" stop-color="#c9c9ff"/><stop offset="0.3542" stop-color="#d9d9ff"/><stop offset="0.3646" stop-color="#e5e5ff"/><stop offset="0.3924" stop-color="#d9d9ff"/><stop offset="0.4062" stop-color="#d5d5ff"/><stop offset="0.4271" stop-color="#d5d5ff"/><stop offset="0.4479" stop-color="#e9e9ff"/><stop offset="0.4896" stop-color="#ddddff"/><stop offset="0.5347" stop-color="#e9e9ff"/><stop offset="0.5556" stop-color="#e9e9ff"/><stop offset="0.5625" stop-color="#e5e5ff"/><stop offset="0.5833" stop-color="#e1e1ff"/><stop offset="0.6042" stop-color="#e1e1ff"/><stop offset="0.6111" stop-color="#e5e5ff"/><stop offset="0.6944" stop-color="#f9f9ff"/><stop offset="0.7222" stop-color="#fdfdff"/><stop offset="0.7812" stop-color="#fdfdff"/><stop offset="0.8021" stop-color="#ededff"/><stop offset="0.8264" stop-color="#f9f9ff"/><stop offset="0.8542" stop-color="#fdfdff"/><stop offset="1" stop-color="#fdfdff"/></linearGradient><linearGradient id="gv13" x1="0" y1="0" x2="0" y2="1"><stop offset="0" stop-color="#ff3d3d"/><stop offset="0.0104" stop-color="#ff3d3d"/><stop offset="0.0312" stop-color="#ffe1e1"/><stop offset="0.0521" stop-color="#ffcdcd"/><stop offset="0.0729" stop-color="#ff9191"/><stop offset="0.0938" stop-color="#ffd9d9"/><stop offset="0.1076" stop-color="#fff9f9"/><stop offset="0.1111" stop-color="#fdfdff"/><stop offset="0.1146" stop-color="#f9f9ff"/><stop offset="0.1181" stop-color="#fff5f5"/><stop offset="0.1354" stop-color="#ff9595"/><stop offset="0.1424" stop-color="#ffe1e1"/><stop offset="0.1458" stop-color="#f5f5ff"/><stop offset="0.1528" stop-color="#a5a5ff"/><stop offset="0.1562" stop-color="#8181ff"/><stop offset="0.1736" stop-color="#f9f9ff"/><stop offset="0.1771" stop-color="#ffeded"/><stop offset="0.1875" stop-color="#fffdfd"/><stop offset="0.1979" stop-color="#f1f1ff"/><stop offset="0.2118" stop-color="#f5f5ff"/><stop offset="0.2188" stop-color="#f9f9ff"/><stop offset="0.2396" stop-color="#fffdfd"/><stop offset="0.2569" stop-color="#f5f5ff"/><stop offset="0.2604" stop-color="#f1f1ff"/><stop offset="0.2743" stop-color="#fdfdff"/><stop offset="0.2847" stop-color="#fdfdff"/><stop offset="0.3021" stop-color="#ededff"/><stop offset="0.316" stop-color="#e9e9ff"/><stop offset="0.3229" stop-color="#e5e5ff"/><stop offset="0.3403" stop-color="#d1d1ff"/><stop offset="0.3438" stop-color="#c9c9ff"/><stop offset="0.3507" stop-color="#d5d5ff"/><stop offset="0.3646" stop-color="#e5e5ff"/><stop offset="0.3924" stop-color="#d9d9ff"/><stop offset="0.4062" stop-color="#d5d5ff"/><stop offset="0.4271" stop-color="#d5d5ff"/><stop offset="0.4479" stop-color="#e9e9ff"/><stop offset="0.4896" stop-color="#ddddff"/><stop offset="0.5347" stop-color="#e9e9ff"/><stop offset="0.5556" stop-color="#e9e9ff"/><stop offset="0.5625" stop-color="#e5e5ff"/><stop offset="0.5833" stop-color="#e1e1ff"/><stop offset="0.6042" stop-color="#e1e1ff"/><stop offset="0.6111" stop-color="#e5e5ff"/><stop offset="0.6944" stop-color="#f9f9ff"/><stop offset="0.7222" stop-color="#fdfdff"/><stop offset="0.7812" stop-color="#fdfdff"/><stop offset="0.8021" stop-color="#ededff"/><stop offset="0.8264" stop-color="#f9f9ff"/><stop offset="0.8542" stop-color="#fdfdff"/><stop offset="1" stop-color="#fdfdff"/></linearGradient><linearGradient id="gv14" x1="0" y1="0" x2="0" y2="1"><stop offset="0" stop-color="#ff4141"/><stop offset="0.0104" stop-color="#ff4141"/><stop offset="0.0208" stop-color="#ff9191"/><stop offset="0.0278" stop-color="#ffc9c9"/><stop offset="0.0312" stop-color="#ffe1e1"/><stop offset="0.0451" stop-color="#ffd5d5"/><stop offset="0.0521" stop-color="#ffcdcd"/><stop offset="0.066" stop-color="#ffa5a5"/><stop offset="0.0729" stop-color="#ff9191"/><stop offset="0.0938" stop-color="#ffd9d9"/><stop offset="0.1076" stop-color="#fff9f9"/><stop offset="0.1111" stop-color="#fdfdff"/><stop offset="0.1146" stop-color="#f9f9ff"/><stop offset="0.1181" stop-color="#fff5f5"/><stop offset="0.1354" stop-color="#ff9595"/><stop offset="0.1424" stop-color="#ffe5e5"/><stop offset="0.1458" stop-color="#f5f5ff"/><stop offset="0.1562" stop-color="#8181ff"/><stop offset="0.1736" stop-color="#f9f9ff"/><stop offset="0.1771" stop-color="#ffeded"/><stop offset="0.1875" stop-color="#fffdfd"/><stop offset="0.1979" stop-color="#f1f1ff"/><stop offset="0.2118" stop-color="#f5f5ff"/><stop offset="0.2257" stop-color="#fdfdff"/><stop offset="0.2431" stop-color="#fdfdff"/><stop offset="0.2604" stop-color="#f1f1ff"/><stop offset="0.2743" stop-color="#fdfdff"/><stop offset="0.2847" stop-color="#fdfdff"/><stop offset="0.3021" stop-color="#ededff"/><stop offset="0.316" stop-color="#e9e9ff"/><stop offset="0.3229" stop-color="#e9e9ff"/><stop offset="0.3299" stop-color="#ddddff"/><stop offset="0.3438" stop-color="#cdcdff"/><stop offset="0.3646" stop-color="#e5e5ff"/><stop offset="0.3924" stop-color="#d9d9ff"/><stop offset="0.4062" stop-color="#d5d5ff"/><stop offset="0.4271" stop-color="#d5d5ff"/><stop offset="0.4479" stop-color="#e9e9ff"/><stop offset="0.4896" stop-color="#ddddff"/><stop offset="0.5347" stop-color="#e9e9ff"/><stop offset="0.5556" stop-color="#e9e9ff"/><stop offset="0.5625" stop-color="#e5e5ff"/><stop offset="0.5833" stop-color="#e1e1ff"/><stop offset="0.6042" stop-color="#e1e1ff"/><stop offset="0.6111" stop-color="#e5e5ff"/><stop offset="0.6944" stop-color="#f9f9ff"/><stop offset="0.7222" stop-color="#fdfdff"/><stop offset="0.7812" stop-color="#fdfdff"/><stop offset="0.8021" stop-color="#ededff"/><stop offset="0.8264" stop-color="#f9f9ff"/><stop offset="0.8542" stop-color="#fdfdff"/><stop offset="1" stop-color="#fdfdff"/></linearGradient><linearGradient id="gv15" x1="0" y1="0" x2="0" y2="1"><stop offset="0" stop-color="#ff4545"/><stop offset="0.0104" stop-color="#ff4545"/><stop offset="0.0243" stop-color="#ffadad"/><stop offset="0.0312" stop-color="#ffe5e5"/><stop offset="0.0486" stop-color="#ffd1d1"/><stop offset="0.0521" stop-color="#ffd1d1"/><stop offset="0.066" stop-color="#ffa5a5"/><stop offset="0.0694" stop-color="#ff9d9d"/><stop offset="0.0729" stop-color="#ff9191"/><stop offset="0.0938" stop-color="#ffd9d9"/><stop offset="0.1076" stop-color="#fff9f9"/><stop offset="0.1111" stop-color="#fdfdff"/><stop offset="0.1146" stop-color="#f9f9ff"/><stop offset="0.1181" stop-color="#fff5f5"/><stop offset="0.1319" stop-color="#ffa9a9"/><stop offset="0.1354" stop-color="#ff9999"/><stop offset="0.1389" stop-color="#ffbdbd"/><stop offset="0.1424" stop-color="#ffe5e5"/><stop offset="0.1458" stop-color="#f5f5ff"/><stop offset="0.1562" stop-color="#8181ff"/><stop offset="0.1736" stop-color="#f9f9ff"/><stop offset="0.1771" stop-color="#ffeded"/><stop offset="0.1875" stop-color="#fffdfd"/><stop offset="0.1979" stop-color="#f1f1ff"/><stop offset="0.2118" stop-color="#f5f5ff"/><stop offset="0.2257" stop-color="#fdfdff"/><stop offset="0.2431" stop-color="#fdfdff"/><stop offset="0.2604" stop-color="#f1f1ff"/><stop offset="0.2743" stop-color="#fdfdff"/><stop offset="0.2847" stop-color="#fdfdff"/><stop offset="0.309" stop-color="#e9e9ff"/><stop offset="0.3229" stop-color="#e9e9ff"/><stop offset="0.3299" stop-color="#ddddff"/><stop offset="0.3438" stop-color="#cdcdff"/><stop offset="0.3646" stop-color="#e5e5ff"/><stop offset="0.3924" stop-color="#d9d9ff"/><stop offset="0.4062" stop-color="#d5d5ff"/><stop offset="0.4271" stop-color="#d5d5ff"/><stop offset="0.4479" stop-color="#e9e9ff"/><stop offset="0.4896" stop-color="#ddddff"/><stop offset="0.5347" stop-color="#e9e9ff"/><stop offset="0.5556" stop-color="#e9e9ff"/><stop offset="0.5625" stop-color="#e5e5ff"/><stop offset="0.5833" stop-color="#e1e1ff"/><stop offset="0.6042" stop-color="#e1e1ff"/><stop offset="0.6111" stop-color="#e5e5ff"/><stop offset="0.6944" stop-color="#f9f9ff"/><stop offset="0.7222" stop-color="#fdfdff"/><stop offset="0.7812" stop-color="#fdfdff"/><stop offset="0.8021" stop-color="#ededff"/><stop offset="0.8264" stop-color="#f9f9ff"/><stop offset="0.8542" stop-color="#fdfdff"/><stop offset="1" stop-color="#fdfdff"/></linearGradient><linearGradient id="gv16" x1="0" y1="0" x2="0" y2="1"><stop offset="0" stop-color="#ff4545"/><stop offset="0.0104" stop-color="#ff4545"/><stop offset="0.0312" stop-color="#ffe5e5"/><stop offset="0.0521" stop-color="#ffd1d1"/><stop offset="0.0694" stop-color="#ff9d9d"/><stop offset="0.0729" stop-color="#ff9191"/><stop offset="0.0938" stop-color="#ffdddd"/><stop offset="0.1007" stop-color="#ffe9e9"/><stop offset="0.1076" stop-color="#fff9f9"/><stop offset="0.1111" stop-color="#fdfdff"/><stop offset="0.1146" stop-color="#f9f9ff"/><stop offset="0.1181" stop-color="#fff5f5"/><stop offset="0.1319" stop-color="#ffa9a9"/><stop offset="0.1354" stop-color="#ff9999"/><stop offset="0.1389" stop-color="#ffbdbd"/><stop offset="0.1424" stop-color="#ffe5e5"/><stop offset="0.1458" stop-color="#f5f5ff"/><stop offset="0.1562" stop-color="#8585ff"/><stop offset="0.1667" stop-color="#c9c9ff"/><stop offset="0.1736" stop-color="#f9f9ff"/><stop offset="0.1771" stop-color="#ffeded"/><stop offset="0.1875" stop-color="#fffdfd"/><stop offset="0.1979" stop-color="#f1f1ff"/><stop offset="0.2292" stop-color="#fdfdff"/><stop offset="0.2431" stop-color="#fdfdff"/><stop offset="0.2604" stop-color="#f1f1ff"/><stop offset="0.2743" stop-color="#fdfdff"/><stop offset="0.2847" stop-color="#fdfdff"/><stop offset="0.2986" stop-color="#f1f1ff"/><stop offset="0.3125" stop-color="#e9e9ff"/><stop offset="0.3229" stop-color="#e9e9ff"/><stop offset="0.3368" stop-color="#d5d5ff"/><stop offset="0.3438" stop-color="#cdcdff"/><stop offset="0.3646" stop-color="#e5e5ff"/><stop offset="0.3924" stop-color="#d9d9ff"/><stop offset="0.4062" stop-color="#d5d5ff"/><stop offset="0.4271" stop-color="#d5d5ff"/><stop offset="0.4479" stop-color="#e9e9ff"/><stop offset="0.4896" stop-color="#ddddff"/><stop offset="0.5347" stop-color="#e9e9ff"/><stop offset="0.5556" stop-color="#e9e9ff"/><stop offset="0.5625" stop-color="#e5e5ff"/><stop offset="0.5833" stop-color="#e1e1ff"/><stop offset="0.6042" stop-color="#e1e1ff"/><stop offset="0.6111" stop-color="#e5e5ff"/><stop offset="0.6944" stop-color="#f9f9ff"/><stop offset="0.7222" stop-color="#fdfdff"/><stop offset="0.7812" stop-color="#fdfdff"/><stop offset="0.8021" stop-color="#ededff"/><stop offset="0.8264" stop-color="#f9f9ff"/><stop offset="0.8542" stop-color="#fdfdff"/><stop offset="1" stop-color="#fdfdff"/></linearGradient><linearGradient id="gv17" x1="0" y1="0" x2="0" y2="1"><stop offset="0" stop-color="#ff5959"/><stop offset="0.0104" stop-color="#ff5959"/><stop offset="0.0312" stop-color="#ffe9e9"/><stop offset="0.0451" stop-color="#ffdddd"/><stop offset="0.0521" stop-color="#ffd5d5"/><stop offset="0.0694" stop-color="#ffa5a5"/><stop offset="0.0729" stop-color="#ff9999"/><stop offset="0.0938" stop-color="#ffdddd"/><stop offset="0.1007" stop-color="#ffe9e9"/><stop offset="0.1076" stop-color="#fff9f9"/><stop offset="0.1111" stop-color="#fffdfd"/><stop offset="0.1146" stop-color="#f9f9ff"/><stop offset="0.1181" stop-color="#fff5f5"/><stop offset="0.1319" stop-color="#ffb1b1"/><stop offset="0.1354" stop-color="#ffa1a1"/><stop offset="0.1389" stop-color="#ffc1c1"/><stop offset="0.1424" stop-color="#ffe5e5"/><stop offset="0.1458" stop-color="#f5f5ff"/><stop offset="0.1562" stop-color="#8989ff"/><stop offset="0.1736" stop-color="#fdfdff"/><stop offset="0.1771" stop-color="#ffeded"/><stop offset="0.1875" stop-color="#fffdfd"/><stop offset="0.191" stop-color="#fdfdff"/><stop offset="0.1944" stop-color="#f5f5ff"/><stop offset="0.2014" stop-color="#f1f1ff"/><stop offset="0.2153" stop-color="#f9f9ff"/><stop offset="0.2361" stop-color="#fdfdff"/><stop offset="0.2465" stop-color="#fdfdff"/><stop offset="0.2604" stop-color="#f5f5ff"/><stop offset="0.2639" stop-color="#f5f5ff"/><stop offset="0.2708" stop-color="#fdfdff"/><stop offset="0.2882" stop-color="#fdfdff"/><stop offset="0.3021" stop-color="#ededff"/><stop offset="0.3229" stop-color="#e9e9ff"/><stop offset="0.3368" stop-color="#d9d9ff"/><stop offset="0.3403" stop-color="#d1d1ff"/><stop offset="0.3438" stop-color="#cdcdff"/><stop offset="0.3646" stop-color="#e5e5ff"/><stop offset="0.3924" stop-color="#d9d9ff"/><stop offset="0.4062" stop-color="#d5d5ff"/><stop offset="0.4271" stop-color="#d5d5ff"/><stop offset="0.4479" stop-color="#e9e9ff"/><stop offset="0.4896" stop-color="#ddddff"/><stop offset="0.5347" stop-color="#e9e9ff"/><stop offset="0.5556" stop-color="#e9e9ff"/><stop offset="0.5625" stop-color="#e5e5ff"/><stop offset="0.5833" stop-color="#e1e1ff"/><stop offset="0.6042" stop-color="#e1e1ff"/><stop offset="0.6111" stop-color="#e5e5ff"/><stop offset="0.6944" stop-color="#f9f9ff"/><stop offset="0.7222" stop-color="#fdfdff"/><stop offset="0.7812" stop-color="#fdfdff"/><stop offset="0.8021" stop-color="#ededff"/><stop offset="0.8264" stop-color="#f9f9ff"/><stop offset="0.8542" stop-color="#fdfdff"/><stop offset="1" stop-color="#fdfdff"/></linearGradient><linearGradient id="gv18" x1="0" y1="0" x2="0" y2="1"><stop offset="0" stop-color="#ff6565"/><stop offset="0.0104" stop-color="#ff6565"/><stop offset="0.0312" stop-color="#fff1f1"/><stop offset="0.0486" stop-color="#ffdddd"/><stop offset="0.0521" stop-color="#ffdddd"/><stop offset="0.066" stop-color="#ffb5b5"/><stop offset="0.0694" stop-color="#ffadad"/><stop offset="0.0729" stop-color="#ffa1a1"/><stop offset="0.0938" stop-color="#ffdddd"/><stop offset="0.1076" stop-color="#fff5f5"/><stop offset="0.1111" stop-color="#fffdfd"/><stop offset="0.1146" stop-color="#f9f9ff"/><stop offset="0.1181" stop-color="#fff5f5"/><stop offset="0.1285" stop-color="#ffc5c5"/><stop offset="0.1319" stop-color="#ffb9b9"/><stop offset="0.1354" stop-color="#ffa9a9"/><stop offset="0.1424" stop-color="#ffe9e9"/><stop offset="0.1458" stop-color="#f5f5ff"/><stop offset="0.1562" stop-color="#9595ff"/><stop offset="0.1736" stop-color="#fdfdff"/><stop offset="0.1771" stop-color="#ffe9e9"/><stop offset="0.1875" stop-color="#fffdfd"/><stop offset="0.1944" stop-color="#f9f9ff"/><stop offset="0.1979" stop-color="#f1f1ff"/><stop offset="0.2118" stop-color="#f9f9ff"/><stop offset="0.2361" stop-color="#fdfdff"/><stop offset="0.2465" stop-color="#fdfdff"/><stop offset="0.2604" stop-color="#f5f5ff"/><stop offset="0.2743" stop-color="#fffdfd"/><stop offset="0.2778" stop-color="#fffdfd"/><stop offset="0.2812" stop-color="#fff9f9"/><stop offset="0.2882" stop-color="#fdfdff"/><stop offset="0.3056" stop-color="#ededff"/><stop offset="0.3194" stop-color="#ededff"/><stop offset="0.3438" stop-color="#d1d1ff"/><stop offset="0.3542" stop-color="#ddddff"/><stop offset="0.3576" stop-color="#ddddff"/><stop offset="0.3646" stop-color="#e5e5ff"/><stop offset="0.3924" stop-color="#d9d9ff"/><stop offset="0.4062" stop-color="#d5d5ff"/><stop offset="0.4271" stop-color="#d5d5ff"/><stop offset="0.4479" stop-color="#e9e9ff"/><stop offset="0.4896" stop-color="#ddddff"/><stop offset="0.5347" stop-color="#e9e9ff"/><stop offset="0.5556" stop-color="#e9e9ff"/><stop offset="0.5625" stop-color="#e5e5ff"/><stop offset="0.5833" stop-color="#e1e1ff"/><stop offset="0.6042" stop-color="#e1e1ff"/><stop offset="0.6111" stop-color="#e5e5ff"/><stop offset="0.6944" stop-color="#f9f9ff"/><stop offset="0.7222" stop-color="#fdfdff"/><stop offset="0.7812" stop-color="#fdfdff"/><stop offset="0.8021" stop-color="#ededff"/><stop offset="0.8264" stop-color="#f9f9ff"/><stop offset="0.8542" stop-color="#fdfdff"/><stop offset="1" stop-color="#fdfdff"/></linearGradient><linearGradient id="gv19" x1="0" y1="0" x2="0" y2="1"><stop offset="0" stop-color="#ff7979"/><stop offset="0.0104" stop-color="#ff7979"/><stop offset="0.0312" stop-color="#fff1f1"/><stop offset="0.0486" stop-color="#ffdddd"/><stop offset="0.0521" stop-color="#ffdddd"/><stop offset="0.066" stop-color="#ffb5b5"/><stop offset="0.0694" stop-color="#ffadad"/><stop offset="0.0729" stop-color="#ffa1a1"/><stop offset="0.0868" stop-color="#ffc9c9"/><stop offset="0.1042" stop-color="#fff1f1"/><stop offset="0.1111" stop-color="#fffdfd"/><stop offset="0.1146" stop-color="#f9f9ff"/><stop offset="0.1181" stop-color="#fff5f5"/><stop offset="0.1319" stop-color="#ffb5b5"/><stop offset="0.1354" stop-color="#ffa9a9"/><stop offset="0.1424" stop-color="#ffe9e9"/><stop offset="0.1458" stop-color="#f5f5ff"/><stop offset="0.1562" stop-color="#9595ff"/><stop offset="0.1701" stop-color="#e9e9ff"/><stop offset="0.1736" stop-color="#fdfdff"/><stop offset="0.1771" stop-color="#ffe9e9"/><stop offset="0.1875" stop-color="#fffdfd"/><stop offset="0.1944" stop-color="#f9f9ff"/><stop offset="0.1979" stop-color="#f1f1ff"/><stop offset="0.2118" stop-color="#f9f9ff"/><stop offset="0.2361" stop-color="#fdfdff"/><stop offset="0.2465" stop-color="#fdfdff"/><stop offset="0.2604" stop-color="#f5f5ff"/><stop offset="0.2743" stop-color="#fffdfd"/><stop offset="0.2778" stop-color="#fffdfd"/><stop offset="0.2812" stop-color="#fff9f9"/><stop offset="0.2882" stop-color="#fdfdff"/><stop offset="0.3021" stop-color="#f1f1ff"/><stop offset="0.316" stop-color="#ededff"/><stop offset="0.3229" stop-color="#ededff"/><stop offset="0.3299" stop-color="#e1e1ff"/><stop offset="0.3438" stop-color="#d1d1ff"/><stop offset="0.3542" stop-color="#ddddff"/><stop offset="0.3576" stop-color="#ddddff"/><stop offset="0.3646" stop-color="#e5e5ff"/><stop offset="0.3924" stop-color="#d9d9ff"/><stop offset="0.4062" stop-color="#d5d5ff"/><stop offset="0.4271" stop-color="#d5d5ff"/><stop offset="0.4479" stop-color="#e9e9ff"/><stop offset="0.4896" stop-color="#ddddff"/><stop offset="0.5347" stop-color="#e9e9ff"/><stop offset="0.5556" stop-color="#e9e9ff"/><stop offset="0.5625" stop-color="#e5e5ff"/><stop offset="0.5833" stop-color="#e1e1ff"/><stop offset="0.6042" stop-color="#e1e1ff"/><stop offset="0.6111" stop-color="#e5e5ff"/><stop offset="0.6944" stop-color="#f9f9ff"/><stop offset="0.7222" stop-color="#fdfdff"/><stop offset="0.7812" stop-color="#fdfdff"/><stop offset="0.8021" stop-color="#ededff"/><stop offset="0.8264" stop-color="#f9f9ff"/><stop offset="0.8542" stop-color="#fdfdff"/><stop offset="1" stop-color="#fdfdff"/></linearGradient><linearGradient id="gv20" x1="0" y1="0" x2="0" y2="1"><stop offset="0" stop-color="#ff8d8d"/><stop offset="0.0104" stop-color="#ff8d8d"/><stop offset="0.0243" stop-color="#ffcdcd"/><stop offset="0.0312" stop-color="#fff1f1"/><stop offset="0.0486" stop-color="#ffdddd"/><stop offset="0.0521" stop-color="#ffdddd"/><stop offset="0.0729" stop-color="#ffa1a1"/><stop offset="0.0903" stop-color="#ffd1d1"/><stop offset="0.1042" stop-color="#fff1f1"/><stop offset="0.1111" stop-color="#fffdfd"/><stop offset="0.1146" stop-color="#f9f9ff"/><stop offset="0.1181" stop-color="#fff5f5"/><stop offset="0.1319" stop-color="#ffb5b5"/><stop offset="0.1354" stop-color="#ffa9a9"/><stop offset="0.1424" stop-color="#ffe9e9"/><stop offset="0.1458" stop-color="#f5f5ff"/><stop offset="0.1562" stop-color="#9595ff"/><stop offset="0.1597" stop-color="#adadff"/><stop offset="0.1736" stop-color="#fdfdff"/><stop offset="0.1771" stop-color="#ffe9e9"/><stop offset="0.1875" stop-color="#fffdfd"/><stop offset="0.1944" stop-color="#f9f9ff"/><stop offset="0.1979" stop-color="#f1f1ff"/><stop offset="0.2118" stop-color="#f9f9ff"/><stop offset="0.2361" stop-color="#fdfdff"/><stop offset="0.2465" stop-color="#fdfdff"/><stop offset="0.2604" stop-color="#f5f5ff"/><stop offset="0.2743" stop-color="#fffdfd"/><stop offset="0.2778" stop-color="#fffdfd"/><stop offset="0.2812" stop-color="#fff9f9"/><stop offset="0.2882" stop-color="#fdfdff"/><stop offset="0.309" stop-color="#ededff"/><stop offset="0.3229" stop-color="#ededff"/><stop offset="0.3438" stop-color="#d1d1ff"/><stop offset="0.3576" stop-color="#e1e1ff"/><stop offset="0.3681" stop-color="#e5e5ff"/><stop offset="0.3889" stop-color="#d9d9ff"/><stop offset="0.4097" stop-color="#d5d5ff"/><stop offset="0.4271" stop-color="#d5d5ff"/><stop offset="0.4479" stop-color="#e9e9ff"/><stop offset="0.4896" stop-color="#ddddff"/><stop offset="0.5347" stop-color="#e9e9ff"/><stop offset="0.5556" stop-color="#e9e9ff"/><stop offset="0.5625" stop-color="#e5e5ff"/><stop offset="0.5833" stop-color="#e1e1ff"/><stop offset="0.6042" stop-color="#e1e1ff"/><stop offset="0.6111" stop-color="#e5e5ff"/><stop offset="0.6944" stop-color="#f9f9ff"/><stop offset="0.7222" stop-color="#fdfdff"/><stop offset="0.7812" stop-color="#fdfdff"/><stop offset="0.8021" stop-color="#ededff"/><stop offset="0.8264" stop-color="#f9f9ff"/><stop offset="0.8542" stop-color="#fdfdff"/><stop offset="1" stop-color="#fdfdff"/></linearGradient><linearGradient id="gv21" x1="0" y1="0" x2="0" y2="1"><stop offset="0" stop-color="#ff9999"/><stop offset="0.0104" stop-color="#ff9999"/><stop offset="0.0312" stop-color="#fff1f1"/><stop offset="0.0486" stop-color="#ffdddd"/><stop offset="0.0521" stop-color="#ffdddd"/><stop offset="0.0729" stop-color="#ffa1a1"/><stop offset="0.0903" stop-color="#ffd1d1"/><stop offset="0.1042" stop-color="#fff1f1"/><stop offset="0.1111" stop-color="#fffdfd"/><stop offset="0.1146" stop-color="#f9f9ff"/><stop offset="0.1181" stop-color="#fff5f5"/><stop offset="0.1354" stop-color="#ffa5a5"/><stop offset="0.1424" stop-color="#ffe5e5"/><stop offset="0.1458" stop-color="#f9f9ff"/><stop offset="0.1562" stop-color="#9999ff"/><stop offset="0.1736" stop-color="#fdfdff"/><stop offset="0.1771" stop-color="#ffe9e9"/><stop offset="0.1875" stop-color="#fffdfd"/><stop offset="0.1944" stop-color="#f9f9ff"/><stop offset="0.1979" stop-color="#f1f1ff"/><stop offset="0.2118" stop-color="#f9f9ff"/><stop offset="0.2361" stop-color="#fdfdff"/><stop offset="0.2465" stop-color="#fdfdff"/><stop offset="0.2604" stop-color="#f5f5ff"/><stop offset="0.2743" stop-color="#fffdfd"/><stop offset="0.2778" stop-color="#fffdfd"/><stop offset="0.2812" stop-color="#fff9f9"/><stop offset="0.2882" stop-color="#fdfdff"/><stop offset="0.309" stop-color="#ededff"/><stop offset="0.3229" stop-color="#ededff"/><stop offset="0.3403" stop-color="#d9d9ff"/><stop offset="0.3438" stop-color="#d1d1ff"/><stop offset="0.3576" stop-color="#e1e1ff"/><stop offset="0.3681" stop-color="#e5e5ff"/><stop offset="0.3889" stop-color="#d9d9ff"/><stop offset="0.4097" stop-color="#d5d5ff"/><stop offset="0.4271" stop-color="#d5d5ff"/><stop offset="0.4479" stop-color="#e9e9ff"/><stop offset="0.4896" stop-color="#ddddff"/><stop offset="0.5347" stop-color="#e9e9ff"/><stop offset="0.5556" stop-color="#e9e9ff"/><stop offset="0.5625" stop-color="#e5e5ff"/><stop offset="0.5833" stop-color="#e1e1ff"/><stop offset="0.6042" stop-color="#e1e1ff"/><stop offset="0.6111" stop-color="#e5e5ff"/><stop offset="0.6944" stop-color="#f9f9ff"/><stop offset="0.7222" stop-color="#fdfdff"/><stop offset="0.7812" stop-color="#fdfdff"/><stop offset="0.8021" stop-color="#ededff"/><stop offset="0.8264" stop-color="#f9f9ff"/><stop offset="0.8542" stop-color="#fdfdff"/><stop offset="1" stop-color="#fdfdff"/></linearGradient><linearGradient id="gv22" x1="0" y1="0" x2="0" y2="1"><stop offset="0" stop-color="#ff9595"/><stop offset="0.0104" stop-color="#ff9595"/><stop offset="0.0312" stop-color="#fff1f1"/><stop offset="0.0486" stop-color="#ffdddd"/><stop offset="0.0521" stop-color="#ffdddd"/><stop offset="0.0729" stop-color="#ffa1a1"/><stop offset="0.0938" stop-color="#ffd9d9"/><stop offset="0.1042" stop-color="#fff1f1"/><stop offset="0.1111" stop-color="#fffdfd"/><stop offset="0.1146" stop-color="#f9f9ff"/><stop offset="0.1181" stop-color="#fff5f5"/><stop offset="0.1354" stop-color="#ffa5a5"/><stop offset="0.1424" stop-color="#ffe5e5"/><stop offset="0.1458" stop-color="#f9f9ff"/><stop offset="0.1562" stop-color="#9999ff"/><stop offset="0.1736" stop-color="#fdfdff"/><stop offset="0.1771" stop-color="#ffe9e9"/><stop offset="0.1875" stop-color="#fffdfd"/><stop offset="0.1944" stop-color="#f9f9ff"/><stop offset="0.1979" stop-color="#f1f1ff"/><stop offset="0.2118" stop-color="#f9f9ff"/><stop offset="0.2361" stop-color="#fdfdff"/><stop offset="0.2465" stop-color="#fdfdff"/><stop offset="0.2604" stop-color="#f5f5ff"/><stop offset="0.2743" stop-color="#fffdfd"/><stop offset="0.2778" stop-color="#fffdfd"/><stop offset="0.2812" stop-color="#fff9f9"/><stop offset="0.2882" stop-color="#fdfdff"/><stop offset="0.2986" stop-color="#f5f5ff"/><stop offset="0.3125" stop-color="#ededff"/><stop offset="0.3229" stop-color="#ededff"/><stop offset="0.3438" stop-color="#d5d5ff"/><stop offset="0.3507" stop-color="#d9d9ff"/><stop offset="0.3646" stop-color="#e5e5ff"/><stop offset="0.3924" stop-color="#d9d9ff"/><stop offset="0.4062" stop-color="#d5d5ff"/><stop offset="0.4271" stop-color="#d5d5ff"/><stop offset="0.4479" stop-color="#e9e9ff"/><stop offset="0.4896" stop-color="#ddddff"/><stop offset="0.5347" stop-color="#e9e9ff"/><stop offset="0.5556" stop-color="#e9e9ff"/><stop offset="0.5625" stop-color="#e5e5ff"/><stop offset="0.5833" stop-color="#e1e1ff"/><stop offset="0.6042" stop-color="#e1e1ff"/><stop offset="0.6111" stop-color="#e5e5ff"/><stop offset="0.6944" stop-color="#f9f9ff"/><stop offset="0.7222" stop-color="#fdfdff"/><stop offset="0.7812" stop-color="#fdfdff"/><stop offset="0.8021" stop-color="#ededff"/><stop offset="0.8264" stop-color="#f9f9ff"/><stop offset="0.8542" stop-color="#fdfdff"/><stop offset="1" stop-color="#fdfdff"/></linearGradient><linearGradient id="gv23" x1="0" y1="0" x2="0" y2="1"><stop offset="0" stop-color="#ff5555"/><stop offset="0.0104" stop-color="#ff5555"/><stop offset="0.0312" stop-color="#fff1f1"/><stop offset="0.0486" stop-color="#ffdddd"/><stop offset="0.0521" stop-color="#ffdddd"/><stop offset="0.0729" stop-color="#ffa1a1"/><stop offset="0.0938" stop-color="#ffd9d9"/><stop offset="0.1111" stop-color="#fffdfd"/><stop offset="0.1146" stop-color="#f9f9ff"/><stop offset="0.1181" stop-color="#fff5f5"/><stop offset="0.1354" stop-color="#ffa5a5"/><stop offset="0.1424" stop-color="#ffe5e5"/><stop offset="0.1458" stop-color="#f9f9ff"/><stop offset="0.1562" stop-color="#9999ff"/><stop offset="0.1736" stop-color="#fffdfd"/><stop offset="0.1771" stop-color="#ffe9e9"/><stop offset="0.1875" stop-color="#fffdfd"/><stop offset="0.1944" stop-color="#f9f9ff"/><stop offset="0.1979" stop-color="#f1f1ff"/><stop offset="0.2118" stop-color="#f9f9ff"/><stop offset="0.2361" stop-color="#fdfdff"/><stop offset="0.2465" stop-color="#fdfdff"/><stop offset="0.2604" stop-color="#f5f5ff"/><stop offset="0.2743" stop-color="#fffdfd"/><stop offset="0.2778" stop-color="#fffdfd"/><stop offset="0.2812" stop-color="#fff9f9"/><stop offset="0.2882" stop-color="#fdfdff"/><stop offset="0.2986" stop-color="#f5f5ff"/><stop offset="0.3125" stop-color="#ededff"/><stop offset="0.3229" stop-color="#ededff"/><stop offset="0.3438" stop-color="#d5d5ff"/><stop offset="0.3507" stop-color="#d9d9ff"/><stop offset="0.3646" stop-color="#e5e5ff"/><stop offset="0.3924" stop-color="#d9d9ff"/><stop offset="0.4062" stop-color="#d5d5ff"/><stop offset="0.4271" stop-color="#d5d5ff"/><stop offset="0.4479" stop-color="#e9e9ff"/><stop offset="0.4896" stop-color="#ddddff"/><stop offset="0.5347" stop-color="#e9e9ff"/><stop offset="0.5556" stop-color="#e9e9ff"/><stop offset="0.5625" stop-color="#e5e5ff"/><stop offset="0.5833" stop-color="#e1e1ff"/><stop offset="0.6042" stop-color="#e1e1ff"/><stop offset="0.6111" stop-color="#e5e5ff"/><stop offset="0.6944" stop-color="#f9f9ff"/><stop offset="0.7222" stop-color="#fdfdff"/><stop offset="0.7812" stop-color="#fdfdff"/><stop offset="0.8021" stop-color="#ededff"/><stop offset="0.8264" stop-color="#f9f9ff"/><stop offset="0.8542" stop-color="#fdfdff"/><stop offset="1" stop-color="#fdfdff"/></linearGradient><linearGradient id="gv24" x1="0" y1="0" x2="0" y2="1"><stop offset="0" stop-color="#ff6565"/><stop offset="0.0104" stop-color="#ff6565"/><stop offset="0.0312" stop-color="#fff1f1"/><stop offset="0.0486" stop-color="#ffdddd"/><stop offset="0.0521" stop-color="#ffdddd"/><stop offset="0.0729" stop-color="#ffa1a1"/><stop offset="0.0868" stop-color="#ffc5c5"/><stop offset="0.0938" stop-color="#ffd9d9"/><stop offset="0.1111" stop-color="#fffdfd"/><stop offset="0.1146" stop-color="#f9f9ff"/><stop offset="0.1181" stop-color="#fff5f5"/><stop offset="0.1354" stop-color="#ffa5a5"/><stop offset="0.1424" stop-color="#ffe5e5"/><stop offset="0.1458" stop-color="#f9f9ff"/><stop offset="0.1562" stop-color="#9999ff"/><stop offset="0.1667" stop-color="#d5d5ff"/><stop offset="0.1701" stop-color="#ededff"/><stop offset="0.1736" stop-color="#fffdfd"/><stop offset="0.1771" stop-color="#ffe9e9"/><stop offset="0.1875" stop-color="#fffdfd"/><stop offset="0.1944" stop-color="#f9f9ff"/><stop offset="0.1979" stop-color="#f1f1ff"/><stop offset="0.2118" stop-color="#f9f9ff"/><stop offset="0.2361" stop-color="#fdfdff"/><stop offset="0.2465" stop-color="#fdfdff"/><stop offset="0.2604" stop-color="#f5f5ff"/><stop offset="0.2743" stop-color="#fffdfd"/><stop offset="0.2778" stop-color="#fffdfd"/><stop offset="0.2812" stop-color="#fff9f9"/><stop offset="0.2882" stop-color="#fdfdff"/><stop offset="0.2986" stop-color="#f5f5ff"/><stop offset="0.3125" stop-color="#ededff"/><stop offset="0.3229" stop-color="#ededff"/><stop offset="0.3438" stop-color="#d5d5ff"/><stop offset="0.3646" stop-color="#e5e5ff"/><stop offset="0.3924" stop-color="#d9d9ff"/><stop offset="0.4062" stop-color="#d5d5ff"/><stop offset="0.4271" stop-color="#d5d5ff"/><stop offset="0.4479" stop-color="#e9e9ff"/><stop offset="0.4896" stop-color="#ddddff"/><stop offset="0.5347" stop-color="#e9e9ff"/><stop offset="0.5556" stop-color="#e9e9ff"/><stop offset="0.5625" stop-color="#e5e5ff"/><stop offset="0.5833" stop-color="#e1e1ff"/><stop offset="0.6042" stop-color="#e1e1ff"/><stop offset="0.6111" stop-color="#e5e5ff"/><stop offset="0.6944" stop-color="#f9f9ff"/><stop offset="0.7222" stop-color="#fdfdff"/><stop offset="0.7812" stop-color="#fdfdff"/><stop offset="0.8021" stop-color="#ededff"/><stop offset="0.8264" stop-color="#f9f9ff"/><stop offset="0.8542" stop-color="#fdfdff"/><stop offset="1" stop-color="#fdfdff"/></linearGradient><linearGradient id="gv25" x1="0" y1="0" x2="0" y2="1"><stop offset="0" stop-color="#ffc1c1"/><stop offset="0.0104" stop-color="#ffc1c1"/><stop offset="0.0312" stop-color="#fff1f1"/><stop offset="0.0486" stop-color="#ffdddd"/><stop offset="0.0521" stop-color="#ffdddd"/><stop offset="0.0729" stop-color="#ff9d9d"/><stop offset="0.0938" stop-color="#ffd9d9"/><stop offset="0.1111" stop-color="#fffdfd"/><stop offset="0.1146" stop-color="#f9f9ff"/><stop offset="0.1181" stop-color="#fff5f5"/><stop offset="0.1354" stop-color="#ffa5a5"/><stop offset="0.1424" stop-color="#ffe5e5"/><stop offset="0.1458" stop-color="#f9f9ff"/><stop offset="0.1528" stop-color="#b9b9ff"/><stop offset="0.1562" stop-color="#9d9dff"/><stop offset="0.1701" stop-color="#ededff"/><stop offset="0.1736" stop-color="#fffdfd"/><stop offset="0.1771" stop-color="#ffe9e9"/><stop offset="0.1875" stop-color="#fffdfd"/><stop offset="0.1944" stop-color="#f9f9ff"/><stop offset="0.1979" stop-color="#f1f1ff"/><stop offset="0.2118" stop-color="#f9f9ff"/><stop offset="0.2361" stop-color="#fdfdff"/><stop offset="0.2465" stop-color="#fdfdff"/><stop offset="0.2604" stop-color="#f5f5ff"/><stop offset="0.2743" stop-color="#fffdfd"/><stop offset="0.2778" stop-color="#fffdfd"/><stop offset="0.2812" stop-color="#fff9f9"/><stop offset="0.2882" stop-color="#fdfdff"/><stop offset="0.2986" stop-color="#f5f5ff"/><stop offset="0.3056" stop-color="#f1f1ff"/><stop offset="0.3229" stop-color="#ededff"/><stop offset="0.3438" stop-color="#d5d5ff"/><stop offset="0.3646" stop-color="#e5e5ff"/><stop offset="0.3924" stop-color="#d9d9ff"/><stop offset="0.4062" stop-color="#d5d5ff"/><stop offset="0.4271" stop-color="#d5d5ff"/><stop offset="0.4479" stop-color="#e9e9ff"/><stop offset="0.4896" stop-color="#ddddff"/><stop offset="0.5347" stop-color="#e9e9ff"/><stop offset="0.5556" stop-color="#e9e9ff"/><stop offset="0.5625" stop-color="#e5e5ff"/><stop offset="0.5833" stop-color="#e1e1ff"/><stop offset="0.6042" stop-color="#e1e1ff"/><stop offset="0.6111" stop-color="#e5e5ff"/><stop offset="0.6944" stop-color="#f9f9ff"/><stop offset="0.7222" stop-color="#fdfdff"/><stop offset="0.7812" stop-color="#fdfdff"/><stop offset="0.8021" stop-color="#ededff"/><stop offset="0.8264" stop-color="#f9f9ff"/><stop offset="0.8542" stop-color="#fdfdff"/><stop offset="1" stop-color="#fdfdff"/></linearGradient><linearGradient id="gv26" x1="0" y1="0" x2="0" y2="1"><stop offset="0" stop-color="#ffb1b1"/><stop offset="0.0104" stop-color="#ffb1b1"/><stop offset="0.0174" stop-color="#ffc5c5"/><stop offset="0.0312" stop-color="#fff1f1"/><stop offset="0.0486" stop-color="#ffdddd"/><stop offset="0.0521" stop-color="#ffdddd"/><stop offset="0.066" stop-color="#ffb1b1"/><stop offset="0.0694" stop-color="#ffa9a9"/><stop offset="0.0729" stop-color="#ff9d9d"/><stop offset="0.0938" stop-color="#ffd9d9"/><stop offset="0.1111" stop-color="#fffdfd"/><stop offset="0.1146" stop-color="#f9f9ff"/><stop offset="0.1181" stop-color="#fff5f5"/><stop offset="0.1354" stop-color="#ffa5a5"/><stop offset="0.1424" stop-color="#ffe5e5"/><stop offset="0.1458" stop-color="#f9f9ff"/><stop offset="0.1562" stop-color="#9d9dff"/><stop offset="0.1701" stop-color="#ededff"/><stop offset="0.1736" stop-color="#fffdfd"/><stop offset="0.1771" stop-color="#ffe9e9"/><stop offset="0.1875" stop-color="#fffdfd"/><stop offset="0.1944" stop-color="#f9f9ff"/><stop offset="0.1979" stop-color="#f1f1ff"/><stop offset="0.2118" stop-color="#f9f9ff"/><stop offset="0.2361" stop-color="#fdfdff"/><stop offset="0.2465" stop-color="#fdfdff"/><stop offset="0.2604" stop-color="#f5f5ff"/><stop offset="0.2743" stop-color="#fffdfd"/><stop offset="0.2778" stop-color="#fffdfd"/><stop offset="0.2812" stop-color="#fff9f9"/><stop offset="0.2882" stop-color="#fdfdff"/><stop offset="0.2986" stop-color="#f5f5ff"/><stop offset="0.3056" stop-color="#f1f1ff"/><stop offset="0.3229" stop-color="#ededff"/><stop offset="0.3438" stop-color="#d5d5ff"/><stop offset="0.3646" stop-color="#e5e5ff"/><stop offset="0.3924" stop-color="#d9d9ff"/><stop offset="0.4062" stop-color="#d5d5ff"/><stop offset="0.4271" stop-color="#d5d5ff"/><stop offset="0.4479" stop-color="#e9e9ff"/><stop offset="0.4896" stop-color="#ddddff"/><stop offset="0.5347" stop-color="#e9e9ff"/><stop offset="0.5556" stop-color="#e9e9ff"/><stop offset="0.5625" stop-color="#e5e5ff"/><stop offset="0.5833" stop-color="#e1e1ff"/><stop offset="0.6042" stop-color="#e1e1ff"/><stop offset="0.6111" stop-color="#e5e5ff"/><stop offset="0.6944" stop-color="#f9f9ff"/><stop offset="0.7222" stop-color="#fdfdff"/><stop offset="0.7812" stop-color="#fdfdff"/><stop offset="0.8021" stop-color="#ededff"/><stop offset="0.8264" stop-color="#f9f9ff"/><stop offset="0.8542" stop-color="#fdfdff"/><stop offset="1" stop-color="#fdfdff"/></linearGradient><linearGradient id="gv27" x1="0" y1="0" x2="0" y2="1"><stop offset="0" stop-color="#ff7171"/><stop offset="0.0104" stop-color="#ff7171"/><stop offset="0.0312" stop-color="#fff1f1"/><stop offset="0.0486" stop-color="#ffdddd"/><stop offset="0.0521" stop-color="#ffdddd"/><stop offset="0.066" stop-color="#ffb1b1"/><stop offset="0.0694" stop-color="#ffa9a9"/><stop offset="0.0729" stop-color="#ff9d9d"/><stop offset="0.0938" stop-color="#ffd9d9"/><stop offset="0.1111" stop-color="#fffdfd"/><stop offset="0.1146" stop-color="#f9f9ff"/><stop offset="0.1181" stop-color="#fff5f5"/><stop offset="0.1354" stop-color="#ffa5a5"/><stop offset="0.1424" stop-color="#ffe5e5"/><stop offset="0.1458" stop-color="#f9f9ff"/><stop offset="0.1493" stop-color="#ddddff"/><stop offset="0.1562" stop-color="#9d9dff"/><stop offset="0.1701" stop-color="#ededff"/><stop offset="0.1736" stop-color="#fffdfd"/><stop offset="0.1771" stop-color="#ffe9e9"/><stop offset="0.1875" stop-color="#fffdfd"/><stop offset="0.1944" stop-color="#f9f9ff"/><stop offset="0.1979" stop-color="#f1f1ff"/><stop offset="0.2118" stop-color="#f9f9ff"/><stop offset="0.2361" stop-color="#fdfdff"/><stop offset="0.2465" stop-color="#fdfdff"/><stop offset="0.2604" stop-color="#f5f5ff"/><stop offset="0.2743" stop-color="#fffdfd"/><stop offset="0.2778" stop-color="#fffdfd"/><stop offset="0.2812" stop-color="#fff9f9"/><stop offset="0.2882" stop-color="#fdfdff"/><stop offset="0.2951" stop-color="#f9f9ff"/><stop offset="0.3021" stop-color="#f1f1ff"/><stop offset="0.3229" stop-color="#ededff"/><stop offset="0.3438" stop-color="#d5d5ff"/><stop offset="0.3507" stop-color="#ddddff"/><stop offset="0.3681" stop-color="#e5e5ff"/><stop offset="0.3889" stop-color="#d9d9ff"/><stop offset="0.4097" stop-color="#d5d5ff"/><stop offset="0.4271" stop-color="#d5d5ff"/><stop offset="0.4479" stop-color="#e9e9ff"/><stop offset="0.4896" stop-color="#ddddff"/><stop offset="0.5347" stop-color="#e9e9ff"/><stop offset="0.5556" stop-color="#e9e9ff"/><stop offset="0.5625" stop-color="#e5e5ff"/><stop offset="0.5833" stop-color="#e1e1ff"/><stop offset="0.6042" stop-color="#e1e1ff"/><stop offset="0.6111" stop-color="#e5e5ff"/><stop offset="0.6944" stop-color="#f9f9ff"/><stop offset="0.7222" stop-color="#fdfdff"/><stop offset="0.7812" stop-color="#fdfdff"/><stop offset="0.8021" stop-color="#ededff"/><stop offset="0.8264" stop-color="#f9f9ff"/><stop offset="0.8542" stop-color="#fdfdff"/><stop offset="1" stop-color="#fdfdff"/></linearGradient><linearGradient id="gvg" x1="0" y1="0" x2="0" y2="1"><stop offset="0" stop-color="#f1f1ff"/><stop offset="0.0139" stop-color="#f1f1ff"/><stop offset="0.0347" stop-color="#fdfdff"/><stop offset="1" stop-color="#fdfdff"/></linearGradient><linearGradient id="gve" x1="0" y1="0" x2="0" y2="1"><stop offset="0" stop-color="#c1c1ff"/><stop offset="0.0104" stop-color="#c1c1ff"/><stop offset="0.0417" stop-color="#e1e1ff"/><stop offset="0.0833" stop-color="#f9f9ff"/><stop offset="0.1875" stop-color="#f9f9ff"/><stop offset="0.1944" stop-color="#f5f5ff"/><stop offset="0.2222" stop-color="#f9f9ff"/><stop offset="0.2431" stop-color="#f5f5ff"/><stop offset="0.2569" stop-color="#f9f9ff"/><stop offset="0.2917" stop-color="#f9f9ff"/><stop offset="0.2986" stop-color="#f5f5ff"/><stop offset="0.3194" stop-color="#f5f5ff"/><stop offset="0.3229" stop-color="#f9f9ff"/><stop offset="0.3576" stop-color="#fdfdff"/><stop offset="1" stop-color="#fdfdff"/></linearGradient><linearGradient id="cb1" x1="0" y1="0" x2="0" y2="1"><stop offset="0.0000" stop-color="#7a0403"/><stop offset="0.0208" stop-color="#8b0902"/><stop offset="0.0417" stop-color="#9b0f01"/><stop offset="0.0625" stop-color="#a91601"/><stop offset="0.0833" stop-color="#b91e02"/><stop offset="0.1042" stop-color="#c52603"/><stop offset="0.1250" stop-color="#d02f05"/><stop offset="0.1458" stop-color="#dc3b07"/><stop offset="0.1667" stop-color="#e4450a"/><stop offset="0.1875" stop-color="#eb500e"/><stop offset="0.2083" stop-color="#f26014"/><stop offset="0.2292" stop-color="#f76f1a"/><stop offset="0.2500" stop-color="#fb7e21"/><stop offset="0.2708" stop-color="#fe9029"/><stop offset="0.2917" stop-color="#fe9e2f"/><stop offset="0.3125" stop-color="#fdac34"/><stop offset="0.3333" stop-color="#faba39"/><stop offset="0.3542" stop-color="#f5c53a"/><stop offset="0.3750" stop-color="#eecf3a"/><stop offset="0.3958" stop-color="#e3db38"/><stop offset="0.4167" stop-color="#d9e436"/><stop offset="0.4375" stop-color="#cdec34"/><stop offset="0.4583" stop-color="#bef434"/><stop offset="0.4792" stop-color="#b1f936"/><stop offset="0.5000" stop-color="#a4fc3c"/><stop offset="0.5208" stop-color="#92ff47"/><stop offset="0.5417" stop-color="#80ff53"/><stop offset="0.5625" stop-color="#6dfe62"/><stop offset="0.5833" stop-color="#55fa76"/><stop offset="0.6042" stop-color="#43f787"/><stop offset="0.6250" stop-color="#32f298"/><stop offset="0.6458" stop-color="#22ebaa"/><stop offset="0.6667" stop-color="#1ae4b6"/><stop offset="0.6875" stop-color="#18ddc2"/><stop offset="0.7083" stop-color="#1ad2d2"/><stop offset="0.7292" stop-color="#20c7df"/><stop offset="0.7500" stop-color="#28bceb"/><stop offset="0.7708" stop-color="#33adf7"/><stop offset="0.7917" stop-color="#3ba0fd"/><stop offset="0.8125" stop-color="#4294ff"/><stop offset="0.8333" stop-color="#4685fa"/><stop offset="0.8542" stop-color="#4778f0"/><stop offset="0.8750" stop-color="#466be3"/><stop offset="0.8958" stop-color="#455ccf"/><stop offset="0.9167" stop-color="#434eba"/><stop offset="0.9375" stop-color="#4040a2"/><stop offset="0.9583" stop-color="#3b2f80"/><stop offset="0.9792" stop-color="#36215f"/><stop offset="1.0000" stop-color="#30123b"/></linearGradient><linearGradient id="cb2" x1="0" y1="0" x2="0" y2="1"><stop offset="0.0000" stop-color="#800000"/><stop offset="0.0625" stop-color="#9e0000"/><stop offset="0.1250" stop-color="#be0000"/><stop offset="0.1875" stop-color="#de0000"/><stop offset="0.2500" stop-color="#fe0000"/><stop offset="0.3125" stop-color="#ff3d3d"/><stop offset="0.3750" stop-color="#ff7d7d"/><stop offset="0.4375" stop-color="#ffbdbd"/><stop offset="0.5000" stop-color="#fffdfd"/><stop offset="0.5625" stop-color="#c1c1ff"/><stop offset="0.6250" stop-color="#8181ff"/><stop offset="0.6875" stop-color="#4141ff"/><stop offset="0.7500" stop-color="#0101ff"/><stop offset="0.8125" stop-color="#0000d3"/><stop offset="0.8750" stop-color="#0000a6"/><stop offset="0.9375" stop-color="#000079"/><stop offset="1.0000" stop-color="#00004c"/></linearGradient></defs>
<rect x="0" y="0" width="1350" height="725" fill="#fff"/>
<g shape-rendering="crispEdges">
<rect x="207" y="65.5" width="1" height="208.0" fill="url(#gi0)"/>
<rect x="208" y="65.5" width="1" height="208.0" fill="url(#gi1)"/>
<rect x="209" y="65.5" width="2" height="208.0" fill="url(#gi2)"/>
<rect x="211" y="65.5" width="1" height="208.0" fill="url(#gi3)"/>
<rect x="212" y="65.5" width="1" height="208.0" fill="url(#gi4)"/>
<rect x="213" y="65.5" width="1" height="208.0" fill="url(#gi5)"/>
<rect x="214" y="65.5" width="1" height="208.0" fill="url(#gi6)"/>
<rect x="215" y="65.5" width="1" height="208.0" fill="url(#gi7)"/>
<rect x="216" y="65.5" width="1" height="208.0" fill="url(#gi1)"/>
<rect x="217" y="65.5" width="3" height="208.0" fill="url(#gi8)"/>
<rect x="220" y="65.5" width="1" height="208.0" fill="url(#gi2)"/>
<rect x="221" y="65.5" width="1" height="208.0" fill="url(#gi9)"/>
<rect x="222" y="65.5" width="1" height="208.0" fill="url(#gi10)"/>
<rect x="223" y="65.5" width="1" height="208.0" fill="url(#gi11)"/>
<rect x="224" y="65.5" width="3" height="208.0" fill="url(#gi12)"/>
<rect x="227" y="65.5" width="5" height="208.0" fill="url(#gi13)"/>
<rect x="232" y="65.5" width="7" height="208.0" fill="url(#gi12)"/>
<rect x="239" y="65.5" width="2" height="208.0" fill="url(#gi13)"/>
<rect x="241" y="65.5" width="3" height="208.0" fill="url(#gi14)"/>
<rect x="244" y="65.5" width="2" height="208.0" fill="url(#gi15)"/>
<rect x="246" y="65.5" width="3" height="208.0" fill="url(#gi16)"/>
<rect x="249" y="65.5" width="2" height="208.0" fill="url(#gi17)"/>
<rect x="251" y="65.5" width="3" height="208.0" fill="url(#gi18)"/>
<rect x="254" y="65.5" width="6" height="208.0" fill="url(#gi19)"/>
<rect x="260" y="65.5" width="4" height="208.0" fill="url(#gi20)"/>
<rect x="264" y="65.5" width="3" height="208.0" fill="url(#gi19)"/>
<rect x="267" y="65.5" width="4" height="208.0" fill="url(#gi18)"/>
<rect x="271" y="65.5" width="2" height="208.0" fill="url(#gi17)"/>
<rect x="273" y="65.5" width="2" height="208.0" fill="url(#gi16)"/>
<rect x="275" y="65.5" width="4" height="208.0" fill="url(#gi15)"/>
<rect x="279" y="65.5" width="3" height="208.0" fill="url(#gi16)"/>
<rect x="282" y="65.5" width="3" height="208.0" fill="url(#gi17)"/>
<rect x="285" y="65.5" width="12" height="208.0" fill="url(#gi18)"/>
<rect x="297" y="65.5" width="5" height="208.0" fill="url(#gi19)"/>
<rect x="302" y="65.5" width="23" height="208.0" fill="url(#gi18)"/>
<rect x="325" y="65.5" width="11" height="208.0" fill="url(#gi19)"/>
<rect x="336" y="65.5" width="4" height="208.0" fill="url(#gi18)"/>
<rect x="340" y="65.5" width="4" height="208.0" fill="url(#gi17)"/>
<rect x="344" y="65.5" width="1" height="208.0" fill="url(#gi16)"/>
<rect x="345" y="65.5" width="2" height="208.0" fill="url(#gi17)"/>
<rect x="347" y="65.5" width="3" height="208.0" fill="url(#gi18)"/>
<rect x="350" y="65.5" width="3" height="208.0" fill="url(#gi19)"/>
<rect x="353" y="65.5" width="10" height="208.0" fill="url(#gi20)"/>
<rect x="363" y="65.5" width="4" height="208.0" fill="url(#gi19)"/>
<rect x="367" y="65.5" width="4" height="208.0" fill="url(#gi18)"/>
<rect x="371" y="65.5" width="3" height="208.0" fill="url(#gi17)"/>
<rect x="374" y="65.5" width="4" height="208.0" fill="url(#gi16)"/>
<rect x="378" y="65.5" width="4" height="208.0" fill="url(#gi15)"/>
<rect x="382" y="65.5" width="4" height="208.0" fill="url(#gi14)"/>
<rect x="386" y="65.5" width="2" height="208.0" fill="url(#gi13)"/>
<rect x="388" y="65.5" width="7" height="208.0" fill="url(#gi14)"/>
<rect x="395" y="65.5" width="4" height="208.0" fill="url(#gi15)"/>
<rect x="399" y="65.5" width="5" height="208.0" fill="url(#gi14)"/>
<rect x="404" y="65.5" width="23" height="208.0" fill="url(#gi13)"/>
<rect x="427" y="65.5" width="8" height="208.0" fill="url(#gi12)"/>
<rect x="435" y="65.5" width="4" height="208.0" fill="url(#gi21)"/>
<rect x="439" y="65.5" width="7" height="208.0" fill="url(#gi12)"/>
<rect x="446" y="65.5" width="2" height="208.0" fill="url(#gi13)"/>
<rect x="448" y="65.5" width="2" height="208.0" fill="url(#gi14)"/>
<rect x="450" y="65.5" width="2" height="208.0" fill="url(#gi15)"/>
<rect x="452" y="65.5" width="4" height="208.0" fill="url(#gi16)"/>
<rect x="456" y="65.5" width="5" height="208.0" fill="url(#gi15)"/>
<rect x="461" y="65.5" width="3" height="208.0" fill="url(#gi16)"/>
<rect x="464" y="65.5" width="3" height="208.0" fill="url(#gi17)"/>
<rect x="467" y="65.5" width="4" height="208.0" fill="url(#gi18)"/>
<rect x="471" y="65.5" width="10" height="208.0" fill="url(#gi19)"/>
<rect x="481" y="65.5" width="7" height="208.0" fill="url(#gi20)"/>
<rect x="488" y="65.5" width="4" height="208.0" fill="url(#gi22)"/>
<rect x="492" y="65.5" width="5" height="208.0" fill="url(#gi20)"/>
<rect x="497" y="65.5" width="6" height="208.0" fill="url(#gi19)"/>
<rect x="503" y="65.5" width="3" height="208.0" fill="url(#gi20)"/>
<rect x="506" y="65.5" width="3" height="208.0" fill="url(#gi22)"/>
<rect x="509" y="65.5" width="3" height="208.0" fill="url(#gi23)"/>
<rect x="512" y="65.5" width="3" height="208.0" fill="url(#gi24)"/>
<rect x="515" y="65.5" width="2" height="208.0" fill="url(#gi25)"/>
<rect x="517" y="65.5" width="3" height="208.0" fill="url(#gi26)"/>
<rect x="520" y="65.5" width="3" height="208.0" fill="url(#gi27)"/>
<rect x="523" y="65.5" width="3" height="208.0" fill="url(#gi28)"/>
<rect x="526" y="65.5" width="3" height="208.0" fill="url(#gi29)"/>
<rect x="529" y="65.5" width="2" height="208.0" fill="url(#gi30)"/>
<rect x="531" y="65.5" width="15" height="208.0" fill="url(#gi31)"/>
<rect x="546" y="65.5" width="6" height="208.0" fill="url(#gi30)"/>
<rect x="552" y="65.5" width="3" height="208.0" fill="url(#gi29)"/>
<rect x="555" y="65.5" width="3" height="208.0" fill="url(#gi28)"/>
<rect x="558" y="65.5" width="6" height="208.0" fill="url(#gi27)"/>
<rect x="564" y="65.5" width="7" height="208.0" fill="url(#gi26)"/>
<rect x="571" y="65.5" width="2" height="208.0" fill="url(#gi27)"/>
<rect x="573" y="65.5" width="2" height="208.0" fill="url(#gi28)"/>
<rect x="575" y="65.5" width="7" height="208.0" fill="url(#gi29)"/>
<rect x="582" y="65.5" width="7" height="208.0" fill="url(#gi30)"/>
<rect x="589" y="65.5" width="2" height="208.0" fill="url(#gi31)"/>
<rect x="591" y="65.5" width="3" height="208.0" fill="url(#gi32)"/>
<rect x="594" y="65.5" width="3" height="208.0" fill="url(#gi33)"/>
<rect x="597" y="65.5" width="5" height="208.0" fill="url(#gi34)"/>
<rect x="602" y="65.5" width="8" height="208.0" fill="url(#gi33)"/>
<rect x="610" y="65.5" width="6" height="208.0" fill="url(#gi32)"/>
<rect x="616" y="65.5" width="4" height="208.0" fill="url(#gi31)"/>
<rect x="620" y="65.5" width="4" height="208.0" fill="url(#gi30)"/>
<rect x="624" y="65.5" width="10" height="208.0" fill="url(#gi29)"/>
<rect x="634" y="65.5" width="1" height="208.0" fill="url(#gi28)"/>
<rect x="635" y="65.5" width="2" height="208.0" fill="url(#gi27)"/>
<rect x="637" y="65.5" width="2" height="208.0" fill="url(#gi26)"/>
<rect x="639" y="65.5" width="4" height="208.0" fill="url(#gi25)"/>
<rect x="643" y="65.5" width="5" height="208.0" fill="url(#gi26)"/>
<rect x="648" y="65.5" width="5" height="208.0" fill="url(#gi27)"/>
<rect x="653" y="65.5" width="6" height="208.0" fill="url(#gi26)"/>
<rect x="659" y="65.5" width="2" height="208.0" fill="url(#gi25)"/>
<rect x="661" y="65.5" width="2" height="208.0" fill="url(#gi24)"/>
<rect x="663" y="65.5" width="2" height="208.0" fill="url(#gi23)"/>
<rect x="665" y="65.5" width="3" height="208.0" fill="url(#gi22)"/>
<rect x="668" y="65.5" width="5" height="208.0" fill="url(#gi20)"/>
<rect x="673" y="65.5" width="1" height="208.0" fill="url(#gi19)"/>
<rect x="674" y="65.5" width="2" height="208.0" fill="url(#gi20)"/>
<rect x="676" y="65.5" width="1" height="208.0" fill="url(#gi22)"/>
<rect x="677" y="65.5" width="2" height="208.0" fill="url(#gi23)"/>
<rect x="679" y="65.5" width="2" height="208.0" fill="url(#gi24)"/>
<rect x="681" y="65.5" width="3" height="208.0" fill="url(#gi25)"/>
<rect x="684" y="65.5" width="4" height="208.0" fill="url(#gi26)"/>
<rect x="688" y="65.5" width="4" height="208.0" fill="url(#gi27)"/>
<rect x="692" y="65.5" width="11" height="208.0" fill="url(#gi28)"/>
<rect x="703" y="65.5" width="7" height="208.0" fill="url(#gi27)"/>
<rect x="710" y="65.5" width="2" height="208.0" fill="url(#gi28)"/>
<rect x="712" y="65.5" width="3" height="208.0" fill="url(#gi29)"/>
<rect x="715" y="65.5" width="1" height="208.0" fill="url(#gi32)"/>
<rect x="716" y="65.5" width="1" height="208.0" fill="url(#gi35)"/>
<rect x="717" y="65.5" width="1" height="208.0" fill="url(#gi36)"/>
<rect x="718" y="65.5" width="1" height="208.0" fill="url(#gi37)"/>
<rect x="719" y="65.5" width="4" height="208.0" fill="url(#gi38)"/>
<rect x="723" y="65.5" width="11" height="208.0" fill="url(#gi39)"/>
<rect x="734" y="65.5" width="5" height="208.0" fill="url(#gi38)"/>
<rect x="739" y="65.5" width="5" height="208.0" fill="url(#gi40)"/>
<rect x="744" y="65.5" width="1" height="208.0" fill="url(#gi41)"/>
<rect x="745" y="65.5" width="1" height="208.0" fill="url(#gi40)"/>
<rect x="746" y="65.5" width="1" height="208.0" fill="url(#gi38)"/>
<rect x="747" y="65.5" width="1" height="208.0" fill="url(#gi39)"/>
<rect x="748" y="65.5" width="2" height="208.0" fill="url(#gi42)"/>
<rect x="750" y="65.5" width="1" height="208.0" fill="url(#gi43)"/>
<rect x="751" y="65.5" width="1" height="208.0" fill="url(#gi44)"/>
<rect x="752" y="65.5" width="1" height="208.0" fill="url(#gi45)"/>
<rect x="753" y="65.5" width="1" height="208.0" fill="url(#gi46)"/>
<rect x="754" y="65.5" width="2" height="208.0" fill="url(#gi45)"/>
<rect x="756" y="65.5" width="2" height="208.0" fill="url(#gi44)"/>
<rect x="758" y="65.5" width="2" height="208.0" fill="url(#gi43)"/>
<rect x="788" y="65.5" width="2" height="208.0" fill="url(#gi41)"/>
<rect x="790" y="65.5" width="3" height="208.0" fill="url(#gi40)"/>
<rect x="793" y="65.5" width="2" height="208.0" fill="url(#gi38)"/>
<rect x="795" y="65.5" width="2" height="208.0" fill="url(#gi39)"/>
<rect x="797" y="65.5" width="3" height="208.0" fill="url(#gi42)"/>
<rect x="800" y="65.5" width="2" height="208.0" fill="url(#gi43)"/>
<rect x="802" y="65.5" width="1" height="208.0" fill="url(#gi42)"/>
<rect x="803" y="65.5" width="2" height="208.0" fill="url(#gi39)"/>
<rect x="805" y="65.5" width="2" height="208.0" fill="url(#gi38)"/>
<rect x="807" y="65.5" width="1" height="208.0" fill="url(#gi40)"/>
<rect x="808" y="65.5" width="2" height="208.0" fill="url(#gi41)"/>
<rect x="810" y="65.5" width="1" height="208.0" fill="url(#gi47)"/>
<rect x="811" y="65.5" width="2" height="208.0" fill="url(#gi48)"/>
<rect x="813" y="65.5" width="1" height="208.0" fill="url(#gi49)"/>
<rect x="814" y="65.5" width="1" height="208.0" fill="url(#gi47)"/>
<rect x="815" y="65.5" width="1" height="208.0" fill="url(#gi41)"/>
<rect x="816" y="65.5" width="1" height="208.0" fill="url(#gi38)"/>
<rect x="817" y="65.5" width="1" height="208.0" fill="url(#gi39)"/>
<rect x="818" y="65.5" width="2" height="208.0" fill="url(#gi42)"/>
<rect x="820" y="65.5" width="1" height="208.0" fill="url(#gi39)"/>
<rect x="821" y="65.5" width="1" height="208.0" fill="url(#gi38)"/>
<rect x="822" y="65.5" width="2" height="208.0" fill="url(#gi40)"/>
<rect x="824" y="65.5" width="1" height="208.0" fill="url(#gi41)"/>
<rect x="825" y="65.5" width="1" height="208.0" fill="url(#gi47)"/>
<rect x="826" y="65.5" width="1" height="208.0" fill="url(#gi48)"/>
<rect x="827" y="65.5" width="1" height="208.0" fill="url(#gi49)"/>
<rect x="828" y="65.5" width="1" height="208.0" fill="url(#gi50)"/>
<rect x="829" y="65.5" width="2" height="208.0" fill="url(#gi51)"/>
<rect x="831" y="65.5" width="6" height="208.0" fill="url(#gi52)"/>
<rect x="837" y="65.5" width="3" height="208.0" fill="url(#gi53)"/>
<rect x="840" y="65.5" width="1" height="208.0" fill="url(#gi52)"/>
<rect x="841" y="65.5" width="2" height="208.0" fill="url(#gi51)"/>
<rect x="843" y="65.5" width="2" height="208.0" fill="url(#gi50)"/>
<rect x="845" y="65.5" width="1" height="208.0" fill="url(#gi49)"/>
<rect x="846" y="65.5" width="4" height="208.0" fill="url(#gi48)"/>
<rect x="850" y="65.5" width="5" height="208.0" fill="url(#gi47)"/>
<rect x="855" y="65.5" width="2" height="208.0" fill="url(#gi48)"/>
<rect x="857" y="65.5" width="1" height="208.0" fill="url(#gi49)"/>
<rect x="858" y="65.5" width="2" height="208.0" fill="url(#gi50)"/>
<rect x="860" y="65.5" width="12" height="208.0" fill="url(#gi51)"/>
<rect x="872" y="65.5" width="4" height="208.0" fill="url(#gi50)"/>
<rect x="876" y="65.5" width="4" height="208.0" fill="url(#gi49)"/>
<rect x="880" y="65.5" width="4" height="208.0" fill="url(#gi48)"/>
<rect x="884" y="65.5" width="1" height="208.0" fill="url(#gi47)"/>
<rect x="885" y="65.5" width="1" height="208.0" fill="url(#gi40)"/>
<rect x="886" y="65.5" width="1" height="208.0" fill="url(#gi38)"/>
<rect x="887" y="65.5" width="2" height="208.0" fill="url(#gi39)"/>
<rect x="889" y="65.5" width="1" height="208.0" fill="url(#gi38)"/>
<rect x="890" y="65.5" width="1" height="208.0" fill="url(#gi40)"/>
<rect x="891" y="65.5" width="1" height="208.0" fill="url(#gi41)"/>
<rect x="892" y="65.5" width="1" height="208.0" fill="url(#gi47)"/>
<rect x="893" y="65.5" width="3" height="208.0" fill="url(#gi48)"/>
<rect x="896" y="65.5" width="2" height="208.0" fill="url(#gi47)"/>
<rect x="898" y="65.5" width="2" height="208.0" fill="url(#gi41)"/>
<rect x="900" y="65.5" width="3" height="208.0" fill="url(#gi40)"/>
<rect x="903" y="65.5" width="9" height="208.0" fill="url(#gi38)"/>
<rect x="912" y="65.5" width="1" height="208.0" fill="url(#gi40)"/>
<rect x="913" y="65.5" width="3" height="208.0" fill="url(#gi38)"/>
<rect x="916" y="65.5" width="4" height="208.0" fill="url(#gi39)"/>
<rect x="920" y="65.5" width="1" height="208.0" fill="url(#gi40)"/>
<rect x="921" y="65.5" width="1" height="208.0" fill="url(#gi47)"/>
<rect x="922" y="65.5" width="1" height="208.0" fill="url(#gi48)"/>
<rect x="923" y="65.5" width="1" height="208.0" fill="url(#gi50)"/>
<rect x="924" y="65.5" width="1" height="208.0" fill="url(#gi51)"/>
<rect x="925" y="65.5" width="1" height="208.0" fill="url(#gi53)"/>
<rect x="926" y="65.5" width="11" height="208.0" fill="url(#gi54)"/>
<rect x="937" y="65.5" width="3" height="208.0" fill="url(#gi53)"/>
<rect x="940" y="65.5" width="3" height="208.0" fill="url(#gi52)"/>
<rect x="943" y="65.5" width="3" height="208.0" fill="url(#gi51)"/>
<rect x="946" y="65.5" width="1" height="208.0" fill="url(#gi50)"/>
<rect x="947" y="65.5" width="1" height="208.0" fill="url(#gi49)"/>
<rect x="948" y="65.5" width="1" height="208.0" fill="url(#gi48)"/>
<rect x="949" y="65.5" width="1" height="208.0" fill="url(#gi47)"/>
<rect x="950" y="65.5" width="1" height="208.0" fill="url(#gi41)"/>
<rect x="951" y="65.5" width="1" height="208.0" fill="url(#gi40)"/>
<rect x="952" y="65.5" width="2" height="208.0" fill="url(#gi38)"/>
<rect x="954" y="65.5" width="1" height="208.0" fill="url(#gi39)"/>
<rect x="955" y="65.5" width="1" height="208.0" fill="url(#gi42)"/>
<rect x="956" y="65.5" width="1" height="208.0" fill="url(#gi43)"/>
<rect x="957" y="65.5" width="2" height="208.0" fill="url(#gi44)"/>
<rect x="959" y="65.5" width="1" height="208.0" fill="url(#gi45)"/>
<rect x="960" y="65.5" width="3" height="208.0" fill="url(#gi46)"/>
<rect x="963" y="65.5" width="4" height="208.0" fill="url(#gi45)"/>
<rect x="967" y="65.5" width="3" height="208.0" fill="url(#gi44)"/>
<rect x="970" y="65.5" width="3" height="208.0" fill="url(#gi43)"/>
<rect x="973" y="65.5" width="3" height="208.0" fill="url(#gi42)"/>
<rect x="976" y="65.5" width="6" height="208.0" fill="url(#gi39)"/>
<rect x="982" y="65.5" width="9" height="208.0" fill="url(#gi38)"/>
<rect x="991" y="65.5" width="5" height="208.0" fill="url(#gi40)"/>
<rect x="996" y="65.5" width="4" height="208.0" fill="url(#gi41)"/>
<rect x="1000" y="65.5" width="4" height="208.0" fill="url(#gi47)"/>
<rect x="1004" y="65.5" width="12" height="208.0" fill="url(#gi48)"/>
<rect x="1016" y="65.5" width="1" height="208.0" fill="url(#gi47)"/>
<rect x="1017" y="65.5" width="2" height="208.0" fill="url(#gi41)"/>
<rect x="1019" y="65.5" width="2" height="208.0" fill="url(#gi40)"/>
<rect x="1021" y="65.5" width="2" height="208.0" fill="url(#gi38)"/>
<rect x="1023" y="65.5" width="2" height="208.0" fill="url(#gi39)"/>
<rect x="1025" y="65.5" width="1" height="208.0" fill="url(#gi38)"/>
<rect x="1026" y="65.5" width="2" height="208.0" fill="url(#gi40)"/>
<rect x="1028" y="65.5" width="1" height="208.0" fill="url(#gi41)"/>
<rect x="1029" y="65.5" width="2" height="208.0" fill="url(#gi47)"/>
<rect x="1031" y="65.5" width="13" height="208.0" fill="url(#gi48)"/>
<rect x="1044" y="65.5" width="5" height="208.0" fill="url(#gi47)"/>
<rect x="1049" y="65.5" width="1" height="208.0" fill="url(#gi55)"/>
<rect x="760" y="65.5" width="28" height="208.0" fill="#30123b"/>
<rect x="760" y="65.5" width="1" height="208.0" fill="url(#ge2)"/><rect x="761" y="65.5" width="1" height="208.0" fill="url(#ge1)"/>
<rect x="786" y="65.5" width="1" height="208.0" fill="url(#ge1)"/><rect x="787" y="65.5" width="1" height="208.0" fill="url(#ge2)"/>
<rect x="1050" y="65.5" width="1" height="208.0" fill="url(#ge3)"/>
<rect x="1051" y="65.5" width="23" height="208.0" fill="#30123b"/>
</g>
<g shape-rendering="crispEdges">
<rect x="207" y="273.5" width="30" height="208.0" fill="url(#gv0)"/>
<rect x="237" y="273.5" width="30" height="208.0" fill="url(#gv1)"/>
<rect x="267" y="273.5" width="30" height="208.0" fill="url(#gv2)"/>
<rect x="297" y="273.5" width="30" height="208.0" fill="url(#gv3)"/>
<rect x="327" y="273.5" width="30" height="208.0" fill="url(#gv4)"/>
<rect x="357" y="273.5" width="30" height="208.0" fill="url(#gv5)"/>
<rect x="387" y="273.5" width="30" height="208.0" fill="url(#gv6)"/>
<rect x="417" y="273.5" width="30" height="208.0" fill="url(#gv7)"/>
<rect x="447" y="273.5" width="30" height="208.0" fill="url(#gv8)"/>
<rect x="477" y="273.5" width="30" height="208.0" fill="url(#gv9)"/>
<rect x="507" y="273.5" width="30" height="208.0" fill="url(#gv10)"/>
<rect x="537" y="273.5" width="30" height="208.0" fill="url(#gv11)"/>
<rect x="567" y="273.5" width="30" height="208.0" fill="url(#gv12)"/>
<rect x="597" y="273.5" width="30" height="208.0" fill="url(#gv13)"/>
<rect x="627" y="273.5" width="30" height="208.0" fill="url(#gv14)"/>
<rect x="657" y="273.5" width="30" height="208.0" fill="url(#gv15)"/>
<rect x="687" y="273.5" width="30" height="208.0" fill="url(#gv16)"/>
<rect x="717" y="273.5" width="1" height="208.0" fill="url(#gv17)"/>
<rect x="718" y="273.5" width="43" height="208.0" fill="url(#gv18)"/>
<rect x="787" y="273.5" width="23" height="208.0" fill="url(#gv19)"/>
<rect x="810" y="273.5" width="30" height="208.0" fill="url(#gv20)"/>
<rect x="840" y="273.5" width="30" height="208.0" fill="url(#gv21)"/>
<rect x="870" y="273.5" width="30" height="208.0" fill="url(#gv22)"/>
<rect x="900" y="273.5" width="30" height="208.0" fill="url(#gv23)"/>
<rect x="930" y="273.5" width="30" height="208.0" fill="url(#gv24)"/>
<rect x="960" y="273.5" width="30" height="208.0" fill="url(#gv25)"/>
<rect x="990" y="273.5" width="30" height="208.0" fill="url(#gv26)"/>
<rect x="1020" y="273.5" width="30" height="208.0" fill="url(#gv27)"/>
<rect x="761" y="273.5" width="26" height="208.0" fill="url(#gvg)"/>
<rect x="1050" y="273.5" width="24" height="208.0" fill="url(#gve)"/>
<path d="M280.5 274v8M697.5 278v3M572.5 282v4M825.5 278v3M537.5 286v6M701.5 278v8M1012.5 282v7M793.5 278v5M209.5 274v5M472.5 286v9M700.5 278v8M233.5 278v7M522.5 278v7M991.5 274v4M737.5 278v8M815.5 278v4M905.5 286v7M897.5 282v6M846.5 278v3M922.5 286v5M611.5 278v7M453.5 274v9M439.5 278v5M723.5 278v4M359.5 274v8M684.5 282v9M381.5 278v4M1019.5 286v7M718.5 278v8M872.5 286v3M518.5 274v4M387.5 274v9M314.5 274v6M922.5 278v9M803.5 274v6M801.5 278v3M517.5 274v7M647.5 278v6M374.5 274v3M612.5 278v6M859.5 278v3M651.5 278v4M831.5 282v5M972.5 278v5M501.5 282v6M286.5 278v6M982.5 286v8M1004.5 278v8M833.5 274v8M421.5 286v6M496.5 278v7M475.5 278v7M697.5 282v6M535.5 274v7M282.5 274v6M548.5 274v7M487.5 274v9M413.5 274v4M443.5 278v4M659.5 278v9M313.5 282v7M952.5 278v9M328.5 282v9M252.5 278v7M354.5 286v9M660.5 282v3M262.5 274v8M407.5 278v7M548.5 274v7M467.5 278v5M851.5 278v8M642.5 278v4M581.5 274v6M1019.5 286v3M494.5 278v7M679.5 282v7M945.5 286v6M681.5 282v7M480.5 278v7M868.5 282v6M230.5 278v9M746.5 278v7M536.5 274v8M273.5 278v9M944.5 274v3M305.5 286v9M545.5 286v5M343.5 278v6M814.5 278v8M573.5 274v6M680.5 278v9M386.5 278v6M349.5 274v9M950.5 282v3M733.5 278v4M556.5 286v7M828.5 278v7M504.5 278v7M693.5 278v6M490.5 282v6M983.5 286v4M218.5 274v8M1039.5 286v4M374.5 278v7M615.5 278v4M946.5 286v6M887.5 282v9M627.5 286v7M679.5 274v6M987.5 274v9M226.5 278v5M322.5 282v3M876.5 274v6M530.5 286v6M905.5 286v3M386.5 282v9M622.5 286v8M743.5 282v8M666.5 282v4M1043.5 278v3M789.5 274v4M248.5 286v5M485.5 286v5M1000.5 278v3M1001.5 278v9M488.5 274v8M210.5 286v7M736.5 278v8M337.5 278v7M232.5 278v8M558.5 282v4M755.5 278v3M413.5 278v4M822.5 278v7M968.5 278v5M480.5 282v3M411.5 274v8M456.5 282v5M883.5 274v3M267.5 286v8M624.5 274v7M847.5 278v3M1016.5 282v5M602.5 286v4M702.5 282v6M968.5 278v6M903.5 278v9M311.5 274v4M813.5 282v3M280.5 278v8M224.5 278v9M865.5 274v5M369.5 274v8M654.5 286v6M1030.5 282v3M270.5 278v7M824.5 278v8M455.5 282v5M431.5 278v4M909.5 278v4M382.5 282v5M495.5 282v9M959.5 286v4M622.5 278v7M499.5 286v7M893.5 278v4M750.5 286v3M254.5 274v3M865.5 278v6M587.5 278v4M246.5 274v9M492.5 274v5M430.5 274v7M530.5 282v6M540.5 282v7M693.5 278v9M1007.5 278v5M241.5 274v5M883.5 274v6M280.5 282v8M723.5 274v8M240.5 278v4M871.5 286v3M629.5 274v7M703.5 282v4M801.5 274v5M371.5 278v4M990.5 274v3M673.5 286v7M444.5 286v7M308.5 274v4M944.5 278v9M848.5 274v8M1032.5 278v5M649.5 278v3M813.5 274v3M713.5 274v7M841.5 274v9M535.5 278v5M801.5 278v8M305.5 278v3M405.5 278v8M995.5 278v3M546.5 286v9M632.5 286v8M934.5 278v4M642.5 282v4M654.5 274v4M885.5 278v4M737.5 278v4M263.5 274v4M318.5 286v6M211.5 278v3M241.5 282v9M642.5 274v9M825.5 286v3M749.5 286v3M918.5 274v5M836.5 278v8M746.5 278v9M607.5 278v8M701.5 286v6M569.5 282v4M577.5 282v7M466.5 278v3M884.5 278v9M909.5 278v7M256.5 282v9M606.5 278v3M835.5 282v4M1014.5 274v6M757.5 282v4M627.5 274v4M448.5 274v4M557.5 278v3M487.5 274v9M819.5 286v4M310.5 278v5M757.5 278v6M924.5 286v8M922.5 278v6M342.5 278v7M243.5 278v4M609.5 278v4M209.5 282v5M663.5 278v3M627.5 278v3M552.5 278v7M462.5 274v8M219.5 282v4M446.5 282v6M685.5 278v3M449.5 286v8M464.5 274v9M322.5 274v5M1003.5 274v6M322.5 278v3M895.5 278v5M293.5 282v8M970.5 274v4M1047.5 278v5M250.5 286v4M575.5 286v4M437.5 278v9M238.5 274v6M828.5 286v6M1003.5 282v4M635.5 274v6M486.5 286v3M630.5 278v8M936.5 278v9M1021.5 278v5M306.5 278v9M753.5 286v9M609.5 282v3M519.5 278v9M294.5 278v3M624.5 274v7M655.5 286v7M743.5 286v7M633.5 278v3M749.5 274v4M557.5 282v7M413.5 282v4M326.5 278v8M318.5 282v4M333.5 282v5M939.5 282v4M749.5 278v9M815.5 282v9M699.5 282v5M830.5 274v5M306.5 286v5M1003.5 282v3M511.5 274v5M596.5 282v5M290.5 282v9M853.5 278v5M875.5 278v3M346.5 282v9M443.5 286v7M941.5 282v3M993.5 286v4M805.5 286v3M935.5 286v8M876.5 278v3M949.5 278v4M591.5 274v4M752.5 286v7M848.5 274v9M543.5 282v7M755.5 278v9M700.5 282v5M817.5 278v7M268.5 278v4M624.5 278v5M341.5 278v7M494.5 278v8M293.5 286v7M681.5 274v8M994.5 278v8M752.5 278v6M631.5 286v5M565.5 286v6M746.5 278v7M240.5 274v5M580.5 286v7M715.5 278v3M484.5 286v5M902.5 282v6M686.5 282v9M211.5 282v3M282.5 278v3M1038.5 278v4M606.5 282v6M415.5 286v5M562.5 286v6M555.5 278v3M943.5 278v6M287.5 286v9M513.5 274v4M989.5 278v7M461.5 278v5M528.5 278v7M1006.5 282v8M922.5 274v4M1030.5 282v8M297.5 286v6M844.5 286v3M850.5 278v5M393.5 278v3M511.5 278v3M1047.5 278v5M461.5 274v6M493.5 278v4M1046.5 286v5M1034.5 282v3M908.5 278v4M832.5 278v4M474.5 286v6M938.5 274v6M684.5 286v8M338.5 274v9M404.5 286v7M823.5 278v3M260.5 282v4M296.5 278v8M692.5 278v9M620.5 278v3M1010.5 278v7M1032.5 278v3M715.5 286v6M842.5 278v7M721.5 274v5M313.5 282v3M491.5 282v3M466.5 278v7M803.5 278v5M842.5 274v6M863.5 282v9M612.5 278v7M533.5 286v6M759.5 286v9M532.5 278v7M930.5 278v7M808.5 286v8M701.5 278v9M342.5 278v3M470.5 274v9M654.5 278v9M672.5 274v9M949.5 278v3M852.5 278v4M491.5 278v8M365.5 274v6M654.5 282v4M902.5 278v7M735.5 278v5M827.5 278v9M593.5 278v4M598.5 278v9M467.5 278v9M229.5 286v5M831.5 274v7M558.5 274v8M390.5 278v8M521.5 274v8M569.5 282v4M410.5 278v3M567.5 278v7M533.5 278v9M861.5 286v8M471.5 278v3M224.5 282v3M474.5 278v3M530.5 282v7M919.5 278v4M280.5 278v6M886.5 274v7M359.5 286v3M248.5 286v6M333.5 278v7M472.5 282v6M853.5 282v4M687.5 278v3M992.5 286v7M1046.5 282v6M707.5 278v7M935.5 282v8M582.5 274v9M1005.5 286v5M965.5 278v9M858.5 278v9M615.5 286v5M256.5 274v4M817.5 278v7M995.5 278v4M522.5 282v6M659.5 278v7M482.5 286v4M692.5 278v6M961.5 274v9M679.5 278v5M703.5 278v6M753.5 278v8M323.5 286v4M788.5 282v7M912.5 286v4M412.5 282v9M586.5 286v8M748.5 274v7M1000.5 282v6M827.5 274v3M420.5 286v5M690.5 278v9M368.5 278v5M272.5 274v7M251.5 274v9M846.5 286v8M311.5 274v6M388.5 282v6M951.5 274v3M382.5 286v9M513.5 278v9M663.5 274v8M372.5 278v6M236.5 278v9M267.5 278v3M689.5 274v6M1016.5 286v5M1041.5 286v8M490.5 278v8M237.5 278v9M858.5 278v6M525.5 278v4M368.5 286v3M976.5 286v8M852.5 274v4M645.5 278v3M1002.5 278v3M333.5 286v6M868.5 282v7M287.5 278v9M465.5 278v4M953.5 286v5M1044.5 274v9M319.5 286v6M890.5 274v4M566.5 278v5M661.5 278v5M856.5 278v7M865.5 278v5M234.5 274v8M892.5 274v7M228.5 278v9M677.5 278v6M1024.5 278v4M814.5 286v8M924.5 278v8M265.5 286v5M376.5 278v6M1025.5 282v4M313.5 282v4M959.5 274v7" stroke="#fff" stroke-opacity="0.1" stroke-width="1" fill="none"/>
<path d="M416.5 278v7M487.5 278v3M798.5 278v3M630.5 278v4M555.5 278v7M486.5 282v8M420.5 278v5M739.5 282v7M714.5 286v8M1032.5 286v4M1035.5 282v4M210.5 282v4M588.5 274v9M913.5 282v9M941.5 278v9M838.5 286v4M691.5 282v7M450.5 278v9M446.5 286v4M980.5 278v9M1006.5 274v5M975.5 278v9M304.5 274v3M905.5 278v8M997.5 278v5M525.5 286v7M564.5 286v6M593.5 286v9M427.5 286v3M987.5 278v6M582.5 286v9M383.5 286v3M948.5 278v6M820.5 286v3M620.5 286v3M254.5 274v6M691.5 286v8M277.5 278v4M356.5 282v8M357.5 278v9M502.5 274v4M853.5 274v3M567.5 278v6M539.5 278v3M336.5 282v6M981.5 286v9M714.5 286v5M457.5 286v8M484.5 282v6M548.5 278v9M964.5 282v9M419.5 282v4M498.5 278v3M291.5 278v4M289.5 274v3M457.5 278v6M666.5 278v5M531.5 286v9M223.5 278v3M219.5 278v9M599.5 278v9M696.5 286v6M208.5 274v8M296.5 286v6M415.5 278v5M327.5 286v9M463.5 278v3M345.5 274v6M418.5 274v9M331.5 282v3M847.5 286v9M307.5 282v7M445.5 278v5M922.5 274v8M913.5 286v6M355.5 278v4M916.5 278v9M1018.5 274v6M710.5 278v8M871.5 286v8M254.5 274v7M493.5 282v3M505.5 278v5M696.5 278v5M792.5 282v3M728.5 286v8M228.5 278v8M530.5 278v5M235.5 286v8M901.5 278v7M624.5 278v4M353.5 278v5M213.5 286v8M486.5 278v8M676.5 282v9M296.5 282v5M346.5 278v8M211.5 274v7M978.5 286v7M318.5 278v8M859.5 278v9M671.5 278v7M222.5 282v5M790.5 286v6M338.5 282v9M758.5 278v3M662.5 274v3M209.5 286v8M706.5 274v5M681.5 282v4M306.5 282v8M664.5 278v3M210.5 278v5M374.5 282v4M983.5 278v3M359.5 278v3M1004.5 274v6M257.5 278v4M890.5 282v6M443.5 286v9M479.5 282v4M621.5 278v8M644.5 274v5M356.5 286v6M467.5 278v8M390.5 278v6M513.5 282v4M500.5 286v7M456.5 278v9M512.5 282v6M225.5 286v5M720.5 286v4M626.5 274v9M687.5 286v4M450.5 278v8M957.5 278v9M863.5 278v7M423.5 278v6M523.5 286v3M285.5 278v7M568.5 282v9M223.5 278v9M917.5 278v9M811.5 274v4M996.5 282v5M315.5 274v9M314.5 278v3M911.5 274v4M1022.5 282v6M318.5 274v4M361.5 286v4M494.5 278v9M715.5 274v4M721.5 274v5M285.5 278v5M729.5 274v6M407.5 282v5M947.5 274v3M268.5 278v6M229.5 274v5M462.5 274v6M913.5 278v5M344.5 278v4M326.5 282v3M1013.5 278v7M283.5 282v8M259.5 286v8M596.5 282v4M1028.5 278v4M724.5 274v7M367.5 282v5M1030.5 278v9M291.5 274v5M418.5 286v6M253.5 278v7M416.5 282v3M833.5 278v3M1035.5 286v6M404.5 282v8M505.5 282v7M391.5 286v4M512.5 278v8M876.5 286v9M861.5 282v7M318.5 278v4M847.5 274v9M391.5 286v8M345.5 286v6M428.5 286v5M539.5 282v6M456.5 282v7M252.5 282v6M576.5 282v9M258.5 286v8M728.5 282v3M960.5 278v7M737.5 278v3M531.5 286v3M444.5 274v5M902.5 286v9M662.5 278v4M272.5 286v4M289.5 282v3M268.5 274v3M668.5 278v9M736.5 278v9M824.5 278v9M535.5 286v4M275.5 286v4M1033.5 286v8M892.5 286v9M277.5 274v8M237.5 278v3M342.5 286v6M354.5 278v5M256.5 274v7M828.5 286v6M416.5 278v6M733.5 278v6M1034.5 286v5M716.5 274v3M908.5 282v8M306.5 278v5M359.5 282v4M324.5 278v8M828.5 286v4M825.5 282v6M225.5 278v9M498.5 274v3M373.5 282v8M798.5 274v5M742.5 282v9M901.5 282v6M586.5 282v9M439.5 286v4M583.5 278v4M947.5 278v5M873.5 286v8M946.5 286v4M744.5 282v4M608.5 274v3M976.5 274v6M622.5 278v3M755.5 282v8M257.5 286v6M641.5 286v5M255.5 286v4M874.5 278v7M1003.5 278v8M595.5 274v8M351.5 286v4M657.5 282v7M396.5 278v3" stroke="#fff" stroke-opacity="0.18" stroke-width="1" fill="none"/>
</g>
<polyline points="206.3,525.1 207.0,524.1 207.6,525.8 208.3,528.5 208.9,531.5 209.6,531.6 210.2,533.1 210.9,531.4 211.5,530.2 212.2,528.3 212.8,526.6 213.5,526.2 214.1,524.3 214.8,525.7 215.4,526.4 216.1,529.0 216.7,530.2 217.4,530.7 218.0,530.6 218.7,532.3 219.3,532.6 220.0,531.8 220.6,530.9 221.3,533.6 221.9,535.9 222.6,535.5 223.2,536.5 223.9,539.4 224.5,541.6 225.2,539.5 225.8,539.8 226.5,542.2 227.1,542.0 227.8,540.1 228.4,539.7 229.1,542.1 229.7,541.7 230.4,539.8 231.0,539.8 231.7,541.2 232.3,542.3 233.0,539.6 233.6,540.4 234.3,541.1 234.9,541.7 235.6,540.1 236.2,539.5 236.9,541.3 237.5,541.0 238.2,538.9 238.8,539.6 239.5,541.0 240.1,542.0 240.8,541.1 241.4,540.5 242.1,542.3 242.7,542.6 243.4,541.4 244.0,541.4 244.7,542.7 245.3,544.0 246.0,541.9 246.6,542.3 247.3,543.9 247.9,544.9 248.6,543.4 249.2,542.9 249.9,544.7 250.5,545.4 251.2,544.2 251.8,544.0 252.5,545.4 253.1,545.9 253.8,545.0 254.4,543.5 255.1,546.1 255.7,545.9 256.4,545.3 257.0,544.3 257.7,546.1 258.3,546.1 259.0,545.1 259.6,545.2 260.3,547.1 260.9,546.3 261.6,545.3 262.2,546.8 262.9,546.9 263.5,546.7 264.2,545.4 264.8,543.7 265.5,546.7 266.1,546.2 266.8,544.1 267.4,544.8 268.1,545.2 268.7,545.2 269.4,544.4 270.0,544.0 270.7,544.7 271.3,544.9 272.0,543.0 272.6,542.5 273.3,544.4 273.9,544.5 274.6,542.8 275.2,542.4 275.9,543.0 276.5,543.1 277.2,541.7 277.8,542.7 278.5,543.0 279.1,543.7 279.8,542.7 280.4,542.1 281.1,544.6 281.7,544.0 282.4,543.1 283.0,543.4 283.7,544.1 284.3,544.8 285.0,543.7 285.6,544.2 286.3,544.9 286.9,544.6 287.6,544.7 288.2,544.2 288.9,544.6 289.5,545.4 290.2,544.6 290.8,545.0 291.5,544.8 292.1,545.7 292.8,544.5 293.4,544.7 294.1,545.2 294.7,545.5 295.4,544.9 296.0,544.1 296.7,544.6 297.3,545.7 298.0,544.7 298.6,544.7 299.3,545.9 299.9,545.7 300.6,545.4 301.2,544.7 301.9,545.6 302.5,546.0 303.2,545.0 303.8,544.5 304.5,545.5 305.1,545.3 305.8,544.3 306.4,544.4 307.1,545.7 307.7,545.3 308.4,544.8 309.0,545.0 309.7,546.1 310.3,545.4 311.0,544.7 311.6,544.3 312.3,545.4 312.9,545.6 313.6,544.4 314.2,544.2 314.9,545.1 315.5,545.1 316.2,544.1 316.8,544.0 317.5,545.6 318.1,545.5 318.8,544.5 319.4,544.5 320.1,544.9 320.7,545.5 321.4,544.5 322.0,544.1 322.7,545.1 323.3,546.2 324.0,544.5 324.6,543.9 325.3,546.5 325.9,545.5 326.6,544.7 327.2,544.2 327.9,546.0 328.5,546.5 329.2,544.5 329.8,544.6 330.5,546.1 331.1,546.1 331.8,545.5 332.4,544.8 333.1,546.2 333.7,546.2 334.4,544.6 335.0,544.4 335.7,545.7 336.3,546.6 337.0,543.3 337.6,543.0 338.3,545.3 338.9,544.9 339.6,543.8 340.2,543.1 340.9,545.2 341.5,545.3 342.2,543.8 342.8,543.2 343.5,545.0 344.1,544.9 344.8,543.5 345.4,543.1 346.1,544.6 346.7,544.8 347.4,543.3 348.0,543.8 348.7,544.6 349.3,546.1 350.0,544.2 350.6,544.6 351.3,546.3 351.9,546.4 352.6,545.2 353.2,544.1 353.9,546.9 354.5,547.3 355.2,544.7 355.8,545.5 356.5,546.8 357.1,547.2 357.8,544.9 358.4,545.4 359.1,547.0 359.7,547.1 360.4,545.1 361.0,545.5 361.7,547.3 362.3,547.1 363.0,545.7 363.6,544.7 364.3,546.4 364.9,546.6 365.6,544.9 366.2,545.6 366.9,546.0 367.5,545.7 368.2,544.7 368.8,543.6 369.5,545.4 370.1,545.7 370.8,543.7 371.4,543.4 372.1,544.4 372.7,545.0 373.4,543.2 374.0,543.8 374.7,544.5 375.3,544.3 376.0,542.4 376.6,543.5 377.3,544.3 377.9,544.0 378.6,542.6 379.2,542.3 379.9,543.1 380.5,544.1 381.2,542.2 381.8,541.2 382.5,542.5 383.1,541.8 383.8,541.9 384.4,541.7 385.1,543.0 385.7,543.2 386.4,540.9 387.0,541.2 387.7,542.5 388.3,542.7 389.0,541.2 389.6,541.6 390.3,542.5 390.9,543.1 391.6,541.7 392.2,541.5 392.9,542.4 393.5,542.7 394.2,541.7 394.8,541.7 395.5,543.0 396.1,543.2 396.8,542.8 397.4,542.5 398.1,543.1 398.7,542.5 399.4,542.2 400.0,542.2 400.7,542.0 401.3,542.1 402.0,541.2 402.6,540.9 403.3,542.0 403.9,541.8 404.6,541.4 405.2,540.5 405.9,541.7 406.5,541.6 407.2,540.5 407.8,541.1 408.5,541.6 409.1,542.0 409.8,540.7 410.4,541.0 411.1,541.9 411.7,541.8 412.4,540.2 413.0,541.1 413.7,542.1 414.3,542.1 415.0,541.1 415.6,540.9 416.3,542.0 416.9,541.7 417.6,541.0 418.2,541.0 418.9,541.7 419.5,541.8 420.2,541.8 420.8,541.1 421.5,541.8 422.1,541.9 422.8,539.8 423.4,540.0 424.1,541.6 424.7,542.4 425.4,539.8 426.0,540.0 426.7,542.3 427.3,542.0 428.0,540.5 428.6,540.5 429.3,541.3 429.9,541.4 430.6,540.4 431.2,540.1 431.9,540.7 432.5,541.9 433.2,539.1 433.8,539.2 434.5,542.1 435.1,540.9 435.8,539.8 436.4,538.8 437.1,540.7 437.7,540.8 438.4,539.5 439.0,539.6 439.7,541.7 440.3,541.7 441.0,540.4 441.6,539.3 442.3,541.8 442.9,541.8 443.6,540.5 444.2,539.6 444.9,541.4 445.5,542.5 446.2,540.7 446.8,540.4 447.5,542.0 448.1,542.8 448.8,541.5 449.4,541.5 450.1,542.9 450.7,543.5 451.4,542.3 452.0,541.6 452.7,544.4 453.3,544.4 454.0,542.6 454.6,541.2 455.3,543.2 455.9,543.7 456.6,542.0 457.2,541.4 457.9,543.6 458.5,543.8 459.2,541.8 459.8,540.9 460.5,544.1 461.1,543.9 461.8,542.7 462.4,542.1 463.1,544.2 463.7,544.9 464.4,543.2 465.0,543.4 465.7,544.7 466.3,546.0 467.0,543.0 467.6,543.4 468.3,545.8 468.9,545.7 469.6,544.2 470.2,543.5 470.9,546.3 471.5,545.3 472.2,544.8 472.8,544.5 473.5,546.3 474.1,546.8 474.8,544.5 475.4,544.3 476.1,545.9 476.7,545.6 477.4,545.3 478.0,544.6 478.7,546.2 479.3,546.0 480.0,545.2 480.6,544.8 481.3,546.4 481.9,546.2 482.6,545.9 483.2,545.1 483.9,545.6 484.5,547.2 485.2,545.6 485.8,545.3 486.5,547.9 487.1,547.1 487.8,545.5 488.4,545.7 489.1,547.2 489.7,547.3 490.4,546.8 491.0,546.5 491.7,546.7 492.3,547.1 493.0,546.2 493.6,545.6 494.3,546.4 494.9,547.1 495.6,545.8 496.2,544.8 496.9,546.0 497.5,546.2 498.2,545.3 498.8,544.8 499.5,546.4 500.1,545.6 500.8,544.5 501.4,545.0 502.1,545.1 502.7,545.9 503.4,545.8 504.0,545.0 504.7,546.3 505.3,547.4 506.0,546.4 506.6,546.2 507.3,547.3 507.9,547.3 508.6,547.0 509.2,546.7 509.9,548.9 510.5,548.4 511.2,547.3 511.8,547.4 512.5,548.5 513.1,548.3 513.8,547.7 514.4,548.7 515.1,548.6 515.7,549.2 516.4,549.1 517.0,549.3 517.7,549.4 518.3,550.7 519.0,549.2 519.6,549.9 520.3,550.6 520.9,550.6 521.6,550.2 522.2,550.1 522.9,550.8 523.5,552.3 524.2,550.4 524.8,551.0 525.5,551.6 526.1,551.4 526.8,550.8 527.4,551.1 528.1,552.8 528.7,553.6 529.4,551.9 530.0,551.7 530.7,552.7 531.3,553.6 532.0,552.6 532.6,551.4 533.3,554.1 533.9,554.3 534.6,553.5 535.2,552.0 535.9,553.8 536.5,554.0 537.2,552.2 537.8,552.1 538.5,553.5 539.1,554.4 539.8,553.0 540.4,553.1 541.1,553.8 541.7,553.6 542.4,552.8 543.0,552.4 543.7,554.0 544.3,554.4 545.0,552.1 545.6,552.3 546.3,553.1 546.9,553.8 547.6,552.3 548.2,551.6 548.9,553.3 549.5,552.9 550.2,551.5 550.8,551.4 551.5,552.4 552.1,552.7 552.8,552.2 553.4,550.8 554.1,552.0 554.7,552.0 555.4,551.1 556.0,549.0 556.7,551.6 557.3,552.1 558.0,549.7 558.6,549.7 559.3,550.7 559.9,551.4 560.6,549.6 561.2,549.2 561.9,550.9 562.5,551.1 563.2,549.8 563.8,548.8 564.5,550.4 565.1,550.8 565.8,549.0 566.4,548.1 567.1,549.6 567.7,550.0 568.4,548.9 569.0,548.2 569.7,550.1 570.3,551.9 571.0,549.8 571.6,549.2 572.3,550.9 572.9,552.2 573.6,549.9 574.2,550.6 574.9,552.2 575.5,553.0 576.2,550.6 576.8,551.1 577.5,551.6 578.1,552.6 578.8,551.6 579.4,551.2 580.1,551.8 580.7,553.1 581.4,551.6 582.0,551.2 582.7,552.4 583.3,552.9 584.0,551.4 584.6,551.8 585.3,553.1 585.9,553.6 586.6,552.2 587.2,551.2 587.9,553.1 588.5,554.3 589.2,551.9 589.8,552.4 590.5,553.4 591.1,553.7 591.8,553.1 592.4,553.4 593.1,554.7 593.7,554.9 594.4,554.1 595.0,553.1 595.7,555.3 596.3,555.5 597.0,554.4 597.6,554.4 598.3,555.3 598.9,556.2 599.6,554.4 600.2,553.9 600.9,555.4 601.5,555.3 602.2,554.4 602.8,554.8 603.5,555.0 604.1,555.3 604.8,555.1 605.4,553.4 606.1,555.0 606.7,555.5 607.4,554.6 608.0,554.7 608.7,554.4 609.3,555.0 610.0,553.8 610.6,553.5 611.3,554.2 611.9,554.0 612.6,553.8 613.2,553.7 613.9,553.7 614.5,554.5 615.2,553.0 615.8,552.6 616.5,552.7 617.1,554.2 617.8,553.1 618.4,552.4 619.1,553.2 619.7,552.8 620.4,552.6 621.0,552.1 621.7,553.1 622.3,553.0 623.0,551.4 623.6,551.0 624.3,552.6 624.9,551.9 625.6,551.6 626.2,551.7 626.9,551.7 627.5,552.7 628.2,551.4 628.8,551.4 629.5,551.9 630.1,552.3 630.8,551.4 631.4,551.7 632.1,552.3 632.7,552.4 633.4,550.6 634.0,550.8 634.7,551.2 635.3,551.4 636.0,550.1 636.6,549.9 637.3,550.7 637.9,550.4 638.6,548.8 639.2,548.9 639.9,549.0 640.5,549.7 641.2,549.1 641.8,548.3 642.5,550.1 643.1,550.5 643.8,549.6 644.4,549.1 645.1,549.5 645.7,550.5 646.4,549.3 647.0,549.3 647.7,550.7 648.3,551.7 649.0,550.0 649.6,548.8 650.3,550.6 650.9,550.3 651.6,550.2 652.2,549.1 652.9,550.6 653.5,550.2 654.2,549.0 654.8,549.0 655.5,550.2 656.1,550.5 656.8,548.7 657.4,549.3 658.1,549.9 658.7,549.7 659.4,548.2 660.0,547.8 660.7,549.3 661.3,549.4 662.0,547.1 662.6,547.0 663.3,548.7 663.9,548.1 664.6,547.5 665.2,546.9 665.9,547.0 666.5,547.7 667.2,546.3 667.8,546.1 668.5,547.9 669.1,546.6 669.8,545.1 670.4,544.9 671.1,547.0 671.7,546.6 672.4,545.4 673.0,545.0 673.7,546.7 674.3,546.3 675.0,545.5 675.6,545.4 676.3,547.2 676.9,548.5 677.6,546.4 678.2,547.1 678.9,548.2 679.5,549.7 680.2,548.3 680.8,547.3 681.5,549.6 682.1,550.0 682.8,548.0 683.4,548.6 684.1,550.2 684.7,550.0 685.4,548.9 686.0,549.1 686.7,550.3 687.3,550.4 688.0,550.0 688.6,548.8 689.3,550.9 689.9,551.6 690.6,550.2 691.2,549.0 691.9,551.1 692.5,551.5 693.2,550.2 693.8,550.5 694.5,551.9 695.1,552.0 695.8,550.9 696.4,550.9 697.1,552.2 697.7,551.1 698.4,551.5 699.0,550.1 699.7,551.8 700.3,551.0 701.0,550.2 701.6,549.7 702.3,551.7 702.9,551.8 703.6,550.3 704.2,549.9 704.9,551.2 705.5,550.8 706.2,549.8 706.8,549.5 707.5,551.1 708.1,550.9 708.8,549.5 709.4,550.2 710.1,551.4 710.7,552.1 711.4,550.5 712.0,550.9 712.7,552.7 713.3,552.1 714.0,551.3 714.6,552.0 715.3,553.7 715.9,555.4 716.6,555.6 717.2,556.6 717.9,559.5 718.5,560.4 719.2,560.6 719.8,561.7 720.5,562.5 721.1,562.8 721.8,562.1 722.4,562.2 723.1,561.8 723.7,562.3 724.4,560.7 725.0,561.3 725.7,562.2 726.3,561.9 727.0,560.8 727.6,560.5 728.3,561.1 728.9,562.1 729.6,561.8 730.2,560.4 730.9,562.6 731.5,562.1 732.2,560.7 732.8,561.4 733.5,562.6 734.1,562.7 734.8,561.5 735.4,562.2 736.1,562.5 736.7,563.1 737.4,562.2 738.0,561.4 738.7,562.2 739.3,562.6 740.0,562.1 740.6,562.3 741.3,562.6 741.9,563.4 742.6,563.2 743.2,561.7 743.9,563.9 744.5,564.2 745.2,562.8 745.8,561.3 746.5,562.9 747.1,562.1 747.8,561.6 748.4,560.1 749.1,561.5 749.7,560.9 750.4,559.6 751.0,558.3 751.7,560.1 752.3,560.1 753.0,558.1 753.6,558.1 754.3,559.1 754.9,559.7 755.6,558.4 756.2,558.9 756.9,559.6 757.5,560.3 758.2,559.0 758.8,559.3 759.5,561.0 760.1,561.8" fill="none" stroke="#0020bf" stroke-width="2.2" stroke-linejoin="round"/>
<polyline points="206.3,621.3 207.3,620.6 208.3,620.4 209.3,620.3 210.3,618.6 211.3,619.9 212.3,618.6 213.3,618.3 214.3,618.2 215.3,617.6 216.3,616.8 217.3,617.8 218.3,619.0 219.3,619.3 220.3,619.8 221.3,619.4 222.3,620.0 223.3,621.0 224.3,621.6 225.3,621.4 226.3,621.3 227.3,621.2 228.3,623.0 229.3,621.9 230.3,623.1 231.3,623.6 232.3,625.0 233.3,623.9 234.3,624.0 235.3,624.6 236.3,624.9 237.3,625.3 238.3,625.0 239.3,624.3 240.3,623.7 241.3,624.8 242.3,624.4 243.3,625.4 244.3,624.1 245.3,624.8 246.3,624.4 247.3,624.3 248.3,625.5 249.3,624.8 250.3,624.7 251.3,625.1 252.3,624.4 253.3,624.6 254.3,624.5 255.3,625.7 256.3,625.0 257.3,625.1 258.3,625.4 259.3,624.8 260.3,624.8 261.3,624.1 262.3,625.1 263.3,625.0 264.3,624.7 265.3,625.5 266.3,624.1 267.3,625.1 268.3,624.3 269.3,624.4 270.3,624.8 271.3,625.6 272.3,624.4 273.3,624.5 274.3,624.4 275.3,625.9 276.3,625.2 277.3,625.2 278.3,626.0 279.3,625.1 280.3,624.0 281.3,624.8 282.3,624.5 283.3,626.0 284.3,624.4 285.3,625.2 286.3,624.8 287.3,624.9 288.3,625.1 289.3,625.0 290.3,624.8 291.3,624.5 292.3,624.8 293.3,624.6 294.3,624.7 295.3,625.2 296.3,625.1 297.3,625.4 298.3,625.0 299.3,626.1 300.3,624.8 301.3,624.7 302.3,625.7 303.3,624.9 304.3,625.3 305.3,625.7 306.3,625.2 307.3,625.1 308.3,625.7 309.3,625.4 310.3,625.0 311.3,624.7 312.3,625.1 313.3,624.5 314.3,624.9 315.3,624.8 316.3,625.4 317.3,625.7 318.3,625.0 319.3,625.1 320.3,624.8 321.3,624.7 322.3,625.1 323.3,625.6 324.3,625.6 325.3,625.6 326.3,625.3 327.3,624.1 328.3,625.8 329.3,626.0 330.3,625.8 331.3,625.8 332.3,625.9 333.3,626.7 334.3,625.6 335.3,626.2 336.3,625.8 337.3,625.8 338.3,625.4 339.3,625.3 340.3,625.0 341.3,625.8 342.3,625.4 343.3,625.0 344.3,625.2 345.3,625.0 346.3,626.3 347.3,625.4 348.3,625.6 349.3,625.0 350.3,625.1 351.3,626.1 352.3,625.5 353.3,625.7 354.3,626.5 355.3,626.6 356.3,626.0 357.3,625.9 358.3,625.8 359.3,625.5 360.3,626.6 361.3,625.1 362.3,625.6 363.3,624.8 364.3,625.1 365.3,625.9 366.3,625.9 367.3,625.9 368.3,625.6 369.3,625.4 370.3,625.5 371.3,625.6 372.3,626.3 373.3,626.4 374.3,626.0 375.3,625.5 376.3,625.4 377.3,625.9 378.3,625.7 379.3,625.0 380.3,626.5 381.3,625.8 382.3,625.7 383.3,625.4 384.3,625.4 385.3,626.3 386.3,625.4 387.3,625.9 388.3,626.2 389.3,626.8 390.3,626.2 391.3,625.9 392.3,625.7 393.3,626.3 394.3,626.4 395.3,625.7 396.3,626.2 397.3,625.9 398.3,625.2 399.3,625.5 400.3,626.4 401.3,626.7 402.3,626.3 403.3,625.9 404.3,625.7 405.3,626.3 406.3,626.2 407.3,625.3 408.3,626.4 409.3,625.7 410.3,626.4 411.3,626.3 412.3,626.4 413.3,626.6 414.3,626.4 415.3,625.6 416.3,625.6 417.3,626.6 418.3,626.4 419.3,625.4 420.3,625.2 421.3,626.6 422.3,627.2 423.3,626.6 424.3,626.1 425.3,626.3 426.3,624.9 427.3,625.7 428.3,626.7 429.3,626.6 430.3,625.2 431.3,626.8 432.3,626.5 433.3,626.7 434.3,626.2 435.3,626.3 436.3,625.8 437.3,626.4 438.3,626.7 439.3,625.9 440.3,626.5 441.3,626.1 442.3,626.8 443.3,626.8 444.3,625.2 445.3,626.6 446.3,626.8 447.3,626.1 448.3,626.3 449.3,626.3 450.3,625.9 451.3,626.3 452.3,627.1 453.3,626.6 454.3,627.1 455.3,626.9 456.3,627.0 457.3,626.5 458.3,626.8 459.3,627.4 460.3,627.2 461.3,626.6 462.3,626.2 463.3,626.1 464.3,626.6 465.3,626.7 466.3,625.7 467.3,626.6 468.3,626.7 469.3,626.7 470.3,626.3 471.3,627.6 472.3,627.0 473.3,625.9 474.3,626.2 475.3,627.0 476.3,626.8 477.3,626.7 478.3,626.6 479.3,626.5 480.3,626.4 481.3,626.2 482.3,626.9 483.3,625.3 484.3,626.3 485.3,627.2 486.3,626.3 487.3,626.1 488.3,627.6 489.3,627.2 490.3,626.7 491.3,626.6 492.3,626.8 493.3,626.8 494.3,626.9 495.3,626.7 496.3,627.4 497.3,626.9 498.3,626.4 499.3,626.7 500.3,627.3 501.3,626.9 502.3,626.3 503.3,628.2 504.3,627.7 505.3,627.3 506.3,627.4 507.3,627.9 508.3,628.4 509.3,627.5 510.3,628.0 511.3,627.6 512.3,628.1 513.3,627.5 514.3,627.2 515.3,628.1 516.3,628.1 517.3,628.5 518.3,627.9 519.3,628.9 520.3,628.4 521.3,629.1 522.3,628.3 523.3,629.2 524.3,628.5 525.3,628.7 526.3,629.1 527.3,627.9 528.3,628.3 529.3,629.7 530.3,628.2 531.3,628.7 532.3,629.2 533.3,629.7 534.3,628.8 535.3,629.1 536.3,628.6 537.3,628.9 538.3,629.6 539.3,629.3 540.3,629.2 541.3,629.4 542.3,629.3 543.3,629.3 544.3,629.1 545.3,628.9 546.3,629.7 547.3,628.8 548.3,629.9 549.3,630.4 550.3,630.1 551.3,630.5 552.3,629.0 553.3,629.6 554.3,629.2 555.3,629.2 556.3,628.8 557.3,629.1 558.3,630.0 559.3,630.0 560.3,630.3 561.3,630.2 562.3,630.1 563.3,629.4 564.3,629.7 565.3,630.2 566.3,630.4 567.3,629.7 568.3,629.7 569.3,629.7 570.3,630.7 571.3,630.2 572.3,629.9 573.3,629.7 574.3,630.3 575.3,629.3 576.3,630.0 577.3,629.9 578.3,629.9 579.3,630.3 580.3,630.4 581.3,631.6 582.3,630.3 583.3,630.6 584.3,629.9 585.3,629.6 586.3,630.9 587.3,631.3 588.3,630.0 589.3,630.4 590.3,631.0 591.3,630.5 592.3,629.4 593.3,631.0 594.3,630.5 595.3,630.9 596.3,630.2 597.3,631.1 598.3,631.2 599.3,630.4 600.3,630.9 601.3,630.5 602.3,630.5 603.3,630.3 604.3,630.5 605.3,630.4 606.3,631.2 607.3,630.5 608.3,630.1 609.3,631.2 610.3,630.8 611.3,631.0 612.3,630.5 613.3,630.8 614.3,630.5 615.3,630.0 616.3,630.5 617.3,630.5 618.3,630.5 619.3,630.8 620.3,629.6 621.3,630.5 622.3,630.0 623.3,630.2 624.3,630.5 625.3,630.3 626.3,630.0 627.3,630.6 628.3,630.2 629.3,630.6 630.3,630.8 631.3,630.0 632.3,629.6 633.3,630.0 634.3,630.3 635.3,630.0 636.3,629.3 637.3,628.9 638.3,629.2 639.3,629.2 640.3,629.8 641.3,629.5 642.3,629.8 643.3,629.3 644.3,630.0 645.3,629.2 646.3,629.4 647.3,628.9 648.3,629.2 649.3,629.4 650.3,629.2 651.3,629.4 652.3,628.4 653.3,628.8 654.3,629.3 655.3,628.6 656.3,628.3 657.3,628.2 658.3,628.0 659.3,628.3 660.3,628.8 661.3,628.3 662.3,628.0 663.3,627.6 664.3,627.3 665.3,628.9 666.3,627.5 667.3,627.7 668.3,627.4 669.3,627.7 670.3,627.5 671.3,627.7 672.3,628.4 673.3,627.4 674.3,628.0 675.3,627.8 676.3,628.2 677.3,627.6 678.3,628.1 679.3,627.5 680.3,627.2 681.3,627.4 682.3,627.6 683.3,627.6 684.3,628.0 685.3,628.6 686.3,627.7 687.3,628.4 688.3,628.3 689.3,627.9 690.3,627.9 691.3,628.5 692.3,628.6 693.3,628.2 694.3,628.4 695.3,628.5 696.3,627.9 697.3,628.6 698.3,628.7 699.3,629.4 700.3,628.1 701.3,628.3 702.3,628.7 703.3,628.5 704.3,628.6 705.3,628.8 706.3,628.7 707.3,628.8 708.3,629.1 709.3,628.2 710.3,629.2 711.3,628.0 712.3,629.9 713.3,629.9 714.3,629.4 715.3,630.4 716.3,630.2 717.3,630.7 718.3,631.1 719.3,631.2 720.3,631.3 721.3,631.6 722.3,631.2 723.3,631.1 724.3,630.8 725.3,630.4 726.3,631.9 727.3,631.5 728.3,630.5 729.3,631.3 730.3,631.1 731.3,630.0 732.3,630.6 733.3,630.9 734.3,631.7 735.3,631.4 736.3,631.4 737.3,631.0 738.3,631.3 739.3,630.3 740.3,631.0 741.3,631.1 742.3,630.1 743.3,630.8 744.3,631.3 745.3,631.5 746.3,631.2 747.3,630.2 748.3,630.5 749.3,630.3 750.3,631.0 751.3,630.1 752.3,629.9 753.3,629.7 754.3,630.4 755.3,630.5 756.3,630.0 757.3,629.9 758.3,630.2 759.3,630.8 760.3,629.6" fill="none" stroke="#004080" stroke-width="2.0" stroke-linejoin="round"/>
<polyline points="206.3,638.9 207.3,638.8 208.3,638.6 209.3,638.8 210.3,638.4 211.3,638.0 212.3,638.2 213.3,637.9 214.3,637.3 215.3,637.1 216.3,636.4 217.3,637.2 218.3,637.1 219.3,637.1 220.3,637.7 221.3,637.4 222.3,637.9 223.3,638.3 224.3,638.9 225.3,638.9 226.3,639.4 227.3,640.1 228.3,640.0 229.3,639.5 230.3,639.5 231.3,640.1 232.3,640.2 233.3,639.8 234.3,639.9 235.3,639.9 236.3,640.4 237.3,641.2 238.3,641.3 239.3,640.2 240.3,640.4 241.3,640.1 242.3,640.0 243.3,640.6 244.3,640.6 245.3,640.4 246.3,640.9 247.3,640.5 248.3,641.1 249.3,640.4 250.3,641.0 251.3,640.6 252.3,640.7 253.3,640.9 254.3,640.1 255.3,640.4 256.3,640.6 257.3,640.6 258.3,640.8 259.3,640.4 260.3,640.2 261.3,640.6 262.3,640.8 263.3,640.4 264.3,641.2 265.3,641.0 266.3,641.1 267.3,641.0 268.3,640.4 269.3,641.6 270.3,640.5 271.3,640.9 272.3,641.0 273.3,640.9 274.3,640.8 275.3,640.5 276.3,640.6 277.3,640.8 278.3,641.3 279.3,640.5 280.3,641.1 281.3,641.0 282.3,640.9 283.3,640.6 284.3,640.8 285.3,640.2 286.3,640.9 287.3,641.0 288.3,640.7 289.3,641.1 290.3,641.0 291.3,640.6 292.3,641.2 293.3,640.7 294.3,641.9 295.3,640.5 296.3,640.6 297.3,640.7 298.3,641.0 299.3,641.4 300.3,641.0 301.3,640.8 302.3,641.7 303.3,641.4 304.3,640.8 305.3,640.9 306.3,640.4 307.3,641.0 308.3,641.7 309.3,640.5 310.3,640.4 311.3,641.0 312.3,640.0 313.3,641.5 314.3,640.4 315.3,640.7 316.3,640.9 317.3,641.5 318.3,641.2 319.3,640.2 320.3,640.3 321.3,641.1 322.3,640.2 323.3,640.9 324.3,640.7 325.3,641.3 326.3,641.5 327.3,640.0 328.3,641.2 329.3,641.3 330.3,640.7 331.3,640.8 332.3,640.6 333.3,640.9 334.3,641.2 335.3,641.6 336.3,641.6 337.3,640.9 338.3,640.7 339.3,641.5 340.3,640.0 341.3,640.5 342.3,641.3 343.3,642.0 344.3,640.8 345.3,641.1 346.3,640.6 347.3,641.1 348.3,641.1 349.3,640.8 350.3,641.3 351.3,641.1 352.3,641.3 353.3,641.0 354.3,640.7 355.3,641.2 356.3,641.5 357.3,640.8 358.3,641.7 359.3,641.3 360.3,641.0 361.3,641.2 362.3,641.0 363.3,640.8 364.3,641.6 365.3,641.6 366.3,641.0 367.3,641.1 368.3,641.1 369.3,641.5 370.3,641.8 371.3,641.0 372.3,641.3 373.3,641.2 374.3,641.5 375.3,641.8 376.3,640.9 377.3,640.4 378.3,641.2 379.3,640.6 380.3,641.9 381.3,641.0 382.3,641.2 383.3,641.4 384.3,641.4 385.3,641.1 386.3,641.3 387.3,641.7 388.3,641.2 389.3,642.1 390.3,641.5 391.3,640.4 392.3,641.7 393.3,640.6 394.3,641.5 395.3,642.2 396.3,641.8 397.3,640.9 398.3,641.0 399.3,641.4 400.3,641.9 401.3,641.1 402.3,641.8 403.3,641.5 404.3,641.3 405.3,641.3 406.3,642.1 407.3,640.8 408.3,640.9 409.3,641.8 410.3,641.8 411.3,640.9 412.3,641.1 413.3,641.0 414.3,641.6 415.3,641.2 416.3,642.0 417.3,641.7 418.3,641.6 419.3,641.5 420.3,641.7 421.3,641.8 422.3,641.5 423.3,641.6 424.3,641.8 425.3,641.4 426.3,641.9 427.3,641.4 428.3,641.2 429.3,641.6 430.3,642.2 431.3,642.1 432.3,640.9 433.3,641.6 434.3,641.3 435.3,641.4 436.3,641.4 437.3,641.4 438.3,641.3 439.3,641.4 440.3,641.6 441.3,641.1 442.3,641.1 443.3,641.1 444.3,641.1 445.3,641.8 446.3,641.1 447.3,641.5 448.3,641.6 449.3,641.9 450.3,641.6 451.3,642.0 452.3,641.6 453.3,641.7 454.3,641.9 455.3,641.0 456.3,641.8 457.3,642.2 458.3,641.7 459.3,641.5 460.3,642.4 461.3,641.7 462.3,642.1 463.3,640.7 464.3,641.7 465.3,641.4 466.3,641.8 467.3,642.1 468.3,641.6 469.3,641.6 470.3,640.5 471.3,642.0 472.3,642.2 473.3,641.7 474.3,641.5 475.3,641.8 476.3,642.1 477.3,642.0 478.3,642.5 479.3,641.5 480.3,641.2 481.3,641.9 482.3,642.2 483.3,641.5 484.3,641.7 485.3,641.5 486.3,641.2 487.3,641.5 488.3,640.9 489.3,641.9 490.3,642.0 491.3,642.2 492.3,641.6 493.3,641.7 494.3,641.4 495.3,641.5 496.3,642.5 497.3,643.3 498.3,641.8 499.3,642.1 500.3,642.7 501.3,642.1 502.3,642.6 503.3,642.3 504.3,642.4 505.3,642.9 506.3,642.5 507.3,642.1 508.3,643.0 509.3,642.7 510.3,642.5 511.3,642.5 512.3,643.1 513.3,642.6 514.3,643.0 515.3,643.4 516.3,643.0 517.3,643.5 518.3,642.6 519.3,643.4 520.3,643.4 521.3,644.0 522.3,643.3 523.3,643.7 524.3,643.4 525.3,643.0 526.3,643.2 527.3,643.3 528.3,643.9 529.3,643.3 530.3,643.7 531.3,644.1 532.3,644.3 533.3,644.2 534.3,644.4 535.3,643.4 536.3,643.7 537.3,644.0 538.3,644.3 539.3,644.1 540.3,643.6 541.3,643.9 542.3,643.3 543.3,644.3 544.3,643.3 545.3,644.1 546.3,644.4 547.3,644.4 548.3,643.4 549.3,644.2 550.3,643.9 551.3,644.0 552.3,644.8 553.3,644.2 554.3,643.6 555.3,643.7 556.3,644.5 557.3,644.3 558.3,643.8 559.3,643.6 560.3,644.0 561.3,644.1 562.3,644.6 563.3,644.1 564.3,644.6 565.3,644.8 566.3,643.7 567.3,644.1 568.3,645.0 569.3,644.2 570.3,644.4 571.3,644.8 572.3,644.1 573.3,644.3 574.3,643.8 575.3,644.7 576.3,644.3 577.3,644.4 578.3,643.5 579.3,644.9 580.3,644.8 581.3,644.3 582.3,645.1 583.3,643.6 584.3,644.6 585.3,644.0 586.3,645.8 587.3,643.6 588.3,644.2 589.3,644.4 590.3,645.0 591.3,645.1 592.3,644.9 593.3,644.7 594.3,645.6 595.3,644.5 596.3,644.9 597.3,645.5 598.3,644.4 599.3,644.5 600.3,645.3 601.3,645.1 602.3,644.4 603.3,644.9 604.3,645.7 605.3,644.8 606.3,645.2 607.3,644.9 608.3,644.6 609.3,645.5 610.3,645.2 611.3,645.3 612.3,644.7 613.3,644.8 614.3,644.9 615.3,644.9 616.3,644.6 617.3,644.5 618.3,645.3 619.3,644.3 620.3,644.5 621.3,644.6 622.3,644.5 623.3,644.2 624.3,644.4 625.3,645.0 626.3,644.5 627.3,644.3 628.3,645.3 629.3,644.1 630.3,645.0 631.3,644.7 632.3,644.0 633.3,644.3 634.3,644.3 635.3,644.9 636.3,644.7 637.3,644.2 638.3,643.8 639.3,643.5 640.3,644.1 641.3,643.6 642.3,644.0 643.3,643.9 644.3,644.1 645.3,644.3 646.3,643.9 647.3,644.0 648.3,643.7 649.3,644.2 650.3,644.0 651.3,644.3 652.3,644.2 653.3,643.3 654.3,642.9 655.3,643.7 656.3,643.9 657.3,643.1 658.3,643.9 659.3,643.3 660.3,643.2 661.3,643.3 662.3,642.6 663.3,642.4 664.3,642.9 665.3,642.5 666.3,643.0 667.3,642.9 668.3,641.8 669.3,642.6 670.3,643.1 671.3,642.0 672.3,642.8 673.3,642.5 674.3,642.2 675.3,643.5 676.3,643.5 677.3,642.9 678.3,642.9 679.3,643.7 680.3,643.7 681.3,643.2 682.3,643.6 683.3,643.3 684.3,643.2 685.3,643.6 686.3,643.2 687.3,643.6 688.3,643.3 689.3,643.2 690.3,643.2 691.3,643.7 692.3,643.9 693.3,643.7 694.3,643.2 695.3,643.8 696.3,643.2 697.3,643.2 698.3,643.6 699.3,644.0 700.3,644.0 701.3,644.0 702.3,644.3 703.3,644.1 704.3,643.7 705.3,644.2 706.3,643.8 707.3,644.1 708.3,644.2 709.3,643.9 710.3,643.4 711.3,644.0 712.3,644.0 713.3,644.2 714.3,644.2 715.3,644.1 716.3,644.0 717.3,645.0 718.3,645.2 719.3,645.2 720.3,645.2 721.3,646.0 722.3,645.4 723.3,645.2 724.3,645.5 725.3,645.1 726.3,645.4 727.3,645.3 728.3,645.4 729.3,645.2 730.3,645.0 731.3,645.3 732.3,645.6 733.3,644.7 734.3,644.9 735.3,644.7 736.3,645.4 737.3,645.0 738.3,645.4 739.3,644.8 740.3,645.4 741.3,644.8 742.3,644.9 743.3,645.3 744.3,644.9 745.3,644.8 746.3,645.4 747.3,645.0 748.3,645.5 749.3,646.0 750.3,644.8 751.3,644.9 752.3,644.4 753.3,644.5 754.3,645.2 755.3,645.1 756.3,645.1 757.3,645.1 758.3,644.6 759.3,644.3 760.3,645.4" fill="none" stroke="#006040" stroke-width="2.0" stroke-linejoin="round"/>
<polyline points="206.3,655.1 207.3,655.4 208.3,654.8 209.3,655.0 210.3,654.4 211.3,654.5 212.3,654.3 213.3,654.4 214.3,654.6 215.3,654.2 216.3,652.9 217.3,654.0 218.3,654.2 219.3,654.6 220.3,654.4 221.3,654.3 222.3,654.3 223.3,654.6 224.3,654.6 225.3,655.5 226.3,655.3 227.3,655.2 228.3,655.7 229.3,656.2 230.3,655.5 231.3,655.7 232.3,655.7 233.3,655.5 234.3,655.7 235.3,655.6 236.3,656.1 237.3,656.1 238.3,656.3 239.3,655.7 240.3,656.3 241.3,655.6 242.3,655.9 243.3,656.4 244.3,656.4 245.3,656.4 246.3,656.7 247.3,656.3 248.3,655.9 249.3,655.9 250.3,655.7 251.3,656.1 252.3,655.7 253.3,655.8 254.3,655.7 255.3,655.4 256.3,656.9 257.3,656.3 258.3,655.3 259.3,656.2 260.3,655.8 261.3,655.3 262.3,656.0 263.3,656.1 264.3,656.2 265.3,656.4 266.3,655.8 267.3,656.0 268.3,656.3 269.3,656.3 270.3,656.2 271.3,656.1 272.3,656.5 273.3,655.6 274.3,655.6 275.3,656.7 276.3,656.2 277.3,656.5 278.3,656.2 279.3,656.0 280.3,655.9 281.3,656.2 282.3,656.0 283.3,656.1 284.3,656.1 285.3,656.4 286.3,656.4 287.3,656.7 288.3,655.9 289.3,656.1 290.3,656.5 291.3,656.3 292.3,655.3 293.3,656.3 294.3,656.2 295.3,656.0 296.3,656.0 297.3,655.9 298.3,656.6 299.3,656.4 300.3,656.3 301.3,656.6 302.3,656.5 303.3,655.9 304.3,655.8 305.3,655.9 306.3,656.5 307.3,656.2 308.3,656.6 309.3,656.4 310.3,656.2 311.3,655.8 312.3,656.2 313.3,657.0 314.3,656.0 315.3,656.0 316.3,656.2 317.3,656.7 318.3,656.3 319.3,655.9 320.3,656.1 321.3,656.2 322.3,656.3 323.3,656.6 324.3,657.1 325.3,656.8 326.3,656.5 327.3,656.3 328.3,656.0 329.3,656.5 330.3,656.7 331.3,656.6 332.3,656.3 333.3,656.5 334.3,656.2 335.3,656.3 336.3,656.2 337.3,656.4 338.3,656.3 339.3,656.7 340.3,656.3 341.3,656.3 342.3,656.7 343.3,656.6 344.3,656.7 345.3,656.1 346.3,656.8 347.3,656.4 348.3,656.0 349.3,656.3 350.3,655.9 351.3,656.0 352.3,656.2 353.3,656.7 354.3,655.9 355.3,656.5 356.3,656.3 357.3,656.9 358.3,656.5 359.3,656.6 360.3,656.9 361.3,656.0 362.3,656.3 363.3,655.9 364.3,656.1 365.3,656.5 366.3,656.4 367.3,656.6 368.3,656.3 369.3,656.2 370.3,656.4 371.3,656.1 372.3,656.0 373.3,655.9 374.3,656.4 375.3,656.6 376.3,656.0 377.3,656.3 378.3,655.6 379.3,656.0 380.3,656.5 381.3,656.0 382.3,656.6 383.3,656.3 384.3,656.6 385.3,656.3 386.3,656.0 387.3,656.4 388.3,656.7 389.3,656.3 390.3,656.6 391.3,656.2 392.3,656.3 393.3,656.9 394.3,656.5 395.3,656.2 396.3,656.7 397.3,656.5 398.3,656.3 399.3,656.7 400.3,655.5 401.3,656.7 402.3,657.1 403.3,656.6 404.3,655.9 405.3,657.0 406.3,657.4 407.3,656.7 408.3,656.2 409.3,656.3 410.3,656.5 411.3,656.6 412.3,656.9 413.3,656.7 414.3,655.8 415.3,656.4 416.3,656.5 417.3,657.2 418.3,656.4 419.3,656.1 420.3,656.5 421.3,656.7 422.3,656.0 423.3,656.9 424.3,656.5 425.3,656.9 426.3,656.8 427.3,656.8 428.3,657.1 429.3,657.2 430.3,656.5 431.3,656.6 432.3,657.0 433.3,656.7 434.3,656.4 435.3,656.7 436.3,656.3 437.3,656.5 438.3,655.5 439.3,656.7 440.3,657.3 441.3,656.9 442.3,656.9 443.3,656.7 444.3,656.4 445.3,656.8 446.3,656.7 447.3,656.6 448.3,656.8 449.3,656.5 450.3,656.7 451.3,656.9 452.3,657.0 453.3,656.7 454.3,657.0 455.3,656.8 456.3,655.9 457.3,656.0 458.3,656.6 459.3,656.3 460.3,656.9 461.3,656.3 462.3,656.6 463.3,656.5 464.3,656.5 465.3,656.5 466.3,656.7 467.3,656.8 468.3,656.6 469.3,656.8 470.3,656.9 471.3,656.7 472.3,656.5 473.3,656.5 474.3,656.6 475.3,656.6 476.3,656.8 477.3,657.7 478.3,657.2 479.3,656.8 480.3,657.0 481.3,657.0 482.3,657.2 483.3,657.3 484.3,656.5 485.3,657.6 486.3,656.5 487.3,656.8 488.3,656.5 489.3,656.3 490.3,656.2 491.3,657.6 492.3,657.4 493.3,656.6 494.3,656.6 495.3,657.5 496.3,656.7 497.3,657.2 498.3,657.7 499.3,657.3 500.3,657.6 501.3,657.2 502.3,656.5 503.3,656.8 504.3,656.5 505.3,657.3 506.3,656.7 507.3,657.2 508.3,657.0 509.3,657.0 510.3,657.4 511.3,657.1 512.3,657.0 513.3,657.7 514.3,657.3 515.3,656.8 516.3,657.8 517.3,656.9 518.3,657.5 519.3,657.6 520.3,657.4 521.3,657.2 522.3,657.4 523.3,657.4 524.3,657.1 525.3,657.8 526.3,657.4 527.3,657.3 528.3,658.1 529.3,657.4 530.3,657.1 531.3,657.6 532.3,657.7 533.3,657.7 534.3,658.4 535.3,657.5 536.3,658.2 537.3,658.0 538.3,658.2 539.3,657.7 540.3,657.6 541.3,657.7 542.3,657.9 543.3,658.1 544.3,658.4 545.3,657.2 546.3,658.2 547.3,657.9 548.3,657.8 549.3,657.5 550.3,658.0 551.3,657.2 552.3,658.3 553.3,657.5 554.3,657.8 555.3,657.8 556.3,658.1 557.3,657.4 558.3,658.2 559.3,658.1 560.3,658.5 561.3,658.0 562.3,657.9 563.3,657.3 564.3,657.8 565.3,658.5 566.3,657.8 567.3,657.8 568.3,657.9 569.3,658.3 570.3,657.4 571.3,658.6 572.3,658.2 573.3,658.3 574.3,658.0 575.3,658.7 576.3,657.9 577.3,658.3 578.3,658.1 579.3,657.6 580.3,658.0 581.3,658.3 582.3,658.0 583.3,658.0 584.3,658.1 585.3,657.8 586.3,657.8 587.3,658.2 588.3,657.8 589.3,658.4 590.3,658.4 591.3,658.6 592.3,658.5 593.3,658.1 594.3,658.4 595.3,657.8 596.3,658.4 597.3,658.1 598.3,658.7 599.3,658.0 600.3,658.3 601.3,658.0 602.3,658.5 603.3,658.5 604.3,657.9 605.3,658.9 606.3,658.4 607.3,657.7 608.3,657.8 609.3,657.5 610.3,657.4 611.3,658.1 612.3,657.4 613.3,658.2 614.3,657.5 615.3,657.9 616.3,658.6 617.3,657.9 618.3,658.0 619.3,658.4 620.3,657.8 621.3,658.1 622.3,657.6 623.3,657.8 624.3,657.9 625.3,657.9 626.3,657.6 627.3,657.9 628.3,658.0 629.3,658.0 630.3,657.8 631.3,657.4 632.3,658.0 633.3,658.0 634.3,657.4 635.3,656.9 636.3,657.6 637.3,658.0 638.3,657.9 639.3,657.2 640.3,658.0 641.3,657.3 642.3,657.9 643.3,657.4 644.3,657.9 645.3,657.7 646.3,657.4 647.3,657.7 648.3,657.2 649.3,657.3 650.3,657.3 651.3,657.1 652.3,657.7 653.3,657.7 654.3,657.3 655.3,657.0 656.3,657.5 657.3,657.4 658.3,657.5 659.3,657.2 660.3,657.2 661.3,657.7 662.3,657.0 663.3,657.1 664.3,656.5 665.3,657.0 666.3,657.0 667.3,657.0 668.3,657.3 669.3,656.9 670.3,657.3 671.3,657.0 672.3,657.0 673.3,656.5 674.3,657.3 675.3,657.4 676.3,656.8 677.3,657.0 678.3,656.6 679.3,657.1 680.3,656.9 681.3,657.4 682.3,657.2 683.3,657.5 684.3,657.0 685.3,656.7 686.3,657.3 687.3,657.1 688.3,658.0 689.3,657.4 690.3,657.9 691.3,657.6 692.3,657.3 693.3,656.9 694.3,657.3 695.3,657.6 696.3,657.5 697.3,657.6 698.3,657.6 699.3,657.0 700.3,657.6 701.3,657.2 702.3,657.5 703.3,658.0 704.3,656.9 705.3,657.5 706.3,657.7 707.3,658.0 708.3,657.6 709.3,657.3 710.3,657.9 711.3,657.8 712.3,657.1 713.3,657.9 714.3,657.4 715.3,657.2 716.3,657.9 717.3,658.1 718.3,657.8 719.3,659.3 720.3,658.3 721.3,658.9 722.3,659.0 723.3,659.5 724.3,658.6 725.3,659.3 726.3,658.3 727.3,658.7 728.3,658.5 729.3,658.3 730.3,658.7 731.3,659.3 732.3,659.3 733.3,658.8 734.3,658.1 735.3,658.2 736.3,658.7 737.3,658.7 738.3,658.6 739.3,658.3 740.3,658.1 741.3,658.5 742.3,658.3 743.3,658.8 744.3,658.1 745.3,658.6 746.3,658.7 747.3,658.9 748.3,658.9 749.3,657.8 750.3,657.8 751.3,658.2 752.3,657.8 753.3,657.3 754.3,658.6 755.3,658.3 756.3,658.4 757.3,658.1 758.3,658.4 759.3,658.1 760.3,658.0" fill="none" stroke="#008000" stroke-width="2.0" stroke-linejoin="round"/>
<polyline points="786.6,564.5 787.2,562.3 787.9,564.2 788.5,564.0 789.2,563.7 789.8,562.1 790.5,562.9 791.1,563.3 791.8,562.4 792.4,562.4 793.1,562.9 793.7,562.7 794.4,561.0 795.0,562.0 795.7,561.7 796.3,561.9 797.0,561.1 797.6,560.3 798.3,561.7 798.9,561.5 799.6,560.0 800.2,559.6 800.9,560.1 801.5,561.5 802.2,560.6 802.8,560.5 803.5,561.2 804.1,562.1 804.8,561.7 805.4,561.4 806.1,561.9 806.7,563.0 807.4,562.7 808.0,562.2 808.7,564.6 809.3,564.9 810.0,564.5 810.6,563.7 811.3,565.0 811.9,565.9 812.6,565.7 813.2,564.8 813.9,565.8 814.5,564.8 815.2,564.0 815.8,562.5 816.5,562.5 817.1,563.1 817.8,561.4 818.4,559.9 819.1,560.8 819.7,562.2 820.4,561.1 821.0,561.5 821.7,562.1 822.3,563.3 823.0,562.5 823.6,562.6 824.3,564.6 824.9,565.5 825.6,564.3 826.2,564.3 826.9,564.9 827.5,566.6 828.2,566.6 828.8,565.8 829.5,567.0 830.1,568.2 830.8,567.1 831.4,567.0 832.1,568.4 832.7,568.5 833.4,567.9 834.0,568.0 834.7,568.2 835.3,568.9 836.0,568.0 836.6,567.2 837.3,569.0 837.9,568.4 838.6,568.3 839.2,567.3 839.9,567.9 840.5,568.0 841.2,567.3 841.8,566.8 842.5,567.7 843.1,566.7 843.8,566.4 844.4,565.3 845.1,565.8 845.7,566.3 846.4,565.2 847.0,564.4 847.7,565.3 848.3,566.7 849.0,564.7 849.6,564.1 850.3,564.4 850.9,565.8 851.6,564.0 852.2,563.4 852.9,564.1 853.5,565.0 854.2,563.7 854.8,563.2 855.5,564.6 856.1,566.0 856.8,565.3 857.4,565.1 858.1,567.0 858.7,568.1 859.4,566.2 860.0,565.7 860.7,567.9 861.3,568.1 862.0,567.6 862.6,566.8 863.3,567.3 863.9,568.8 864.6,567.7 865.2,566.5 865.9,567.6 866.5,568.5 867.2,567.3 867.8,566.0 868.5,567.8 869.1,568.5 869.8,566.7 870.4,565.6 871.1,567.6 871.7,567.7 872.4,566.6 873.0,564.7 873.7,566.7 874.3,567.6 875.0,566.1 875.6,565.3 876.3,566.5 876.9,567.3 877.6,565.3 878.2,564.0 878.9,565.4 879.5,566.3 880.2,565.1 880.8,564.4 881.5,565.5 882.1,566.3 882.8,564.9 883.4,563.4 884.1,564.8 884.7,565.0 885.4,563.1 886.0,561.5 886.7,562.0 887.3,562.7 888.0,560.7 888.6,561.2 889.3,563.0 889.9,563.5 890.6,562.4 891.2,562.3 891.9,563.6 892.5,566.0 893.2,564.4 893.8,563.9 894.5,565.9 895.1,566.6 895.8,564.6 896.4,563.9 897.1,564.0 897.7,565.0 898.4,563.4 899.0,562.1 899.7,564.2 900.3,565.3 901.0,562.4 901.6,561.7 902.3,563.4 902.9,563.4 903.6,562.1 904.2,560.8 904.9,562.4 905.5,562.7 906.2,562.2 906.8,561.5 907.5,562.6 908.1,562.9 908.8,562.0 909.4,561.7 910.1,562.3 910.7,563.0 911.4,561.4 912.0,561.5 912.7,562.8 913.3,563.7 914.0,561.7 914.6,560.8 915.3,562.7 915.9,563.1 916.6,561.1 917.2,560.6 917.9,560.9 918.5,562.0 919.2,561.7 919.8,561.7 920.5,562.6 921.1,564.4 921.8,563.9 922.4,564.6 923.1,565.8 923.7,567.5 924.4,567.7 925.0,567.6 925.7,569.1 926.3,570.3 927.0,569.7 927.6,568.7 928.3,569.6 928.9,570.0 929.6,569.9 930.2,568.9 930.9,569.9 931.5,570.0 932.2,568.8 932.8,568.8 933.5,569.8 934.1,570.0 934.8,569.1 935.4,568.5 936.1,569.5 936.7,569.7 937.4,568.7 938.0,567.7 938.7,568.4 939.3,570.4 940.0,568.0 940.6,567.7 941.3,568.2 941.9,567.8 942.6,567.9 943.2,566.8 943.9,567.1 944.5,568.1 945.2,566.6 945.8,566.3 946.5,566.1 947.1,566.6 947.8,565.7 948.4,564.2 949.1,564.3 949.7,564.7 950.4,563.9 951.0,562.0 951.7,562.6 952.3,563.6 953.0,562.0 953.6,561.0 954.3,561.5 954.9,562.1 955.6,560.9 956.2,559.8 956.9,559.6 957.5,560.8 958.2,558.5 958.8,558.8 959.5,558.7 960.1,559.4 960.8,558.0 961.4,557.1 962.1,559.0 962.7,559.5 963.4,559.2 964.0,558.0 964.7,559.1 965.3,560.9 966.0,559.3 966.6,558.1 967.3,559.2 967.9,561.2 968.6,559.8 969.2,559.2 969.9,560.0 970.5,560.9 971.2,559.6 971.8,559.7 972.5,560.7 973.1,562.0 973.8,559.7 974.4,560.3 975.1,561.1 975.7,561.4 976.4,560.7 977.0,560.6 977.7,562.5 978.3,561.8 979.0,560.9 979.6,560.7 980.3,561.5 980.9,562.9 981.6,561.2 982.2,560.8 982.9,561.7 983.5,563.1 984.2,561.5 984.8,561.0 985.5,562.5 986.1,563.8 986.8,562.1 987.4,561.8 988.1,562.0 988.7,563.5 989.4,562.5 990.0,561.3 990.7,561.8 991.3,563.9 992.0,562.2 992.6,562.6 993.3,563.2 993.9,564.5 994.6,562.5 995.2,562.3 995.9,562.5 996.5,564.2 997.2,563.1 997.8,561.9 998.5,564.5 999.1,565.1 999.8,564.4 1000.4,562.4 1001.1,564.2 1001.7,565.8 1002.4,564.0 1003.0,563.8 1003.7,565.2 1004.3,565.6 1005.0,564.7 1005.6,564.2 1006.3,565.5 1006.9,566.1 1007.6,564.7 1008.2,564.0 1008.9,565.8 1009.5,567.0 1010.2,564.3 1010.8,563.7 1011.5,565.3 1012.1,566.7 1012.8,564.6 1013.4,565.1 1014.1,566.3 1014.7,565.0 1015.4,564.8 1016.0,563.9 1016.7,564.3 1017.3,564.2 1018.0,563.7 1018.6,562.5 1019.3,564.0 1019.9,564.1 1020.6,562.2 1021.2,562.6 1021.9,563.3 1022.5,563.5 1023.2,561.7 1023.8,561.3 1024.5,562.2 1025.1,562.7 1025.8,561.6 1026.4,562.2 1027.1,562.4 1027.7,564.3 1028.4,562.9 1029.0,563.3 1029.7,564.2 1030.3,564.6 1031.0,564.1 1031.6,563.9 1032.3,565.6 1032.9,565.6 1033.6,564.6 1034.2,564.6 1034.9,564.6 1035.5,565.0 1036.2,564.5 1036.8,564.8 1037.5,565.1 1038.1,565.7 1038.8,565.0 1039.4,564.3 1040.1,565.7 1040.7,565.9 1041.4,564.4 1042.0,563.9 1042.7,565.0 1043.3,565.0 1044.0,564.5 1044.6,564.3 1045.3,564.8 1045.9,565.2 1046.6,564.1 1047.2,563.5 1047.9,564.1 1048.5,566.3 1049.2,571.4" fill="none" stroke="#0020bf" stroke-width="2.2" stroke-linejoin="round"/>
<polyline points="786.6,630.9 787.6,630.8 788.6,630.9 789.6,630.5 790.6,629.8 791.6,631.4 792.6,629.9 793.6,630.5 794.6,629.7 795.6,630.4 796.6,629.5 797.6,630.7 798.6,630.1 799.6,629.0 800.6,630.4 801.6,628.9 802.6,629.6 803.6,630.4 804.6,629.8 805.6,630.6 806.6,630.1 807.6,629.9 808.6,630.8 809.6,630.3 810.6,630.2 811.6,630.9 812.6,630.4 813.6,630.0 814.6,630.4 815.6,631.9 816.6,631.9 817.6,630.2 818.6,631.4 819.6,631.6 820.6,631.0 821.6,631.5 822.6,630.8 823.6,631.2 824.6,631.9 825.6,631.5 826.6,631.5 827.6,631.6 828.6,631.1 829.6,631.3 830.6,631.6 831.6,631.9 832.6,631.6 833.6,633.0 834.6,631.4 835.6,631.8 836.6,632.0 837.6,632.6 838.6,631.6 839.6,632.4 840.6,631.8 841.6,631.8 842.6,632.3 843.6,632.5 844.6,632.5 845.6,631.5 846.6,632.4 847.6,632.4 848.6,632.0 849.6,632.0 850.6,631.8 851.6,631.7 852.6,632.1 853.6,632.4 854.6,631.5 855.6,631.7 856.6,632.0 857.6,630.8 858.6,632.2 859.6,631.6 860.6,632.0 861.6,631.2 862.6,630.9 863.6,631.2 864.6,631.3 865.6,630.7 866.6,631.5 867.6,631.2 868.6,630.5 869.6,631.2 870.6,630.9 871.6,630.9 872.6,630.7 873.6,630.5 874.6,630.2 875.6,630.8 876.6,630.7 877.6,630.8 878.6,630.2 879.6,630.7 880.6,630.9 881.6,629.9 882.6,630.5 883.6,631.4 884.6,630.1 885.6,630.1 886.6,630.2 887.6,629.9 888.6,630.5 889.6,630.0 890.6,630.0 891.6,629.6 892.6,630.2 893.6,629.8 894.6,629.6 895.6,629.6 896.6,630.4 897.6,629.6 898.6,629.6 899.6,630.1 900.6,629.3 901.6,629.8 902.6,628.8 903.6,629.5 904.6,628.1 905.6,629.1 906.6,628.8 907.6,628.6 908.6,629.3 909.6,629.1 910.6,629.2 911.6,629.6 912.6,629.2 913.6,629.3 914.6,629.1 915.6,630.0 916.6,629.7 917.6,629.0 918.6,629.0 919.6,629.1 920.6,629.2 921.6,630.2 922.6,629.8 923.6,630.3 924.6,629.5 925.6,629.6 926.6,630.6 927.6,629.2 928.6,629.6 929.6,629.3 930.6,630.0 931.6,631.6 932.6,630.1 933.6,631.0 934.6,631.3 935.6,630.2 936.6,630.1 937.6,630.5 938.6,630.6 939.6,629.5 940.6,629.8 941.6,630.8 942.6,629.6 943.6,630.1 944.6,630.4 945.6,629.7 946.6,629.7 947.6,629.4 948.6,629.3 949.6,629.3 950.6,628.7 951.6,629.2 952.6,629.2 953.6,629.6 954.6,629.0 955.6,628.8 956.6,629.9 957.6,629.0 958.6,628.8 959.6,628.6 960.6,628.8 961.6,628.4 962.6,628.5 963.6,628.3 964.6,628.1 965.6,628.5 966.6,628.0 967.6,629.4 968.6,628.1 969.6,629.4 970.6,628.7 971.6,629.0 972.6,629.2 973.6,627.8 974.6,629.3 975.6,628.7 976.6,628.3 977.6,628.1 978.6,628.6 979.6,627.7 980.6,629.2 981.6,628.3 982.6,628.8 983.6,628.4 984.6,628.2 985.6,628.2 986.6,627.9 987.6,628.9 988.6,628.3 989.6,628.5 990.6,628.5 991.6,628.6 992.6,628.4 993.6,628.8 994.6,627.9 995.6,627.7 996.6,628.1 997.6,628.0 998.6,628.2 999.6,628.6 1000.6,628.5 1001.6,628.3 1002.6,627.7 1003.6,628.3 1004.6,628.1 1005.6,628.4 1006.6,628.0 1007.6,627.8 1008.6,628.0 1009.6,627.6 1010.6,627.5 1011.6,628.0 1012.6,627.9 1013.6,628.3 1014.6,627.8 1015.6,627.1 1016.6,628.2 1017.6,628.2 1018.6,626.9 1019.6,627.1 1020.6,627.7 1021.6,627.2 1022.6,626.4 1023.6,627.5 1024.6,627.0 1025.6,627.2 1026.6,627.6 1027.6,626.8 1028.6,626.8 1029.6,627.5 1030.6,627.6 1031.6,627.3 1032.6,627.8 1033.6,627.5 1034.6,627.8 1035.6,627.0 1036.6,627.3 1037.6,627.9 1038.6,627.1 1039.6,627.2 1040.6,627.6 1041.6,627.5 1042.6,627.2 1043.6,627.0 1044.6,628.3 1045.6,627.8 1046.6,628.4 1047.6,627.4 1048.6,630.0 1049.6,634.5" fill="none" stroke="#004080" stroke-width="2.0" stroke-linejoin="round"/>
<polyline points="786.6,645.5 787.6,644.9 788.6,646.0 789.6,645.4 790.6,645.6 791.6,645.2 792.6,646.2 793.6,645.0 794.6,646.4 795.6,645.5 796.6,645.6 797.6,645.5 798.6,646.3 799.6,645.4 800.6,645.4 801.6,645.4 802.6,646.0 803.6,646.1 804.6,645.6 805.6,646.1 806.6,646.5 807.6,646.2 808.6,646.1 809.6,645.6 810.6,646.6 811.6,646.3 812.6,645.5 813.6,645.8 814.6,645.0 815.6,646.3 816.6,645.7 817.6,646.1 818.6,646.8 819.6,645.7 820.6,646.6 821.6,646.2 822.6,645.9 823.6,646.8 824.6,646.5 825.6,646.1 826.6,646.6 827.6,646.2 828.6,646.1 829.6,646.3 830.6,646.9 831.6,645.9 832.6,646.0 833.6,646.9 834.6,646.0 835.6,646.5 836.6,646.5 837.6,646.1 838.6,646.3 839.6,646.5 840.6,646.5 841.6,646.8 842.6,646.6 843.6,646.8 844.6,646.5 845.6,646.3 846.6,646.7 847.6,646.6 848.6,646.7 849.6,646.3 850.6,646.3 851.6,646.2 852.6,645.7 853.6,646.4 854.6,645.9 855.6,645.9 856.6,646.0 857.6,647.0 858.6,645.8 859.6,646.7 860.6,645.2 861.6,645.9 862.6,646.8 863.6,646.1 864.6,646.1 865.6,645.7 866.6,645.1 867.6,646.1 868.6,646.2 869.6,646.3 870.6,646.6 871.6,645.8 872.6,646.0 873.6,644.9 874.6,645.6 875.6,645.8 876.6,646.2 877.6,646.4 878.6,646.3 879.6,645.8 880.6,645.5 881.6,645.5 882.6,645.5 883.6,645.6 884.6,645.9 885.6,645.4 886.6,644.8 887.6,644.9 888.6,646.5 889.6,645.9 890.6,645.1 891.6,645.2 892.6,645.6 893.6,645.4 894.6,645.4 895.6,644.4 896.6,644.6 897.6,645.2 898.6,645.4 899.6,645.2 900.6,645.7 901.6,645.1 902.6,645.1 903.6,645.0 904.6,645.4 905.6,644.7 906.6,645.7 907.6,644.5 908.6,645.2 909.6,645.1 910.6,645.5 911.6,644.5 912.6,644.6 913.6,644.9 914.6,645.3 915.6,645.4 916.6,644.1 917.6,645.0 918.6,645.3 919.6,645.3 920.6,645.4 921.6,645.2 922.6,645.4 923.6,644.6 924.6,645.7 925.6,644.5 926.6,645.4 927.6,645.1 928.6,645.7 929.6,645.2 930.6,646.0 931.6,645.8 932.6,645.9 933.6,646.1 934.6,646.2 935.6,645.6 936.6,646.0 937.6,645.8 938.6,645.9 939.6,645.6 940.6,644.4 941.6,645.3 942.6,645.4 943.6,645.1 944.6,645.0 945.6,645.3 946.6,644.9 947.6,645.4 948.6,645.6 949.6,645.1 950.6,645.3 951.6,644.5 952.6,644.5 953.6,644.7 954.6,644.5 955.6,644.8 956.6,644.8 957.6,645.3 958.6,644.4 959.6,645.1 960.6,644.2 961.6,644.4 962.6,644.8 963.6,644.6 964.6,643.5 965.6,644.5 966.6,644.7 967.6,643.9 968.6,644.3 969.6,644.3 970.6,644.6 971.6,644.9 972.6,643.9 973.6,644.0 974.6,645.0 975.6,644.9 976.6,645.0 977.6,644.4 978.6,644.8 979.6,643.4 980.6,644.5 981.6,643.9 982.6,643.8 983.6,643.9 984.6,644.7 985.6,644.9 986.6,644.1 987.6,644.1 988.6,644.7 989.6,644.0 990.6,644.3 991.6,644.5 992.6,644.7 993.6,644.1 994.6,643.1 995.6,644.1 996.6,644.4 997.6,644.0 998.6,643.9 999.6,643.8 1000.6,644.3 1001.6,644.2 1002.6,644.2 1003.6,644.1 1004.6,644.6 1005.6,644.2 1006.6,644.0 1007.6,643.6 1008.6,643.9 1009.6,644.0 1010.6,644.6 1011.6,644.2 1012.6,643.9 1013.6,644.3 1014.6,644.2 1015.6,643.8 1016.6,644.1 1017.6,643.5 1018.6,644.0 1019.6,644.7 1020.6,644.3 1021.6,644.2 1022.6,644.2 1023.6,644.2 1024.6,643.4 1025.6,643.7 1026.6,643.6 1027.6,644.0 1028.6,644.2 1029.6,644.6 1030.6,643.8 1031.6,643.4 1032.6,643.9 1033.6,643.8 1034.6,643.9 1035.6,643.8 1036.6,644.0 1037.6,643.5 1038.6,643.9 1039.6,644.1 1040.6,643.8 1041.6,643.9 1042.6,643.4 1043.6,644.0 1044.6,643.6 1045.6,643.4 1046.6,643.6 1047.6,643.5 1048.6,645.1 1049.6,648.1" fill="none" stroke="#006040" stroke-width="2.0" stroke-linejoin="round"/>
<polyline points="786.6,659.4 787.6,659.1 788.6,659.0 789.6,659.0 790.6,658.9 791.6,659.2 792.6,658.8 793.6,658.9 794.6,658.7 795.6,659.4 796.6,659.4 797.6,659.4 798.6,659.4 799.6,658.2 800.6,659.1 801.6,659.4 802.6,659.3 803.6,658.6 804.6,659.2 805.6,659.4 806.6,659.0 807.6,658.8 808.6,659.0 809.6,658.2 810.6,659.3 811.6,659.0 812.6,659.2 813.6,659.2 814.6,659.3 815.6,659.9 816.6,659.0 817.6,659.3 818.6,658.6 819.6,659.2 820.6,658.7 821.6,659.7 822.6,659.4 823.6,659.2 824.6,659.8 825.6,659.1 826.6,659.4 827.6,659.2 828.6,659.2 829.6,659.5 830.6,659.4 831.6,659.5 832.6,659.2 833.6,659.1 834.6,660.1 835.6,659.8 836.6,659.6 837.6,659.8 838.6,659.3 839.6,659.8 840.6,659.1 841.6,659.8 842.6,659.7 843.6,659.6 844.6,659.8 845.6,659.5 846.6,660.1 847.6,659.7 848.6,659.0 849.6,659.2 850.6,660.0 851.6,659.3 852.6,659.6 853.6,659.2 854.6,659.9 855.6,659.8 856.6,659.7 857.6,659.2 858.6,659.3 859.6,659.8 860.6,659.1 861.6,658.6 862.6,659.8 863.6,659.6 864.6,658.8 865.6,659.3 866.6,659.4 867.6,659.3 868.6,659.8 869.6,659.6 870.6,658.9 871.6,659.1 872.6,659.5 873.6,659.4 874.6,659.0 875.6,659.5 876.6,658.8 877.6,659.3 878.6,658.4 879.6,659.2 880.6,659.7 881.6,659.5 882.6,658.7 883.6,657.9 884.6,659.0 885.6,659.3 886.6,658.9 887.6,659.0 888.6,658.4 889.6,658.7 890.6,658.4 891.6,658.4 892.6,658.6 893.6,659.3 894.6,658.9 895.6,658.5 896.6,658.7 897.6,658.4 898.6,658.5 899.6,658.7 900.6,658.1 901.6,658.7 902.6,658.4 903.6,659.0 904.6,658.3 905.6,658.6 906.6,658.2 907.6,658.7 908.6,657.9 909.6,658.3 910.6,658.2 911.6,658.0 912.6,658.4 913.6,658.5 914.6,658.4 915.6,658.3 916.6,658.4 917.6,658.4 918.6,659.1 919.6,658.9 920.6,659.2 921.6,659.1 922.6,659.4 923.6,658.9 924.6,659.0 925.6,658.9 926.6,658.8 927.6,659.2 928.6,659.1 929.6,659.2 930.6,659.1 931.6,659.4 932.6,658.6 933.6,659.3 934.6,659.1 935.6,658.9 936.6,658.9 937.6,659.2 938.6,659.3 939.6,658.9 940.6,659.2 941.6,659.0 942.6,659.2 943.6,659.2 944.6,659.1 945.6,658.6 946.6,658.3 947.6,659.2 948.6,658.4 949.6,658.9 950.6,658.6 951.6,659.1 952.6,658.5 953.6,658.4 954.6,657.8 955.6,658.6 956.6,658.4 957.6,658.2 958.6,658.2 959.6,658.7 960.6,658.4 961.6,658.5 962.6,658.2 963.6,658.4 964.6,658.6 965.6,658.2 966.6,658.7 967.6,658.2 968.6,658.9 969.6,658.1 970.6,658.1 971.6,658.3 972.6,658.2 973.6,658.3 974.6,658.3 975.6,658.7 976.6,658.1 977.6,658.7 978.6,658.6 979.6,658.4 980.6,658.3 981.6,659.0 982.6,657.5 983.6,658.2 984.6,658.3 985.6,658.5 986.6,658.4 987.6,658.7 988.6,658.5 989.6,658.7 990.6,658.2 991.6,658.5 992.6,658.9 993.6,658.1 994.6,658.4 995.6,657.9 996.6,658.5 997.6,658.1 998.6,658.6 999.6,658.0 1000.6,658.4 1001.6,658.0 1002.6,658.4 1003.6,658.5 1004.6,659.2 1005.6,658.5 1006.6,658.6 1007.6,659.0 1008.6,658.8 1009.6,658.1 1010.6,658.6 1011.6,658.5 1012.6,658.7 1013.6,658.6 1014.6,657.8 1015.6,658.2 1016.6,659.0 1017.6,658.7 1018.6,658.1 1019.6,658.3 1020.6,658.3 1021.6,658.0 1022.6,657.3 1023.6,658.6 1024.6,658.1 1025.6,658.2 1026.6,658.2 1027.6,658.3 1028.6,658.3 1029.6,659.0 1030.6,658.3 1031.6,658.6 1032.6,658.4 1033.6,658.9 1034.6,658.5 1035.6,657.7 1036.6,659.1 1037.6,659.0 1038.6,658.7 1039.6,657.9 1040.6,658.9 1041.6,658.6 1042.6,658.2 1043.6,658.3 1044.6,658.9 1045.6,658.3 1046.6,658.4 1047.6,658.2 1048.6,659.0 1049.6,659.3" fill="none" stroke="#008000" stroke-width="2.0" stroke-linejoin="round"/>
<rect x="206.3" y="670.1" width="554.0" height="2.0" fill="#406000"/>
<rect x="206.3" y="673.1" width="554.0" height="1.2" fill="#804000"/>
<rect x="206.3" y="674.2" width="554.0" height="1.5" fill="#bf2000"/>
<rect x="206.3" y="675.6" width="554.0" height="1.5" fill="#ff0000"/>
<rect x="786.6" y="670.1" width="263.19999999999993" height="2.0" fill="#406000"/>
<rect x="786.6" y="673.1" width="263.19999999999993" height="1.2" fill="#804000"/>
<rect x="786.6" y="674.2" width="263.19999999999993" height="1.5" fill="#bf2000"/>
<rect x="786.6" y="675.6" width="263.19999999999993" height="1.5" fill="#ff0000"/>
<rect x="206.3" y="681.1" width="554.0" height="3.8" fill="#0000ff"/>
<path d="M760.3,682.3 L763,681 L766,680.9 L770,682 L784,682.6 L786,684 L787,682.5" stroke="#0000ff" stroke-width="2.2" fill="none"/>
<rect x="786.6" y="681.1" width="263.19999999999993" height="3.8" fill="#0000ff"/>
<path d="M1049.8,680.9 L1073.8,680.9 L1073.8,686.7 L1070,687.3 L1064,688 L1057,688 L1053,686.7 L1049.8,683.8 Z" fill="#0000ff"/>
<g fill="none" stroke-width="0.9" stroke-opacity="0.45">
<line x1="760.4" y1="534" x2="760.4" y2="680" stroke="#0020bf" stroke-dasharray="0.9 9"/>
<line x1="760.4" y1="640" x2="760.4" y2="680" stroke="#006040" stroke-dasharray="0.9 3"/>
<line x1="786.6" y1="484" x2="786.6" y2="680" stroke="#0020bf" stroke-dasharray="0.9 7"/>
<line x1="786.6" y1="600" x2="786.6" y2="680" stroke="#004080" stroke-dasharray="0.9 2.5"/>
<line x1="1049.8" y1="483" x2="1049.8" y2="502" stroke="#0020bf" stroke-dasharray="0.9 1.2"/>
<line x1="1049.8" y1="502" x2="1049.8" y2="680" stroke="#0020bf" stroke-dasharray="0.9 11"/>
</g>
<g stroke="#000" stroke-width="1.11" fill="none" stroke-linecap="square">
<line x1="74.5" y1="65.5" x2="1229.5" y2="65.5"/>
<line x1="74.5" y1="273.5" x2="1229.5" y2="273.5"/>
<line x1="74.5" y1="481.5" x2="1229.5" y2="481.5"/>
<line x1="74.5" y1="689.5" x2="1229.5" y2="689.5"/>
<line x1="74.5" y1="65.5" x2="74.5" y2="689.5"/><line x1="1229.5" y1="65.5" x2="1229.5" y2="689.5"/>
</g>
<g stroke="#000" stroke-width="1.11" fill="none">
<line x1="74.5" y1="65.5" x2="74.5" y2="62.22"/>
<line x1="74.5" y1="273.5" x2="74.5" y2="276.78"/>
<line x1="74.5" y1="481.5" x2="74.5" y2="484.78"/>
<line x1="74.5" y1="689.5" x2="74.5" y2="692.78"/>
<line x1="92.5" y1="65.5" x2="92.5" y2="62.22"/>
<line x1="92.5" y1="273.5" x2="92.5" y2="276.78"/>
<line x1="92.5" y1="481.5" x2="92.5" y2="484.78"/>
<line x1="92.5" y1="689.5" x2="92.5" y2="692.78"/>
<line x1="110.5" y1="65.5" x2="110.5" y2="60.14"/>
<line x1="110.5" y1="273.5" x2="110.5" y2="278.86"/>
<line x1="110.5" y1="481.5" x2="110.5" y2="486.86"/>
<line x1="110.5" y1="689.5" x2="110.5" y2="694.86"/>
<line x1="128.5" y1="65.5" x2="128.5" y2="62.22"/>
<line x1="128.5" y1="273.5" x2="128.5" y2="276.78"/>
<line x1="128.5" y1="481.5" x2="128.5" y2="484.78"/>
<line x1="128.5" y1="689.5" x2="128.5" y2="692.78"/>
<line x1="147.5" y1="65.5" x2="147.5" y2="62.22"/>
<line x1="147.5" y1="273.5" x2="147.5" y2="276.78"/>
<line x1="147.5" y1="481.5" x2="147.5" y2="484.78"/>
<line x1="147.5" y1="689.5" x2="147.5" y2="692.78"/>
<line x1="165.5" y1="65.5" x2="165.5" y2="62.22"/>
<line x1="165.5" y1="273.5" x2="165.5" y2="276.78"/>
<line x1="165.5" y1="481.5" x2="165.5" y2="484.78"/>
<line x1="165.5" y1="689.5" x2="165.5" y2="692.78"/>
<line x1="183.5" y1="65.5" x2="183.5" y2="62.22"/>
<line x1="183.5" y1="273.5" x2="183.5" y2="276.78"/>
<line x1="183.5" y1="481.5" x2="183.5" y2="484.78"/>
<line x1="183.5" y1="689.5" x2="183.5" y2="692.78"/>
<line x1="201.5" y1="65.5" x2="201.5" y2="62.22"/>
<line x1="201.5" y1="273.5" x2="201.5" y2="276.78"/>
<line x1="201.5" y1="481.5" x2="201.5" y2="484.78"/>
<line x1="201.5" y1="689.5" x2="201.5" y2="692.78"/>
<line x1="219.5" y1="65.5" x2="219.5" y2="60.14"/>
<line x1="219.5" y1="273.5" x2="219.5" y2="278.86"/>
<line x1="219.5" y1="481.5" x2="219.5" y2="486.86"/>
<line x1="219.5" y1="689.5" x2="219.5" y2="694.86"/>
<line x1="237.5" y1="65.5" x2="237.5" y2="62.22"/>
<line x1="237.5" y1="273.5" x2="237.5" y2="276.78"/>
<line x1="237.5" y1="481.5" x2="237.5" y2="484.78"/>
<line x1="237.5" y1="689.5" x2="237.5" y2="692.78"/>
<line x1="255.5" y1="65.5" x2="255.5" y2="62.22"/>
<line x1="255.5" y1="273.5" x2="255.5" y2="276.78"/>
<line x1="255.5" y1="481.5" x2="255.5" y2="484.78"/>
<line x1="255.5" y1="689.5" x2="255.5" y2="692.78"/>
<line x1="273.5" y1="65.5" x2="273.5" y2="62.22"/>
<line x1="273.5" y1="273.5" x2="273.5" y2="276.78"/>
<line x1="273.5" y1="481.5" x2="273.5" y2="484.78"/>
<line x1="273.5" y1="689.5" x2="273.5" y2="692.78"/>
<line x1="291.5" y1="65.5" x2="291.5" y2="62.22"/>
<line x1="291.5" y1="273.5" x2="291.5" y2="276.78"/>
<line x1="291.5" y1="481.5" x2="291.5" y2="484.78"/>
<line x1="291.5" y1="689.5" x2="291.5" y2="692.78"/>
<line x1="309.5" y1="65.5" x2="309.5" y2="62.22"/>
<line x1="309.5" y1="273.5" x2="309.5" y2="276.78"/>
<line x1="309.5" y1="481.5" x2="309.5" y2="484.78"/>
<line x1="309.5" y1="689.5" x2="309.5" y2="692.78"/>
<line x1="327.5" y1="65.5" x2="327.5" y2="60.14"/>
<line x1="327.5" y1="273.5" x2="327.5" y2="278.86"/>
<line x1="327.5" y1="481.5" x2="327.5" y2="486.86"/>
<line x1="327.5" y1="689.5" x2="327.5" y2="694.86"/>
<line x1="345.5" y1="65.5" x2="345.5" y2="62.22"/>
<line x1="345.5" y1="273.5" x2="345.5" y2="276.78"/>
<line x1="345.5" y1="481.5" x2="345.5" y2="484.78"/>
<line x1="345.5" y1="689.5" x2="345.5" y2="692.78"/>
<line x1="363.5" y1="65.5" x2="363.5" y2="62.22"/>
<line x1="363.5" y1="273.5" x2="363.5" y2="276.78"/>
<line x1="363.5" y1="481.5" x2="363.5" y2="484.78"/>
<line x1="363.5" y1="689.5" x2="363.5" y2="692.78"/>
<line x1="381.5" y1="65.5" x2="381.5" y2="62.22"/>
<line x1="381.5" y1="273.5" x2="381.5" y2="276.78"/>
<line x1="381.5" y1="481.5" x2="381.5" y2="484.78"/>
<line x1="381.5" y1="689.5" x2="381.5" y2="692.78"/>
<line x1="399.5" y1="65.5" x2="399.5" y2="62.22"/>
<line x1="399.5" y1="273.5" x2="399.5" y2="276.78"/>
<line x1="399.5" y1="481.5" x2="399.5" y2="484.78"/>
<line x1="399.5" y1="689.5" x2="399.5" y2="692.78"/>
<line x1="417.5" y1="65.5" x2="417.5" y2="62.22"/>
<line x1="417.5" y1="273.5" x2="417.5" y2="276.78"/>
<line x1="417.5" y1="481.5" x2="417.5" y2="484.78"/>
<line x1="417.5" y1="689.5" x2="417.5" y2="692.78"/>
<line x1="435.5" y1="65.5" x2="435.5" y2="60.14"/>
<line x1="435.5" y1="273.5" x2="435.5" y2="278.86"/>
<line x1="435.5" y1="481.5" x2="435.5" y2="486.86"/>
<line x1="435.5" y1="689.5" x2="435.5" y2="694.86"/>
<line x1="453.5" y1="65.5" x2="453.5" y2="62.22"/>
<line x1="453.5" y1="273.5" x2="453.5" y2="276.78"/>
<line x1="453.5" y1="481.5" x2="453.5" y2="484.78"/>
<line x1="453.5" y1="689.5" x2="453.5" y2="692.78"/>
<line x1="471.5" y1="65.5" x2="471.5" y2="62.22"/>
<line x1="471.5" y1="273.5" x2="471.5" y2="276.78"/>
<line x1="471.5" y1="481.5" x2="471.5" y2="484.78"/>
<line x1="471.5" y1="689.5" x2="471.5" y2="692.78"/>
<line x1="489.5" y1="65.5" x2="489.5" y2="62.22"/>
<line x1="489.5" y1="273.5" x2="489.5" y2="276.78"/>
<line x1="489.5" y1="481.5" x2="489.5" y2="484.78"/>
<line x1="489.5" y1="689.5" x2="489.5" y2="692.78"/>
<line x1="507.5" y1="65.5" x2="507.5" y2="62.22"/>
<line x1="507.5" y1="273.5" x2="507.5" y2="276.78"/>
<line x1="507.5" y1="481.5" x2="507.5" y2="484.78"/>
<line x1="507.5" y1="689.5" x2="507.5" y2="692.78"/>
<line x1="525.5" y1="65.5" x2="525.5" y2="62.22"/>
<line x1="525.5" y1="273.5" x2="525.5" y2="276.78"/>
<line x1="525.5" y1="481.5" x2="525.5" y2="484.78"/>
<line x1="525.5" y1="689.5" x2="525.5" y2="692.78"/>
<line x1="543.5" y1="65.5" x2="543.5" y2="60.14"/>
<line x1="543.5" y1="273.5" x2="543.5" y2="278.86"/>
<line x1="543.5" y1="481.5" x2="543.5" y2="486.86"/>
<line x1="543.5" y1="689.5" x2="543.5" y2="694.86"/>
<line x1="561.5" y1="65.5" x2="561.5" y2="62.22"/>
<line x1="561.5" y1="273.5" x2="561.5" y2="276.78"/>
<line x1="561.5" y1="481.5" x2="561.5" y2="484.78"/>
<line x1="561.5" y1="689.5" x2="561.5" y2="692.78"/>
<line x1="580.5" y1="65.5" x2="580.5" y2="62.22"/>
<line x1="580.5" y1="273.5" x2="580.5" y2="276.78"/>
<line x1="580.5" y1="481.5" x2="580.5" y2="484.78"/>
<line x1="580.5" y1="689.5" x2="580.5" y2="692.78"/>
<line x1="598.5" y1="65.5" x2="598.5" y2="62.22"/>
<line x1="598.5" y1="273.5" x2="598.5" y2="276.78"/>
<line x1="598.5" y1="481.5" x2="598.5" y2="484.78"/>
<line x1="598.5" y1="689.5" x2="598.5" y2="692.78"/>
<line x1="616.5" y1="65.5" x2="616.5" y2="62.22"/>
<line x1="616.5" y1="273.5" x2="616.5" y2="276.78"/>
<line x1="616.5" y1="481.5" x2="616.5" y2="484.78"/>
<line x1="616.5" y1="689.5" x2="616.5" y2="692.78"/>
<line x1="634.5" y1="65.5" x2="634.5" y2="62.22"/>
<line x1="634.5" y1="273.5" x2="634.5" y2="276.78"/>
<line x1="634.5" y1="481.5" x2="634.5" y2="484.78"/>
<line x1="634.5" y1="689.5" x2="634.5" y2="692.78"/>
<line x1="652.5" y1="65.5" x2="652.5" y2="60.14"/>
<line x1="652.5" y1="273.5" x2="652.5" y2="278.86"/>
<line x1="652.5" y1="481.5" x2="652.5" y2="486.86"/>
<line x1="652.5" y1="689.5" x2="652.5" y2="694.86"/>
<line x1="670.5" y1="65.5" x2="670.5" y2="62.22"/>
<line x1="670.5" y1="273.5" x2="670.5" y2="276.78"/>
<line x1="670.5" y1="481.5" x2="670.5" y2="484.78"/>
<line x1="670.5" y1="689.5" x2="670.5" y2="692.78"/>
<line x1="688.5" y1="65.5" x2="688.5" y2="62.22"/>
<line x1="688.5" y1="273.5" x2="688.5" y2="276.78"/>
<line x1="688.5" y1="481.5" x2="688.5" y2="484.78"/>
<line x1="688.5" y1="689.5" x2="688.5" y2="692.78"/>
<line x1="706.5" y1="65.5" x2="706.5" y2="62.22"/>
<line x1="706.5" y1="273.5" x2="706.5" y2="276.78"/>
<line x1="706.5" y1="481.5" x2="706.5" y2="484.78"/>
<line x1="706.5" y1="689.5" x2="706.5" y2="692.78"/>
<line x1="724.5" y1="65.5" x2="724.5" y2="62.22"/>
<line x1="724.5" y1="273.5" x2="724.5" y2="276.78"/>
<line x1="724.5" y1="481.5" x2="724.5" y2="484.78"/>
<line x1="724.5" y1="689.5" x2="724.5" y2="692.78"/>
<line x1="742.5" y1="65.5" x2="742.5" y2="62.22"/>
<line x1="742.5" y1="273.5" x2="742.5" y2="276.78"/>
<line x1="742.5" y1="481.5" x2="742.5" y2="484.78"/>
<line x1="742.5" y1="689.5" x2="742.5" y2="692.78"/>
<line x1="760.5" y1="65.5" x2="760.5" y2="60.14"/>
<line x1="760.5" y1="273.5" x2="760.5" y2="278.86"/>
<line x1="760.5" y1="481.5" x2="760.5" y2="486.86"/>
<line x1="760.5" y1="689.5" x2="760.5" y2="694.86"/>
<line x1="778.5" y1="65.5" x2="778.5" y2="62.22"/>
<line x1="778.5" y1="273.5" x2="778.5" y2="276.78"/>
<line x1="778.5" y1="481.5" x2="778.5" y2="484.78"/>
<line x1="778.5" y1="689.5" x2="778.5" y2="692.78"/>
<line x1="796.5" y1="65.5" x2="796.5" y2="62.22"/>
<line x1="796.5" y1="273.5" x2="796.5" y2="276.78"/>
<line x1="796.5" y1="481.5" x2="796.5" y2="484.78"/>
<line x1="796.5" y1="689.5" x2="796.5" y2="692.78"/>
<line x1="814.5" y1="65.5" x2="814.5" y2="62.22"/>
<line x1="814.5" y1="273.5" x2="814.5" y2="276.78"/>
<line x1="814.5" y1="481.5" x2="814.5" y2="484.78"/>
<line x1="814.5" y1="689.5" x2="814.5" y2="692.78"/>
<line x1="832.5" y1="65.5" x2="832.5" y2="62.22"/>
<line x1="832.5" y1="273.5" x2="832.5" y2="276.78"/>
<line x1="832.5" y1="481.5" x2="832.5" y2="484.78"/>
<line x1="832.5" y1="689.5" x2="832.5" y2="692.78"/>
<line x1="850.5" y1="65.5" x2="850.5" y2="62.22"/>
<line x1="850.5" y1="273.5" x2="850.5" y2="276.78"/>
<line x1="850.5" y1="481.5" x2="850.5" y2="484.78"/>
<line x1="850.5" y1="689.5" x2="850.5" y2="692.78"/>
<line x1="868.5" y1="65.5" x2="868.5" y2="60.14"/>
<line x1="868.5" y1="273.5" x2="868.5" y2="278.86"/>
<line x1="868.5" y1="481.5" x2="868.5" y2="486.86"/>
<line x1="868.5" y1="689.5" x2="868.5" y2="694.86"/>
<line x1="886.5" y1="65.5" x2="886.5" y2="62.22"/>
<line x1="886.5" y1="273.5" x2="886.5" y2="276.78"/>
<line x1="886.5" y1="481.5" x2="886.5" y2="484.78"/>
<line x1="886.5" y1="689.5" x2="886.5" y2="692.78"/>
<line x1="904.5" y1="65.5" x2="904.5" y2="62.22"/>
<line x1="904.5" y1="273.5" x2="904.5" y2="276.78"/>
<line x1="904.5" y1="481.5" x2="904.5" y2="484.78"/>
<line x1="904.5" y1="689.5" x2="904.5" y2="692.78"/>
<line x1="922.5" y1="65.5" x2="922.5" y2="62.22"/>
<line x1="922.5" y1="273.5" x2="922.5" y2="276.78"/>
<line x1="922.5" y1="481.5" x2="922.5" y2="484.78"/>
<line x1="922.5" y1="689.5" x2="922.5" y2="692.78"/>
<line x1="940.5" y1="65.5" x2="940.5" y2="62.22"/>
<line x1="940.5" y1="273.5" x2="940.5" y2="276.78"/>
<line x1="940.5" y1="481.5" x2="940.5" y2="484.78"/>
<line x1="940.5" y1="689.5" x2="940.5" y2="692.78"/>
<line x1="958.5" y1="65.5" x2="958.5" y2="62.22"/>
<line x1="958.5" y1="273.5" x2="958.5" y2="276.78"/>
<line x1="958.5" y1="481.5" x2="958.5" y2="484.78"/>
<line x1="958.5" y1="689.5" x2="958.5" y2="692.78"/>
<line x1="976.5" y1="65.5" x2="976.5" y2="60.14"/>
<line x1="976.5" y1="273.5" x2="976.5" y2="278.86"/>
<line x1="976.5" y1="481.5" x2="976.5" y2="486.86"/>
<line x1="976.5" y1="689.5" x2="976.5" y2="694.86"/>
<line x1="994.5" y1="65.5" x2="994.5" y2="62.22"/>
<line x1="994.5" y1="273.5" x2="994.5" y2="276.78"/>
<line x1="994.5" y1="481.5" x2="994.5" y2="484.78"/>
<line x1="994.5" y1="689.5" x2="994.5" y2="692.78"/>
<line x1="1013.5" y1="65.5" x2="1013.5" y2="62.22"/>
<line x1="1013.5" y1="273.5" x2="1013.5" y2="276.78"/>
<line x1="1013.5" y1="481.5" x2="1013.5" y2="484.78"/>
<line x1="1013.5" y1="689.5" x2="1013.5" y2="692.78"/>
<line x1="1031.5" y1="65.5" x2="1031.5" y2="62.22"/>
<line x1="1031.5" y1="273.5" x2="1031.5" y2="276.78"/>
<line x1="1031.5" y1="481.5" x2="1031.5" y2="484.78"/>
<line x1="1031.5" y1="689.5" x2="1031.5" y2="692.78"/>
<line x1="1049.5" y1="65.5" x2="1049.5" y2="62.22"/>
<line x1="1049.5" y1="273.5" x2="1049.5" y2="276.78"/>
<line x1="1049.5" y1="481.5" x2="1049.5" y2="484.78"/>
<line x1="1049.5" y1="689.5" x2="1049.5" y2="692.78"/>
<line x1="1067.5" y1="65.5" x2="1067.5" y2="62.22"/>
<line x1="1067.5" y1="273.5" x2="1067.5" y2="276.78"/>
<line x1="1067.5" y1="481.5" x2="1067.5" y2="484.78"/>
<line x1="1067.5" y1="689.5" x2="1067.5" y2="692.78"/>
<line x1="1085.5" y1="65.5" x2="1085.5" y2="60.14"/>
<line x1="1085.5" y1="273.5" x2="1085.5" y2="278.86"/>
<line x1="1085.5" y1="481.5" x2="1085.5" y2="486.86"/>
<line x1="1085.5" y1="689.5" x2="1085.5" y2="694.86"/>
<line x1="1103.5" y1="65.5" x2="1103.5" y2="62.22"/>
<line x1="1103.5" y1="273.5" x2="1103.5" y2="276.78"/>
<line x1="1103.5" y1="481.5" x2="1103.5" y2="484.78"/>
<line x1="1103.5" y1="689.5" x2="1103.5" y2="692.78"/>
<line x1="1121.5" y1="65.5" x2="1121.5" y2="62.22"/>
<line x1="1121.5" y1="273.5" x2="1121.5" y2="276.78"/>
<line x1="1121.5" y1="481.5" x2="1121.5" y2="484.78"/>
<line x1="1121.5" y1="689.5" x2="1121.5" y2="692.78"/>
<line x1="1139.5" y1="65.5" x2="1139.5" y2="62.22"/>
<line x1="1139.5" y1="273.5" x2="1139.5" y2="276.78"/>
<line x1="1139.5" y1="481.5" x2="1139.5" y2="484.78"/>
<line x1="1139.5" y1="689.5" x2="1139.5" y2="692.78"/>
<line x1="1157.5" y1="65.5" x2="1157.5" y2="62.22"/>
<line x1="1157.5" y1="273.5" x2="1157.5" y2="276.78"/>
<line x1="1157.5" y1="481.5" x2="1157.5" y2="484.78"/>
<line x1="1157.5" y1="689.5" x2="1157.5" y2="692.78"/>
<line x1="1175.5" y1="65.5" x2="1175.5" y2="62.22"/>
<line x1="1175.5" y1="273.5" x2="1175.5" y2="276.78"/>
<line x1="1175.5" y1="481.5" x2="1175.5" y2="484.78"/>
<line x1="1175.5" y1="689.5" x2="1175.5" y2="692.78"/>
<line x1="1193.5" y1="65.5" x2="1193.5" y2="60.14"/>
<line x1="1193.5" y1="273.5" x2="1193.5" y2="278.86"/>
<line x1="1193.5" y1="481.5" x2="1193.5" y2="486.86"/>
<line x1="1193.5" y1="689.5" x2="1193.5" y2="694.86"/>
<line x1="1211.5" y1="65.5" x2="1211.5" y2="62.22"/>
<line x1="1211.5" y1="273.5" x2="1211.5" y2="276.78"/>
<line x1="1211.5" y1="481.5" x2="1211.5" y2="484.78"/>
<line x1="1211.5" y1="689.5" x2="1211.5" y2="692.78"/>
<line x1="1229.5" y1="65.5" x2="1229.5" y2="62.22"/>
<line x1="1229.5" y1="273.5" x2="1229.5" y2="276.78"/>
<line x1="1229.5" y1="481.5" x2="1229.5" y2="484.78"/>
<line x1="1229.5" y1="689.5" x2="1229.5" y2="692.78"/>
<line x1="74.5" y1="273.5" x2="69.10" y2="273.5"/>
<line x1="74.5" y1="269.5" x2="69.10" y2="269.5"/>
<line x1="74.5" y1="264.5" x2="69.10" y2="264.5"/>
<line x1="74.5" y1="260.5" x2="69.10" y2="260.5"/>
<line x1="74.5" y1="256.5" x2="69.10" y2="256.5"/>
<line x1="74.5" y1="251.5" x2="69.10" y2="251.5"/>
<line x1="74.5" y1="247.5" x2="69.10" y2="247.5"/>
<line x1="74.5" y1="243.5" x2="69.10" y2="243.5"/>
<line x1="74.5" y1="238.5" x2="69.10" y2="238.5"/>
<line x1="74.5" y1="234.5" x2="69.10" y2="234.5"/>
<line x1="74.5" y1="230.5" x2="69.10" y2="230.5"/>
<line x1="74.5" y1="225.5" x2="69.10" y2="225.5"/>
<line x1="74.5" y1="221.5" x2="69.10" y2="221.5"/>
<line x1="74.5" y1="217.5" x2="69.10" y2="217.5"/>
<line x1="74.5" y1="212.5" x2="69.10" y2="212.5"/>
<line x1="74.5" y1="208.5" x2="69.10" y2="208.5"/>
<line x1="74.5" y1="204.5" x2="69.10" y2="204.5"/>
<line x1="74.5" y1="199.5" x2="69.10" y2="199.5"/>
<line x1="74.5" y1="195.5" x2="69.10" y2="195.5"/>
<line x1="74.5" y1="191.5" x2="69.10" y2="191.5"/>
<line x1="74.5" y1="186.5" x2="69.10" y2="186.5"/>
<line x1="74.5" y1="182.5" x2="69.10" y2="182.5"/>
<line x1="74.5" y1="178.5" x2="69.10" y2="178.5"/>
<line x1="74.5" y1="173.5" x2="69.10" y2="173.5"/>
<line x1="74.5" y1="169.5" x2="69.10" y2="169.5"/>
<line x1="74.5" y1="165.5" x2="69.10" y2="165.5"/>
<line x1="74.5" y1="160.5" x2="69.10" y2="160.5"/>
<line x1="74.5" y1="156.5" x2="69.10" y2="156.5"/>
<line x1="74.5" y1="152.5" x2="69.10" y2="152.5"/>
<line x1="74.5" y1="147.5" x2="69.10" y2="147.5"/>
<line x1="74.5" y1="143.5" x2="69.10" y2="143.5"/>
<line x1="74.5" y1="139.5" x2="69.10" y2="139.5"/>
<line x1="74.5" y1="134.5" x2="69.10" y2="134.5"/>
<line x1="74.5" y1="130.5" x2="69.10" y2="130.5"/>
<line x1="74.5" y1="126.5" x2="69.10" y2="126.5"/>
<line x1="74.5" y1="121.5" x2="69.10" y2="121.5"/>
<line x1="74.5" y1="117.5" x2="69.10" y2="117.5"/>
<line x1="74.5" y1="113.5" x2="69.10" y2="113.5"/>
<line x1="74.5" y1="108.5" x2="69.10" y2="108.5"/>
<line x1="74.5" y1="104.5" x2="69.10" y2="104.5"/>
<line x1="74.5" y1="100.5" x2="69.10" y2="100.5"/>
<line x1="74.5" y1="95.5" x2="69.10" y2="95.5"/>
<line x1="74.5" y1="91.5" x2="69.10" y2="91.5"/>
<line x1="74.5" y1="87.5" x2="69.10" y2="87.5"/>
<line x1="74.5" y1="82.5" x2="69.10" y2="82.5"/>
<line x1="74.5" y1="78.5" x2="69.10" y2="78.5"/>
<line x1="74.5" y1="74.5" x2="69.10" y2="74.5"/>
<line x1="74.5" y1="69.5" x2="69.10" y2="69.5"/>
<line x1="74.5" y1="65.5" x2="69.10" y2="65.5"/>
<line x1="74.5" y1="481.5" x2="69.10" y2="481.5"/>
<line x1="74.5" y1="477.5" x2="69.10" y2="477.5"/>
<line x1="74.5" y1="472.5" x2="69.10" y2="472.5"/>
<line x1="74.5" y1="468.5" x2="69.10" y2="468.5"/>
<line x1="74.5" y1="464.5" x2="69.10" y2="464.5"/>
<line x1="74.5" y1="459.5" x2="69.10" y2="459.5"/>
<line x1="74.5" y1="455.5" x2="69.10" y2="455.5"/>
<line x1="74.5" y1="451.5" x2="69.10" y2="451.5"/>
<line x1="74.5" y1="446.5" x2="69.10" y2="446.5"/>
<line x1="74.5" y1="442.5" x2="69.10" y2="442.5"/>
<line x1="74.5" y1="438.5" x2="69.10" y2="438.5"/>
<line x1="74.5" y1="433.5" x2="69.10" y2="433.5"/>
<line x1="74.5" y1="429.5" x2="69.10" y2="429.5"/>
<line x1="74.5" y1="425.5" x2="69.10" y2="425.5"/>
<line x1="74.5" y1="420.5" x2="69.10" y2="420.5"/>
<line x1="74.5" y1="416.5" x2="69.10" y2="416.5"/>
<line x1="74.5" y1="412.5" x2="69.10" y2="412.5"/>
<line x1="74.5" y1="407.5" x2="69.10" y2="407.5"/>
<line x1="74.5" y1="403.5" x2="69.10" y2="403.5"/>
<line x1="74.5" y1="399.5" x2="69.10" y2="399.5"/>
<line x1="74.5" y1="394.5" x2="69.10" y2="394.5"/>
<line x1="74.5" y1="390.5" x2="69.10" y2="390.5"/>
<line x1="74.5" y1="386.5" x2="69.10" y2="386.5"/>
<line x1="74.5" y1="381.5" x2="69.10" y2="381.5"/>
<line x1="74.5" y1="377.5" x2="69.10" y2="377.5"/>
<line x1="74.5" y1="373.5" x2="69.10" y2="373.5"/>
<line x1="74.5" y1="368.5" x2="69.10" y2="368.5"/>
<line x1="74.5" y1="364.5" x2="69.10" y2="364.5"/>
<line x1="74.5" y1="360.5" x2="69.10" y2="360.5"/>
<line x1="74.5" y1="355.5" x2="69.10" y2="355.5"/>
<line x1="74.5" y1="351.5" x2="69.10" y2="351.5"/>
<line x1="74.5" y1="347.5" x2="69.10" y2="347.5"/>
<line x1="74.5" y1="342.5" x2="69.10" y2="342.5"/>
<line x1="74.5" y1="338.5" x2="69.10" y2="338.5"/>
<line x1="74.5" y1="334.5" x2="69.10" y2="334.5"/>
<line x1="74.5" y1="329.5" x2="69.10" y2="329.5"/>
<line x1="74.5" y1="325.5" x2="69.10" y2="325.5"/>
<line x1="74.5" y1="321.5" x2="69.10" y2="321.5"/>
<line x1="74.5" y1="316.5" x2="69.10" y2="316.5"/>
<line x1="74.5" y1="312.5" x2="69.10" y2="312.5"/>
<line x1="74.5" y1="308.5" x2="69.10" y2="308.5"/>
<line x1="74.5" y1="303.5" x2="69.10" y2="303.5"/>
<line x1="74.5" y1="299.5" x2="69.10" y2="299.5"/>
<line x1="74.5" y1="295.5" x2="69.10" y2="295.5"/>
<line x1="74.5" y1="290.5" x2="69.10" y2="290.5"/>
<line x1="74.5" y1="286.5" x2="69.10" y2="286.5"/>
<line x1="74.5" y1="282.5" x2="69.10" y2="282.5"/>
<line x1="74.5" y1="277.5" x2="69.10" y2="277.5"/>
<line x1="74.5" y1="273.5" x2="69.10" y2="273.5"/>
<line x1="74.5" y1="682.5" x2="69.10" y2="682.5"/>
<line x1="74.5" y1="648.5" x2="69.10" y2="648.5"/>
<line x1="74.5" y1="615.5" x2="69.10" y2="615.5"/>
<line x1="74.5" y1="581.5" x2="69.10" y2="581.5"/>
<line x1="74.5" y1="548.5" x2="69.10" y2="548.5"/>
<line x1="74.5" y1="514.5" x2="69.10" y2="514.5"/>
</g>
<g font-family="'DejaVu Sans','Liberation Sans',sans-serif" fill="#000" style="white-space:pre">
<text font-size="16.62" text-anchor="middle" transform="translate(675 27.9) scale(1 1.065)" xml:space="preserve" style="white-space:pre" >2026-02-22  SOLARSPEL  3-24 GHz spectropolarimeter data   Stokes I,V   48 frequency channels   (calibration preliminary)</text>
<text x="111.2" y="57.1" font-size="13.89" text-anchor="middle" xml:space="preserve" style="white-space:pre" >00:00</text>
<text x="111.2" y="709.3" font-size="13.89" text-anchor="middle" xml:space="preserve" style="white-space:pre" >00:00</text>
<text x="219.5" y="57.1" font-size="13.89" text-anchor="middle" xml:space="preserve" style="white-space:pre" >01:00</text>
<text x="219.5" y="709.3" font-size="13.89" text-anchor="middle" xml:space="preserve" style="white-space:pre" >01:00</text>
<text x="327.8" y="57.1" font-size="13.89" text-anchor="middle" xml:space="preserve" style="white-space:pre" >02:00</text>
<text x="327.8" y="709.3" font-size="13.89" text-anchor="middle" xml:space="preserve" style="white-space:pre" >02:00</text>
<text x="436.0" y="57.1" font-size="13.89" text-anchor="middle" xml:space="preserve" style="white-space:pre" >03:00</text>
<text x="436.0" y="709.3" font-size="13.89" text-anchor="middle" xml:space="preserve" style="white-space:pre" >03:00</text>
<text x="544.2" y="57.1" font-size="13.89" text-anchor="middle" xml:space="preserve" style="white-space:pre" >04:00</text>
<text x="544.2" y="709.3" font-size="13.89" text-anchor="middle" xml:space="preserve" style="white-space:pre" >04:00</text>
<text x="652.5" y="57.1" font-size="13.89" text-anchor="middle" xml:space="preserve" style="white-space:pre" >05:00</text>
<text x="652.5" y="709.3" font-size="13.89" text-anchor="middle" xml:space="preserve" style="white-space:pre" >05:00</text>
<text x="760.8" y="57.1" font-size="13.89" text-anchor="middle" xml:space="preserve" style="white-space:pre" >06:00</text>
<text x="760.8" y="709.3" font-size="13.89" text-anchor="middle" xml:space="preserve" style="white-space:pre" >06:00</text>
<text x="869.0" y="57.1" font-size="13.89" text-anchor="middle" xml:space="preserve" style="white-space:pre" >07:00</text>
<text x="869.0" y="709.3" font-size="13.89" text-anchor="middle" xml:space="preserve" style="white-space:pre" >07:00</text>
<text x="977.2" y="57.1" font-size="13.89" text-anchor="middle" xml:space="preserve" style="white-space:pre" >08:00</text>
<text x="977.2" y="709.3" font-size="13.89" text-anchor="middle" xml:space="preserve" style="white-space:pre" >08:00</text>
<text x="1085.5" y="57.1" font-size="13.89" text-anchor="middle" xml:space="preserve" style="white-space:pre" >09:00</text>
<text x="1085.5" y="709.3" font-size="13.89" text-anchor="middle" xml:space="preserve" style="white-space:pre" >09:00</text>
<text x="1193.8" y="57.1" font-size="13.89" text-anchor="middle" xml:space="preserve" style="white-space:pre" >10:00</text>
<text x="1193.8" y="709.3" font-size="13.89" text-anchor="middle" xml:space="preserve" style="white-space:pre" >10:00</text>
<text x="64.2" y="71.1" font-size="13.89" text-anchor="end" xml:space="preserve" style="white-space:pre" >24.0</text>
<text x="64.2" y="93.0" font-size="13.89" text-anchor="end" xml:space="preserve" style="white-space:pre" >20.0</text>
<text x="64.2" y="114.8" font-size="13.89" text-anchor="end" xml:space="preserve" style="white-space:pre" >16.0</text>
<text x="64.2" y="142.0" font-size="13.89" text-anchor="end" xml:space="preserve" style="white-space:pre" >12.0</text>
<text x="64.2" y="163.5" font-size="13.89" text-anchor="end" xml:space="preserve" style="white-space:pre" >10.0</text>
<text x="64.2" y="185.7" font-size="13.89" text-anchor="end" xml:space="preserve" style="white-space:pre" >8.0</text>
<text x="64.2" y="211.9" font-size="13.89" text-anchor="end" xml:space="preserve" style="white-space:pre" >6.0</text>
<text x="64.2" y="233.8" font-size="13.89" text-anchor="end" xml:space="preserve" style="white-space:pre" >5.0</text>
<text x="64.2" y="256.1" font-size="13.89" text-anchor="end" xml:space="preserve" style="white-space:pre" >4.0</text>
<text x="64.2" y="279.0" font-size="13.89" text-anchor="end" xml:space="preserve" style="white-space:pre" >3.0</text>
<text x="64.2" y="301.0" font-size="13.89" text-anchor="end" xml:space="preserve" style="white-space:pre" >20.0</text>
<text x="64.2" y="322.8" font-size="13.89" text-anchor="end" xml:space="preserve" style="white-space:pre" >16.0</text>
<text x="64.2" y="350.0" font-size="13.89" text-anchor="end" xml:space="preserve" style="white-space:pre" >12.0</text>
<text x="64.2" y="371.5" font-size="13.89" text-anchor="end" xml:space="preserve" style="white-space:pre" >10.0</text>
<text x="64.2" y="393.7" font-size="13.89" text-anchor="end" xml:space="preserve" style="white-space:pre" >8.0</text>
<text x="64.2" y="419.9" font-size="13.89" text-anchor="end" xml:space="preserve" style="white-space:pre" >6.0</text>
<text x="64.2" y="441.8" font-size="13.89" text-anchor="end" xml:space="preserve" style="white-space:pre" >5.0</text>
<text x="64.2" y="464.1" font-size="13.89" text-anchor="end" xml:space="preserve" style="white-space:pre" >4.0</text>
<text x="64.2" y="487.0" font-size="13.89" text-anchor="end" xml:space="preserve" style="white-space:pre" >3.0</text>
<text x="64.2" y="687.3" font-size="13.89" text-anchor="end" xml:space="preserve" style="white-space:pre" >0</text>
<text x="64.2" y="653.7" font-size="13.89" text-anchor="end" xml:space="preserve" style="white-space:pre" >500</text>
<text x="64.2" y="620.1" font-size="13.89" text-anchor="end" xml:space="preserve" style="white-space:pre" >1000</text>
<text x="64.2" y="586.6" font-size="13.89" text-anchor="end" xml:space="preserve" style="white-space:pre" >1500</text>
<text x="64.2" y="553.0" font-size="13.89" text-anchor="end" xml:space="preserve" style="white-space:pre" >2000</text>
<text x="64.2" y="519.4" font-size="13.89" text-anchor="end" xml:space="preserve" style="white-space:pre" >2500</text>
<text font-size="16.62" text-anchor="middle" transform="translate(23.2 169.5) rotate(-90) scale(1 1.065)" xml:space="preserve" style="white-space:pre" >Frequency, GHz</text>
<text font-size="16.62" text-anchor="middle" transform="translate(23.2 377.5) rotate(-90) scale(1 1.065)" xml:space="preserve" style="white-space:pre" >Frequency, GHz</text>
<text font-size="16.62" text-anchor="middle" transform="translate(19.6 585.5) rotate(-90) scale(1 1.065)" xml:space="preserve" style="white-space:pre" >Stokes I,V plot, sfu</text>
<text x="1233.4" y="709.2" font-size="15.28" text-anchor="start" xml:space="preserve" style="white-space:pre" >UTC Time</text>
<text x="1257.6" y="81.1" font-size="13.89" text-anchor="start" xml:space="preserve" style="white-space:pre" >3000</text>
<text x="1257.6" y="112.3" font-size="13.89" text-anchor="start" xml:space="preserve" style="white-space:pre" >2500</text>
<text x="1257.6" y="143.4" font-size="13.89" text-anchor="start" xml:space="preserve" style="white-space:pre" >2000</text>
<text x="1257.6" y="174.6" font-size="13.89" text-anchor="start" xml:space="preserve" style="white-space:pre" >1500</text>
<text x="1257.6" y="205.8" font-size="13.89" text-anchor="start" xml:space="preserve" style="white-space:pre" >1000</text>
<text x="1257.6" y="236.9" font-size="13.89" text-anchor="start" xml:space="preserve" style="white-space:pre" >500</text>
<text x="1257.6" y="268.1" font-size="13.89" text-anchor="start" xml:space="preserve" style="white-space:pre" >0</text>
<text x="1257.6" y="288.1" font-size="13.89" text-anchor="start" xml:space="preserve" style="white-space:pre" >200</text>
<text x="1257.6" y="335.1" font-size="13.89" text-anchor="start" xml:space="preserve" style="white-space:pre" >100</text>
<text x="1257.6" y="382.1" font-size="13.89" text-anchor="start" xml:space="preserve" style="white-space:pre" >0</text>
<text x="1257.6" y="429.1" font-size="13.89" text-anchor="start" xml:space="preserve" style="white-space:pre" >−100</text>
<text x="1257.6" y="476.1" font-size="13.89" text-anchor="start" xml:space="preserve" style="white-space:pre" >−200</text>
<text font-size="16.62" text-anchor="middle" transform="translate(1312.3 170) rotate(-90) scale(1 1.065)" xml:space="preserve" style="white-space:pre" >Stokes I map, sfu</text>
<text font-size="16.62" text-anchor="middle" transform="translate(1315.6 377.5) rotate(-90) scale(1 1.065)" xml:space="preserve" style="white-space:pre" >Stokes V map, sfu</text>
</g>
<rect x="1239.5" y="76.5" width="9" height="187.0" fill="url(#cb1)" stroke="#000" stroke-width="1.11"/>
<rect x="1239.5" y="283.5" width="9" height="188.0" fill="url(#cb2)" stroke="#000" stroke-width="1.11"/>
<g stroke="#000" stroke-width="1.11">
<line x1="1248.5" y1="76.5" x2="1253.9" y2="76.5"/>
<line x1="1248.5" y1="107.5" x2="1253.9" y2="107.5"/>
<line x1="1248.5" y1="138.5" x2="1253.9" y2="138.5"/>
<line x1="1248.5" y1="170.5" x2="1253.9" y2="170.5"/>
<line x1="1248.5" y1="201.5" x2="1253.9" y2="201.5"/>
<line x1="1248.5" y1="232.5" x2="1253.9" y2="232.5"/>
<line x1="1248.5" y1="263.5" x2="1253.9" y2="263.5"/>
<line x1="1248.5" y1="283.5" x2="1253.9" y2="283.5"/>
<line x1="1248.5" y1="330.5" x2="1253.9" y2="330.5"/>
<line x1="1248.5" y1="377.5" x2="1253.9" y2="377.5"/>
<line x1="1248.5" y1="424.5" x2="1253.9" y2="424.5"/>
<line x1="1248.5" y1="471.5" x2="1253.9" y2="471.5"/>
</g>
<rect x="1234.4" y="487.2" width="109.9" height="176.9" rx="2.8" ry="2.8" fill="#fff" fill-opacity="0.8" stroke="#cccccc" stroke-opacity="0.8" stroke-width="1.39"/>
<g font-family="'DejaVu Sans','Liberation Sans',sans-serif" fill="#000" font-size="12.5">
<circle cx="1251.6" cy="498.7" r="3.9" fill="#0000ff"/>
<text x="1273.9" y="502.2">19.69 GHz</text>
<circle cx="1251.6" cy="518.0" r="3.9" fill="#0020bf"/>
<text x="1273.9" y="521.5">15.69 GHz</text>
<circle cx="1251.6" cy="537.2" r="3.9" fill="#004080"/>
<text x="1273.9" y="540.7">11.83 GHz</text>
<circle cx="1251.6" cy="556.5" r="3.9" fill="#006040"/>
<text x="1273.9" y="560.0">9.83 GHz</text>
<circle cx="1251.6" cy="575.7" r="3.9" fill="#008000"/>
<text x="1273.9" y="579.2">7.83 GHz</text>
<circle cx="1251.6" cy="595.0" r="3.9" fill="#406000"/>
<text x="1273.9" y="598.5">5.90 GHz</text>
<circle cx="1251.6" cy="614.3" r="3.9" fill="#804000"/>
<text x="1273.9" y="617.8">4.90 GHz</text>
<circle cx="1251.6" cy="633.5" r="3.9" fill="#bf2000"/>
<text x="1273.9" y="637.0">3.90 GHz</text>
<circle cx="1251.6" cy="652.8" r="3.9" fill="#ff0000"/>
<text x="1273.9" y="656.3">3.00 GHz</text>
</g></svg></body></html>
